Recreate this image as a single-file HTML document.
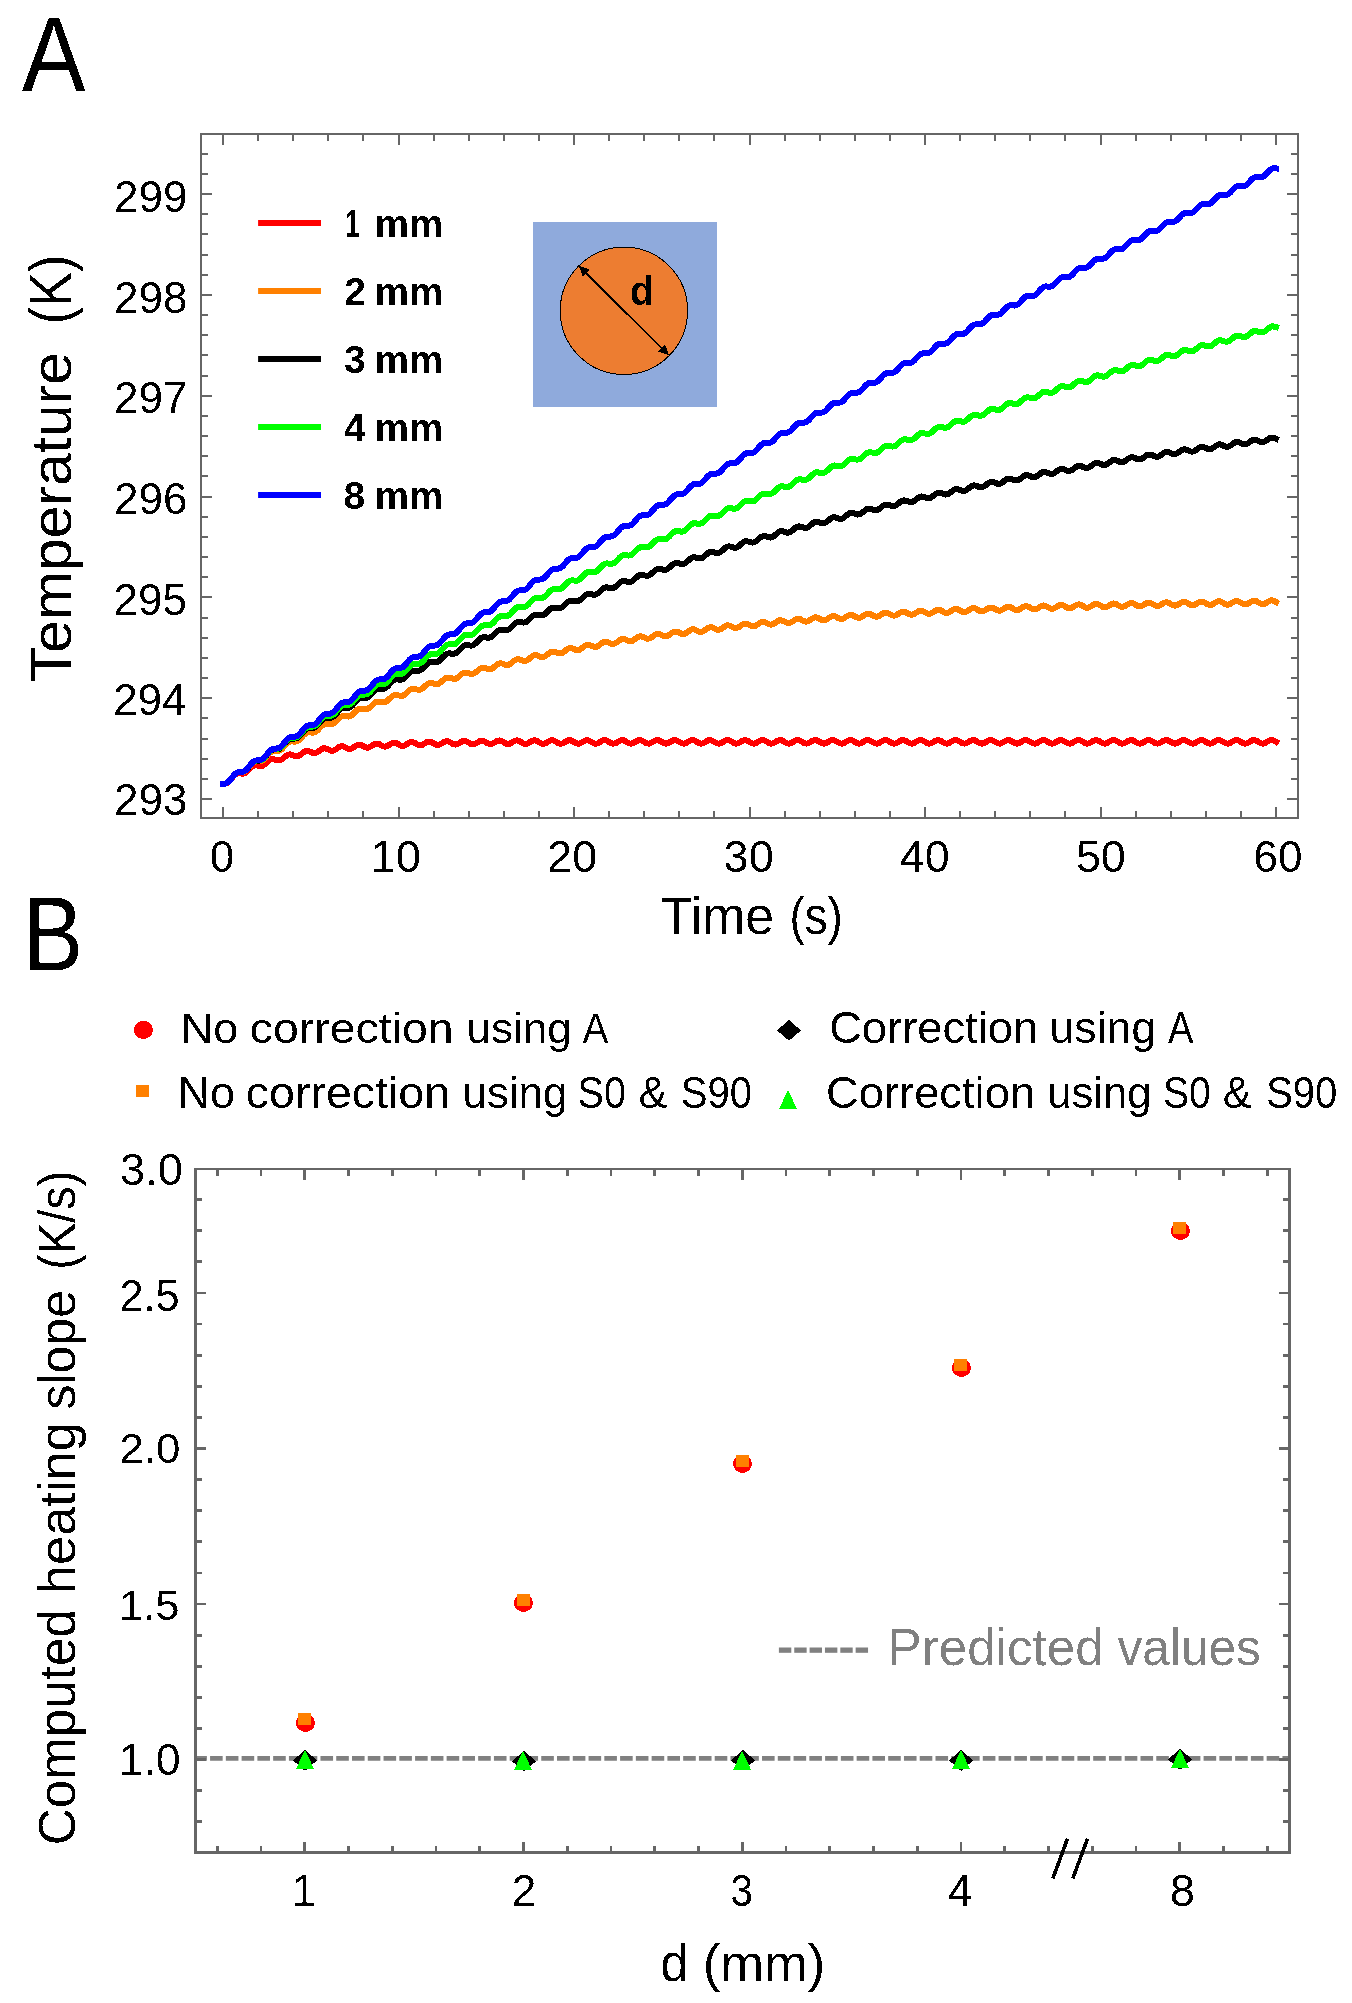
<!DOCTYPE html><html><head><meta charset="utf-8"><title>Figure</title>
<style>html,body{margin:0;padding:0;background:#fff;}svg{display:block;will-change:transform;}text{font-family:"Liberation Sans",sans-serif;font-size:100px;}</style></head><body>
<svg width="1352" height="2003" viewBox="0 0 1352 2003">
<rect width="1352" height="2003" fill="#fff"/>
<g shape-rendering="crispEdges">
<rect x="533.2" y="222" width="183.8" height="184.8" fill="#8FAADC"/>
<circle cx="623.9" cy="310.8" r="63.7" fill="#ED7D31" stroke="#000" stroke-width="1"/>
<path d="M582,268.8L665.7,352.1" stroke="#000" stroke-width="2"/>
<path d="M578.9,265.7L589.5,269.5L582.6,276.6Z" fill="#000"/>
<path d="M668.8,355.2L658.2,351.4L665.1,344.3Z" fill="#000"/>
</g>
<path d="M223.0,783.9 223.9,783.8 224.8,783.7 225.6,783.5 226.5,783.2 227.4,782.7 228.3,782.0 229.1,781.2 230.0,780.2 230.9,779.2 231.8,778.2 232.7,777.1 233.5,776.1 234.4,775.3 235.3,774.5 236.2,774.0 237.0,773.6 237.9,773.4 238.8,773.4 239.7,773.4 240.6,773.5 241.4,773.6 242.3,773.6 243.2,773.6 244.1,773.4 244.9,773.0 245.8,772.5 246.7,771.8 247.6,771.0 248.4,770.1 249.3,769.2 250.2,768.2 251.1,767.4 252.0,766.6 252.8,766.0 253.7,765.6 254.6,765.4 255.5,765.3 256.3,765.3 257.2,765.5 258.1,765.7 259.0,765.9 259.9,766.0 260.7,766.1 261.6,766.0 262.5,765.7 263.4,765.3 264.2,764.7 265.1,764.0 266.0,763.2 266.9,762.4 267.8,761.5 268.6,760.8 269.5,760.1 270.4,759.6 271.3,759.3 272.1,759.1 273.0,759.1 273.9,759.3 274.8,759.5 275.6,759.8 276.5,760.1 277.4,760.3 278.3,760.4 279.2,760.4 280.0,760.2 280.9,759.9 281.8,759.4 282.7,758.8 283.5,758.0 284.4,757.3 285.3,756.5 286.2,755.8 287.1,755.2 287.9,754.8 288.8,754.5 289.7,754.4 290.6,754.5 291.4,754.7 292.3,755.0 293.2,755.4 294.1,755.7 295.0,756.0 295.8,756.2 296.7,756.2 297.6,756.1 298.5,755.8 299.3,755.4 300.2,754.8 301.1,754.1 302.0,753.4 302.9,752.7 303.7,752.1 304.6,751.6 305.5,751.2 306.4,751.0 307.2,750.9 308.1,751.0 309.0,751.3 309.9,751.6 310.8,752.0 311.6,752.4 312.5,752.8 313.4,753.0 314.3,753.1 315.1,753.0 316.0,752.8 316.9,752.4 317.8,751.8 318.6,751.2 319.5,750.5 320.4,749.9 321.3,749.3 322.2,748.8 323.0,748.4 323.9,748.3 324.8,748.3 325.7,748.4 326.5,748.7 327.4,749.1 328.3,749.5 329.2,750.0 330.1,750.3 330.9,750.6 331.8,750.7 332.7,750.7 333.6,750.5 334.4,750.1 335.3,749.6 336.2,749.0 337.1,748.4 338.0,747.7 338.8,747.2 339.7,746.7 340.6,746.4 341.5,746.2 342.3,746.3 343.2,746.4 344.1,746.8 345.0,747.2 345.9,747.6 346.7,748.1 347.6,748.5 348.5,748.8 349.4,748.9 350.2,748.9 351.1,748.7 352.0,748.4 352.9,747.9 353.7,747.3 354.6,746.7 355.5,746.1 356.4,745.6 357.3,745.1 358.1,744.8 359.0,744.7 359.9,744.8 360.8,745.0 361.6,745.3 362.5,745.7 363.4,746.2 364.3,746.7 365.2,747.1 366.0,747.4 366.9,747.6 367.8,747.6 368.7,747.4 369.5,747.1 370.4,746.6 371.3,746.1 372.2,745.5 373.1,744.9 373.9,744.4 374.8,744.0 375.7,743.7 376.6,743.6 377.4,743.6 378.3,743.8 379.2,744.2 380.1,744.7 381.0,745.2 381.8,745.6 382.7,746.1 383.6,746.4 384.5,746.6 385.3,746.6 386.2,746.4 387.1,746.1 388.0,745.7 388.8,745.1 389.7,744.6 390.6,744.0 391.5,743.5 392.4,743.1 393.2,742.8 394.1,742.7 395.0,742.8 395.9,743.0 396.7,743.4 397.6,743.8 398.5,744.3 399.4,744.8 400.3,745.3 401.1,745.6 402.0,745.8 402.9,745.8 403.8,745.7 404.6,745.4 405.5,745.0 406.4,744.4 407.3,743.9 408.2,743.3 409.0,742.8 409.9,742.4 410.8,742.1 411.7,742.1 412.5,742.1 413.4,742.4 414.3,742.8 415.2,743.2 416.1,743.7 416.9,744.3 417.8,744.7 418.7,745.0 419.6,745.2 420.4,745.3 421.3,745.1 422.2,744.9 423.1,744.4 423.9,743.9 424.8,743.3 425.7,742.8 426.6,742.3 427.5,741.9 428.3,741.6 429.2,741.6 430.1,741.7 431.0,741.9 431.8,742.3 432.7,742.8 433.6,743.3 434.5,743.8 435.4,744.3 436.2,744.6 437.1,744.8 438.0,744.9 438.9,744.7 439.7,744.4 440.6,744.0 441.5,743.5 442.4,742.9 443.3,742.4 444.1,741.9 445.0,741.5 445.9,741.3 446.8,741.2 447.6,741.3 448.5,741.5 449.4,741.9 450.3,742.4 451.1,742.9 452.0,743.5 452.9,743.9 453.8,744.3 454.7,744.5 455.5,744.5 456.4,744.4 457.3,744.1 458.2,743.7 459.0,743.2 459.9,742.6 460.8,742.1 461.7,741.6 462.6,741.2 463.4,741.0 464.3,740.9 465.2,741.0 466.1,741.3 466.9,741.7 467.8,742.2 468.7,742.7 469.6,743.2 470.5,743.7 471.3,744.0 472.2,744.2 473.1,744.3 474.0,744.2 474.8,743.9 475.7,743.5 476.6,743.0 477.5,742.4 478.4,741.9 479.2,741.4 480.1,741.0 481.0,740.8 481.9,740.7 482.7,740.8 483.6,741.1 484.5,741.5 485.4,742.0 486.2,742.5 487.1,743.0 488.0,743.5 488.9,743.8 489.8,744.1 490.6,744.1 491.5,744.0 492.4,743.7 493.3,743.3 494.1,742.8 495.0,742.3 495.9,741.7 496.8,741.2 497.7,740.9 498.5,740.6 499.4,740.5 500.3,740.7 501.2,740.9 502.0,741.3 502.9,741.8 503.8,742.3 504.7,742.9 505.6,743.3 506.4,743.7 507.3,743.9 508.2,744.0 509.1,743.9 509.9,743.6 510.8,743.2 511.7,742.7 512.6,742.1 513.5,741.6 514.3,741.1 515.2,740.7 516.1,740.5 517.0,740.4 517.8,740.5 518.7,740.8 519.6,741.2 520.5,741.7 521.4,742.2 522.2,742.8 523.1,743.2 524.0,743.6 524.9,743.8 525.7,743.9 526.6,743.8 527.5,743.5 528.4,743.1 529.2,742.6 530.1,742.0 531.0,741.5 531.9,741.0 532.8,740.6 533.6,740.4 534.5,740.3 535.4,740.4 536.3,740.7 537.1,741.1 538.0,741.6 538.9,742.1 539.8,742.7 540.7,743.2 541.5,743.5 542.4,743.7 543.3,743.8 544.2,743.7 545.0,743.4 545.9,743.0 546.8,742.5 547.7,742.0 548.6,741.4 549.4,740.9 550.3,740.6 551.2,740.3 552.1,740.3 552.9,740.4 553.8,740.6 554.7,741.1 555.6,741.5 556.5,742.1 557.3,742.6 558.2,743.1 559.1,743.5 560.0,743.7 560.8,743.7 561.7,743.6 562.6,743.4 563.5,742.9 564.3,742.4 565.2,741.9 566.1,741.4 567.0,740.9 567.9,740.5 568.7,740.3 569.6,740.2 570.5,740.3 571.4,740.6 572.2,741.0 573.1,741.5 574.0,742.0 574.9,742.6 575.8,743.0 576.6,743.4 577.5,743.6 578.4,743.7 579.3,743.6 580.1,743.3 581.0,742.9 581.9,742.4 582.8,741.9 583.7,741.3 584.5,740.8 585.4,740.5 586.3,740.2 587.2,740.2 588.0,740.3 588.9,740.6 589.8,741.0 590.7,741.5 591.5,742.0 592.4,742.5 593.3,743.0 594.2,743.4 595.1,743.6 595.9,743.7 596.8,743.6 597.7,743.3 598.6,742.9 599.4,742.4 600.3,741.8 601.2,741.3 602.1,740.8 603.0,740.4 603.8,740.2 604.7,740.2 605.6,740.3 606.5,740.5 607.3,740.9 608.2,741.4 609.1,742.0 610.0,742.5 610.9,743.0 611.7,743.4 612.6,743.6 613.5,743.6 614.4,743.5 615.2,743.3 616.1,742.9 617.0,742.4 617.9,741.8 618.8,741.3 619.6,740.8 620.5,740.4 621.4,740.2 622.3,740.1 623.1,740.2 624.0,740.5 624.9,740.9 625.8,741.4 626.7,742.0 627.5,742.5 628.4,743.0 629.3,743.3 630.2,743.6 631.0,743.6 631.9,743.5 632.8,743.2 633.7,742.8 634.5,742.3 635.4,741.8 636.3,741.3 637.2,740.8 638.1,740.4 638.9,740.2 639.8,740.1 640.7,740.2 641.6,740.5 642.4,740.9 643.3,741.4 644.2,741.9 645.1,742.5 646.0,743.0 646.8,743.3 647.7,743.5 648.6,743.6 649.5,743.5 650.3,743.2 651.2,742.8 652.1,742.3 653.0,741.8 653.9,741.2 654.7,740.8 655.6,740.4 656.5,740.2 657.4,740.1 658.2,740.2 659.1,740.5 660.0,740.9 660.9,741.4 661.8,741.9 662.6,742.5 663.5,742.9 664.4,743.3 665.3,743.5 666.1,743.6 667.0,743.5 667.9,743.2 668.8,742.8 669.6,742.3 670.5,741.8 671.4,741.2 672.3,740.8 673.2,740.4 674.0,740.2 674.9,740.1 675.8,740.2 676.7,740.5 677.5,740.9 678.4,741.4 679.3,741.9 680.2,742.5 681.1,742.9 681.9,743.3 682.8,743.5 683.7,743.6 684.6,743.5 685.4,743.2 686.3,742.8 687.2,742.3 688.1,741.8 689.0,741.2 689.8,740.7 690.7,740.4 691.6,740.2 692.5,740.1 693.3,740.2 694.2,740.5 695.1,740.9 696.0,741.4 696.9,741.9 697.7,742.5 698.6,742.9 699.5,743.3 700.4,743.5 701.2,743.6 702.1,743.5 703.0,743.2 703.9,742.8 704.7,742.3 705.6,741.8 706.5,741.2 707.4,740.7 708.3,740.4 709.1,740.1 710.0,740.1 710.9,740.2 711.8,740.5 712.6,740.9 713.5,741.4 714.4,741.9 715.3,742.4 716.2,742.9 717.0,743.3 717.9,743.5 718.8,743.6 719.7,743.5 720.5,743.2 721.4,742.8 722.3,742.3 723.2,741.8 724.1,741.2 724.9,740.7 725.8,740.4 726.7,740.1 727.6,740.1 728.4,740.2 729.3,740.5 730.2,740.9 731.1,741.4 732.0,741.9 732.8,742.4 733.7,742.9 734.6,743.3 735.5,743.5 736.3,743.6 737.2,743.5 738.1,743.2 739.0,742.8 739.8,742.3 740.7,741.7 741.6,741.2 742.5,740.7 743.4,740.4 744.2,740.1 745.1,740.1 746.0,740.2 746.9,740.5 747.7,740.9 748.6,741.4 749.5,741.9 750.4,742.4 751.3,742.9 752.1,743.3 753.0,743.5 753.9,743.6 754.8,743.5 755.6,743.2 756.5,742.8 757.4,742.3 758.3,741.7 759.2,741.2 760.0,740.7 760.9,740.4 761.8,740.1 762.7,740.1 763.5,740.2 764.4,740.5 765.3,740.9 766.2,741.4 767.1,741.9 767.9,742.4 768.8,742.9 769.7,743.3 770.6,743.5 771.4,743.6 772.3,743.5 773.2,743.2 774.1,742.8 774.9,742.3 775.8,741.7 776.7,741.2 777.6,740.7 778.5,740.4 779.3,740.1 780.2,740.1 781.1,740.2 782.0,740.5 782.8,740.9 783.7,741.4 784.6,741.9 785.5,742.4 786.4,742.9 787.2,743.3 788.1,743.5 789.0,743.6 789.9,743.5 790.7,743.2 791.6,742.8 792.5,742.3 793.4,741.7 794.3,741.2 795.1,740.7 796.0,740.4 796.9,740.1 797.8,740.1 798.6,740.2 799.5,740.5 800.4,740.9 801.3,741.4 802.1,741.9 803.0,742.4 803.9,742.9 804.8,743.3 805.7,743.5 806.5,743.6 807.4,743.5 808.3,743.2 809.2,742.8 810.0,742.3 810.9,741.7 811.8,741.2 812.7,740.7 813.6,740.4 814.4,740.1 815.3,740.1 816.2,740.2 817.1,740.5 817.9,740.9 818.8,741.4 819.7,741.9 820.6,742.4 821.5,742.9 822.3,743.3 823.2,743.5 824.1,743.6 825.0,743.5 825.8,743.2 826.7,742.8 827.6,742.3 828.5,741.7 829.4,741.2 830.2,740.7 831.1,740.4 832.0,740.1 832.9,740.1 833.7,740.2 834.6,740.5 835.5,740.9 836.4,741.4 837.2,741.9 838.1,742.4 839.0,742.9 839.9,743.3 840.8,743.5 841.6,743.6 842.5,743.5 843.4,743.2 844.3,742.8 845.1,742.3 846.0,741.7 846.9,741.2 847.8,740.7 848.7,740.4 849.5,740.1 850.4,740.1 851.3,740.2 852.2,740.5 853.0,740.9 853.9,741.4 854.8,741.9 855.7,742.4 856.6,742.9 857.4,743.3 858.3,743.5 859.2,743.6 860.1,743.5 860.9,743.2 861.8,742.8 862.7,742.3 863.6,741.7 864.5,741.2 865.3,740.7 866.2,740.4 867.1,740.1 868.0,740.1 868.8,740.2 869.7,740.5 870.6,740.9 871.5,741.4 872.4,741.9 873.2,742.4 874.1,742.9 875.0,743.3 875.9,743.5 876.7,743.6 877.6,743.5 878.5,743.2 879.4,742.8 880.2,742.3 881.1,741.7 882.0,741.2 882.9,740.7 883.8,740.4 884.6,740.1 885.5,740.1 886.4,740.2 887.3,740.5 888.1,740.9 889.0,741.4 889.9,741.9 890.8,742.4 891.7,742.9 892.5,743.3 893.4,743.5 894.3,743.6 895.2,743.5 896.0,743.2 896.9,742.8 897.8,742.3 898.7,741.7 899.6,741.2 900.4,740.7 901.3,740.4 902.2,740.1 903.1,740.1 903.9,740.2 904.8,740.5 905.7,740.9 906.6,741.4 907.5,741.9 908.3,742.4 909.2,742.9 910.1,743.3 911.0,743.5 911.8,743.6 912.7,743.5 913.6,743.2 914.5,742.8 915.3,742.3 916.2,741.7 917.1,741.2 918.0,740.7 918.9,740.4 919.7,740.1 920.6,740.1 921.5,740.2 922.4,740.5 923.2,740.9 924.1,741.4 925.0,741.9 925.9,742.4 926.8,742.9 927.6,743.3 928.5,743.5 929.4,743.6 930.3,743.5 931.1,743.2 932.0,742.8 932.9,742.3 933.8,741.7 934.7,741.2 935.5,740.7 936.4,740.4 937.3,740.1 938.2,740.1 939.0,740.2 939.9,740.5 940.8,740.9 941.7,741.4 942.6,741.9 943.4,742.4 944.3,742.9 945.2,743.3 946.1,743.5 946.9,743.6 947.8,743.5 948.7,743.2 949.6,742.8 950.4,742.3 951.3,741.7 952.2,741.2 953.1,740.7 954.0,740.4 954.8,740.1 955.7,740.1 956.6,740.2 957.5,740.5 958.3,740.9 959.2,741.4 960.1,741.9 961.0,742.4 961.9,742.9 962.7,743.3 963.6,743.5 964.5,743.6 965.4,743.5 966.2,743.2 967.1,742.8 968.0,742.3 968.9,741.7 969.8,741.2 970.6,740.7 971.5,740.4 972.4,740.1 973.3,740.1 974.1,740.2 975.0,740.5 975.9,740.9 976.8,741.4 977.6,741.9 978.5,742.4 979.4,742.9 980.3,743.3 981.2,743.5 982.0,743.6 982.9,743.5 983.8,743.2 984.7,742.8 985.5,742.3 986.4,741.7 987.3,741.2 988.2,740.7 989.1,740.4 989.9,740.1 990.8,740.1 991.7,740.2 992.6,740.5 993.4,740.9 994.3,741.4 995.2,741.9 996.1,742.4 997.0,742.9 997.8,743.3 998.7,743.5 999.6,743.6 1000.5,743.5 1001.3,743.2 1002.2,742.8 1003.1,742.3 1004.0,741.7 1004.9,741.2 1005.7,740.7 1006.6,740.4 1007.5,740.1 1008.4,740.1 1009.2,740.2 1010.1,740.5 1011.0,740.9 1011.9,741.4 1012.8,741.9 1013.6,742.4 1014.5,742.9 1015.4,743.3 1016.3,743.5 1017.1,743.6 1018.0,743.5 1018.9,743.2 1019.8,742.8 1020.6,742.3 1021.5,741.7 1022.4,741.2 1023.3,740.7 1024.2,740.4 1025.0,740.1 1025.9,740.1 1026.8,740.2 1027.7,740.5 1028.5,740.9 1029.4,741.4 1030.3,741.9 1031.2,742.4 1032.1,742.9 1032.9,743.3 1033.8,743.5 1034.7,743.6 1035.6,743.5 1036.4,743.2 1037.3,742.8 1038.2,742.3 1039.1,741.7 1040.0,741.2 1040.8,740.7 1041.7,740.4 1042.6,740.1 1043.5,740.1 1044.3,740.2 1045.2,740.5 1046.1,740.9 1047.0,741.4 1047.8,741.9 1048.7,742.4 1049.6,742.9 1050.5,743.3 1051.4,743.5 1052.2,743.6 1053.1,743.5 1054.0,743.2 1054.9,742.8 1055.7,742.3 1056.6,741.7 1057.5,741.2 1058.4,740.7 1059.3,740.4 1060.1,740.1 1061.0,740.1 1061.9,740.2 1062.8,740.5 1063.6,740.9 1064.5,741.4 1065.4,741.9 1066.3,742.4 1067.2,742.9 1068.0,743.3 1068.9,743.5 1069.8,743.6 1070.7,743.5 1071.5,743.2 1072.4,742.8 1073.3,742.3 1074.2,741.7 1075.1,741.2 1075.9,740.7 1076.8,740.4 1077.7,740.1 1078.6,740.1 1079.4,740.2 1080.3,740.5 1081.2,740.9 1082.1,741.4 1083.0,741.9 1083.8,742.4 1084.7,742.9 1085.6,743.3 1086.5,743.5 1087.3,743.6 1088.2,743.5 1089.1,743.2 1090.0,742.8 1090.8,742.3 1091.7,741.7 1092.6,741.2 1093.5,740.7 1094.4,740.4 1095.2,740.1 1096.1,740.1 1097.0,740.2 1097.9,740.5 1098.7,740.9 1099.6,741.4 1100.5,741.9 1101.4,742.4 1102.3,742.9 1103.1,743.3 1104.0,743.5 1104.9,743.6 1105.8,743.5 1106.6,743.2 1107.5,742.8 1108.4,742.3 1109.3,741.7 1110.2,741.2 1111.0,740.7 1111.9,740.4 1112.8,740.1 1113.7,740.1 1114.5,740.2 1115.4,740.5 1116.3,740.9 1117.2,741.4 1118.1,741.9 1118.9,742.4 1119.8,742.9 1120.7,743.3 1121.6,743.5 1122.4,743.6 1123.3,743.5 1124.2,743.2 1125.1,742.8 1125.9,742.3 1126.8,741.7 1127.7,741.2 1128.6,740.7 1129.5,740.4 1130.3,740.1 1131.2,740.1 1132.1,740.2 1133.0,740.5 1133.8,740.9 1134.7,741.4 1135.6,741.9 1136.5,742.4 1137.4,742.9 1138.2,743.3 1139.1,743.5 1140.0,743.6 1140.9,743.5 1141.7,743.2 1142.6,742.8 1143.5,742.3 1144.4,741.7 1145.3,741.2 1146.1,740.7 1147.0,740.4 1147.9,740.1 1148.8,740.1 1149.6,740.2 1150.5,740.5 1151.4,740.9 1152.3,741.4 1153.2,741.9 1154.0,742.4 1154.9,742.9 1155.8,743.3 1156.7,743.5 1157.5,743.6 1158.4,743.5 1159.3,743.2 1160.2,742.8 1161.0,742.3 1161.9,741.7 1162.8,741.2 1163.7,740.7 1164.6,740.4 1165.4,740.1 1166.3,740.1 1167.2,740.2 1168.1,740.5 1168.9,740.9 1169.8,741.4 1170.7,741.9 1171.6,742.4 1172.5,742.9 1173.3,743.3 1174.2,743.5 1175.1,743.6 1176.0,743.5 1176.8,743.2 1177.7,742.8 1178.6,742.3 1179.5,741.7 1180.4,741.2 1181.2,740.7 1182.1,740.4 1183.0,740.1 1183.9,740.1 1184.7,740.2 1185.6,740.5 1186.5,740.9 1187.4,741.4 1188.2,741.9 1189.1,742.4 1190.0,742.9 1190.9,743.3 1191.8,743.5 1192.6,743.6 1193.5,743.5 1194.4,743.2 1195.3,742.8 1196.1,742.3 1197.0,741.7 1197.9,741.2 1198.8,740.7 1199.7,740.4 1200.5,740.1 1201.4,740.1 1202.3,740.2 1203.2,740.5 1204.0,740.9 1204.9,741.4 1205.8,741.9 1206.7,742.4 1207.6,742.9 1208.4,743.3 1209.3,743.5 1210.2,743.6 1211.1,743.5 1211.9,743.2 1212.8,742.8 1213.7,742.3 1214.6,741.7 1215.5,741.2 1216.3,740.7 1217.2,740.4 1218.1,740.1 1219.0,740.1 1219.8,740.2 1220.7,740.5 1221.6,740.9 1222.5,741.4 1223.3,741.9 1224.2,742.4 1225.1,742.9 1226.0,743.3 1226.9,743.5 1227.7,743.6 1228.6,743.5 1229.5,743.2 1230.4,742.8 1231.2,742.3 1232.1,741.7 1233.0,741.2 1233.9,740.7 1234.8,740.4 1235.6,740.1 1236.5,740.1 1237.4,740.2 1238.3,740.5 1239.1,740.9 1240.0,741.4 1240.9,741.9 1241.8,742.4 1242.7,742.9 1243.5,743.3 1244.4,743.5 1245.3,743.6 1246.2,743.5 1247.0,743.2 1247.9,742.8 1248.8,742.3 1249.7,741.7 1250.6,741.2 1251.4,740.7 1252.3,740.4 1253.2,740.1 1254.1,740.1 1254.9,740.2 1255.8,740.5 1256.7,740.9 1257.6,741.4 1258.5,741.9 1259.3,742.4 1260.2,742.9 1261.1,743.3 1262.0,743.5 1262.8,743.6 1263.7,743.5 1264.6,743.2 1265.5,742.8 1266.3,742.3 1267.2,741.7 1268.1,741.2 1269.0,740.7 1269.9,740.4 1270.7,740.1 1271.6,740.1 1272.5,740.2 1273.4,740.5 1274.2,740.9 1275.1,741.4 1276.0,741.9" fill="none" stroke="#ff0000" stroke-width="4.4" stroke-linejoin="round"/>
<path d="M223.0,783.9 223.9,783.8 224.8,783.7 225.6,783.5 226.5,783.2 227.4,782.7 228.3,782.0 229.1,781.2 230.0,780.2 230.9,779.2 231.8,778.2 232.7,777.1 233.5,776.1 234.4,775.3 235.3,774.5 236.2,774.0 237.0,773.6 237.9,773.4 238.8,773.4 239.7,773.4 240.6,773.5 241.4,773.6 242.3,773.6 243.2,773.6 244.1,773.4 244.9,773.0 245.8,772.5 246.7,771.8 247.6,771.0 248.4,770.1 249.3,769.2 250.2,768.2 251.1,767.4 252.0,766.6 252.8,766.0 253.7,765.6 254.6,765.4 255.5,765.3 256.3,765.3 257.2,765.5 258.1,765.7 259.0,765.9 259.9,766.0 260.7,766.1 261.6,766.0 262.5,765.7 263.4,765.3 264.2,764.7 265.1,764.0 266.0,763.2 266.9,762.4 267.8,761.5 268.6,760.8 269.5,760.1 270.4,759.6 271.3,759.3 272.1,759.1 273.0,759.1 273.9,759.3 274.8,759.5 275.6,759.8 276.5,760.1 277.4,760.3 278.3,760.4 279.2,760.4 280.0,760.2 280.9,759.9 281.8,759.4 282.7,758.8 283.5,758.0 284.4,757.3 285.3,756.5 286.2,755.8 287.1,755.2 287.9,754.8 288.8,754.5 289.7,754.4 290.6,754.5 291.4,754.7 292.3,755.0 293.2,755.4 294.1,755.7 295.0,756.0 295.8,756.2 296.7,756.2 297.6,756.1 298.5,755.8 299.3,755.4 300.2,754.8 301.1,754.1 302.0,753.4 302.9,752.7 303.7,752.1 304.6,751.6 305.5,751.2 306.4,751.0 307.2,750.9 308.1,751.0 309.0,751.3 309.9,751.6 310.8,752.0 311.6,752.4 312.5,752.8 313.4,753.0 314.3,753.1 315.1,753.0 316.0,752.8 316.9,752.4 317.8,751.8 318.6,751.2 319.5,750.5 320.4,749.9 321.3,749.3 322.2,748.8 323.0,748.4 323.9,748.3 324.8,748.3 325.7,748.4 326.5,748.7 327.4,749.1 328.3,749.5 329.2,750.0 330.1,750.3 330.9,750.6 331.8,750.7 332.7,750.7 333.6,750.5 334.4,750.1 335.3,749.6 336.2,749.0 337.1,748.4 338.0,747.7 338.8,747.2 339.7,746.7 340.6,746.4 341.5,746.2 342.3,746.3 343.2,746.4 344.1,746.8 345.0,747.2 345.9,747.6 346.7,748.1 347.6,748.5 348.5,748.8 349.4,748.9 350.2,748.9 351.1,748.7 352.0,748.4 352.9,747.9 353.7,747.3 354.6,746.7 355.5,746.1 356.4,745.6 357.3,745.1 358.1,744.8 359.0,744.7 359.9,744.8 360.8,745.0 361.6,745.3 362.5,745.7 363.4,746.2 364.3,746.7 365.2,747.1 366.0,747.4 366.9,747.6 367.8,747.6 368.7,747.4 369.5,747.1 370.4,746.6 371.3,746.1 372.2,745.5 373.1,744.9 373.9,744.4 374.8,744.0 375.7,743.7 376.6,743.6 377.4,743.6 378.3,743.8 379.2,744.2 380.1,744.7 381.0,745.2 381.8,745.6 382.7,746.1 383.6,746.4 384.5,746.6 385.3,746.6 386.2,746.4 387.1,746.1 388.0,745.7 388.8,745.1 389.7,744.6 390.6,744.0 391.5,743.5 392.4,743.1 393.2,742.8 394.1,742.7 395.0,742.8 395.9,743.0 396.7,743.4 397.6,743.8 398.5,744.3 399.4,744.8 400.3,745.3 401.1,745.6 402.0,745.8 402.9,745.8 403.8,745.7 404.6,745.4 405.5,745.0 406.4,744.4 407.3,743.9 408.2,743.3 409.0,742.8 409.9,742.4 410.8,742.1 411.7,742.1 412.5,742.1 413.4,742.4 414.3,742.8 415.2,743.2 416.1,743.7 416.9,744.3 417.8,744.7 418.7,745.0 419.6,745.2 420.4,745.3 421.3,745.1 422.2,744.9 423.1,744.4 423.9,743.9 424.8,743.3 425.7,742.8 426.6,742.3 427.5,741.9 428.3,741.6 429.2,741.6 430.1,741.7 431.0,741.9 431.8,742.3 432.7,742.8 433.6,743.3 434.5,743.8 435.4,744.3 436.2,744.6 437.1,744.8 438.0,744.9 438.9,744.7 439.7,744.4 440.6,744.0 441.5,743.5 442.4,742.9 443.3,742.4 444.1,741.9 445.0,741.5 445.9,741.3 446.8,741.2 447.6,741.3 448.5,741.5 449.4,741.9 450.3,742.4 451.1,742.9 452.0,743.5 452.9,743.9 453.8,744.3 454.7,744.5 455.5,744.5 456.4,744.4 457.3,744.1 458.2,743.7 459.0,743.2 459.9,742.6 460.8,742.1 461.7,741.6 462.6,741.2 463.4,741.0 464.3,740.9 465.2,741.0 466.1,741.3 466.9,741.7 467.8,742.2 468.7,742.7 469.6,743.2 470.5,743.7 471.3,744.0 472.2,744.2 473.1,744.3 474.0,744.2 474.8,743.9 475.7,743.5 476.6,743.0 477.5,742.4 478.4,741.9 479.2,741.4 480.1,741.0 481.0,740.8 481.9,740.7 482.7,740.8 483.6,741.1 484.5,741.5 485.4,742.0 486.2,742.5 487.1,743.0 488.0,743.5 488.9,743.8 489.8,744.1 490.6,744.1 491.5,744.0 492.4,743.7 493.3,743.3 494.1,742.8 495.0,742.3 495.9,741.7 496.8,741.2 497.7,740.9 498.5,740.6 499.4,740.5 500.3,740.7 501.2,740.9 502.0,741.3 502.9,741.8 503.8,742.3 504.7,742.9 505.6,743.3 506.4,743.7 507.3,743.9 508.2,744.0 509.1,743.9 509.9,743.6 510.8,743.2 511.7,742.7 512.6,742.1 513.5,741.6 514.3,741.1 515.2,740.7 516.1,740.5 517.0,740.4 517.8,740.5 518.7,740.8 519.6,741.2 520.5,741.7 521.4,742.2 522.2,742.8 523.1,743.2 524.0,743.6 524.9,743.8 525.7,743.9 526.6,743.8 527.5,743.5 528.4,743.1 529.2,742.6 530.1,742.0 531.0,741.5 531.9,741.0 532.8,740.6 533.6,740.4 534.5,740.3 535.4,740.4 536.3,740.7 537.1,741.1 538.0,741.6 538.9,742.1 539.8,742.7 540.7,743.2 541.5,743.5 542.4,743.7 543.3,743.8 544.2,743.7 545.0,743.4 545.9,743.0 546.8,742.5 547.7,742.0 548.6,741.4 549.4,740.9 550.3,740.6 551.2,740.3 552.1,740.3 552.9,740.4 553.8,740.6 554.7,741.1 555.6,741.5 556.5,742.1 557.3,742.6 558.2,743.1 559.1,743.5 560.0,743.7 560.8,743.7 561.7,743.6 562.6,743.4 563.5,742.9 564.3,742.4 565.2,741.9 566.1,741.4 567.0,740.9 567.9,740.5 568.7,740.3 569.6,740.2 570.5,740.3 571.4,740.6 572.2,741.0 573.1,741.5 574.0,742.0 574.9,742.6 575.8,743.0 576.6,743.4 577.5,743.6 578.4,743.7 579.3,743.6 580.1,743.3 581.0,742.9 581.9,742.4 582.8,741.9 583.7,741.3 584.5,740.8 585.4,740.5 586.3,740.2 587.2,740.2 588.0,740.3 588.9,740.6 589.8,741.0 590.7,741.5 591.5,742.0 592.4,742.5 593.3,743.0 594.2,743.4 595.1,743.6 595.9,743.7 596.8,743.6 597.7,743.3 598.6,742.9 599.4,742.4 600.3,741.8 601.2,741.3 602.1,740.8 603.0,740.4 603.8,740.2 604.7,740.2 605.6,740.3 606.5,740.5 607.3,740.9 608.2,741.4 609.1,742.0 610.0,742.5 610.9,743.0 611.7,743.4 612.6,743.6 613.5,743.6 614.4,743.5 615.2,743.3 616.1,742.9 617.0,742.4 617.9,741.8 618.8,741.3 619.6,740.8 620.5,740.4 621.4,740.2 622.3,740.1 623.1,740.2 624.0,740.5 624.9,740.9 625.8,741.4 626.7,742.0 627.5,742.5 628.4,743.0 629.3,743.3 630.2,743.6 631.0,743.6 631.9,743.5 632.8,743.2 633.7,742.8 634.5,742.3 635.4,741.8 636.3,741.3 637.2,740.8 638.1,740.4 638.9,740.2 639.8,740.1 640.7,740.2 641.6,740.5 642.4,740.9 643.3,741.4 644.2,741.9 645.1,742.5 646.0,743.0 646.8,743.3 647.7,743.5 648.6,743.6 649.5,743.5 650.3,743.2 651.2,742.8 652.1,742.3 653.0,741.8 653.9,741.2 654.7,740.8 655.6,740.4 656.5,740.2 657.4,740.1 658.2,740.2 659.1,740.5 660.0,740.9 660.9,741.4 661.8,741.9 662.6,742.5 663.5,742.9 664.4,743.3 665.3,743.5 666.1,743.6 667.0,743.5 667.9,743.2 668.8,742.8 669.6,742.3 670.5,741.8 671.4,741.2 672.3,740.8 673.2,740.4 674.0,740.2 674.9,740.1 675.8,740.2 676.7,740.5 677.5,740.9 678.4,741.4 679.3,741.9 680.2,742.5 681.1,742.9 681.9,743.3 682.8,743.5 683.7,743.6 684.6,743.5 685.4,743.2 686.3,742.8 687.2,742.3 688.1,741.8 689.0,741.2 689.8,740.7 690.7,740.4 691.6,740.2 692.5,740.1 693.3,740.2 694.2,740.5 695.1,740.9 696.0,741.4 696.9,741.9 697.7,742.5 698.6,742.9 699.5,743.3 700.4,743.5 701.2,743.6 702.1,743.5 703.0,743.2 703.9,742.8 704.7,742.3 705.6,741.8 706.5,741.2 707.4,740.7 708.3,740.4 709.1,740.1 710.0,740.1 710.9,740.2 711.8,740.5 712.6,740.9 713.5,741.4 714.4,741.9 715.3,742.4 716.2,742.9 717.0,743.3 717.9,743.5 718.8,743.6 719.7,743.5 720.5,743.2 721.4,742.8 722.3,742.3 723.2,741.8 724.1,741.2 724.9,740.7 725.8,740.4 726.7,740.1 727.6,740.1 728.4,740.2 729.3,740.5 730.2,740.9 731.1,741.4 732.0,741.9 732.8,742.4 733.7,742.9 734.6,743.3 735.5,743.5 736.3,743.6 737.2,743.5 738.1,743.2 739.0,742.8 739.8,742.3 740.7,741.7 741.6,741.2 742.5,740.7 743.4,740.4 744.2,740.1 745.1,740.1 746.0,740.2 746.9,740.5 747.7,740.9 748.6,741.4 749.5,741.9 750.4,742.4 751.3,742.9 752.1,743.3 753.0,743.5 753.9,743.6 754.8,743.5 755.6,743.2 756.5,742.8 757.4,742.3 758.3,741.7 759.2,741.2 760.0,740.7 760.9,740.4 761.8,740.1 762.7,740.1 763.5,740.2 764.4,740.5 765.3,740.9 766.2,741.4 767.1,741.9 767.9,742.4 768.8,742.9 769.7,743.3 770.6,743.5 771.4,743.6 772.3,743.5 773.2,743.2 774.1,742.8 774.9,742.3 775.8,741.7 776.7,741.2 777.6,740.7 778.5,740.4 779.3,740.1 780.2,740.1 781.1,740.2 782.0,740.5 782.8,740.9 783.7,741.4 784.6,741.9 785.5,742.4 786.4,742.9 787.2,743.3 788.1,743.5 789.0,743.6 789.9,743.5 790.7,743.2 791.6,742.8 792.5,742.3 793.4,741.7 794.3,741.2 795.1,740.7 796.0,740.4 796.9,740.1 797.8,740.1 798.6,740.2 799.5,740.5 800.4,740.9 801.3,741.4 802.1,741.9 803.0,742.4 803.9,742.9 804.8,743.3 805.7,743.5 806.5,743.6 807.4,743.5 808.3,743.2 809.2,742.8 810.0,742.3 810.9,741.7 811.8,741.2 812.7,740.7 813.6,740.4 814.4,740.1 815.3,740.1 816.2,740.2 817.1,740.5 817.9,740.9 818.8,741.4 819.7,741.9 820.6,742.4 821.5,742.9 822.3,743.3 823.2,743.5 824.1,743.6 825.0,743.5 825.8,743.2 826.7,742.8 827.6,742.3 828.5,741.7 829.4,741.2 830.2,740.7 831.1,740.4 832.0,740.1 832.9,740.1 833.7,740.2 834.6,740.5 835.5,740.9 836.4,741.4 837.2,741.9 838.1,742.4 839.0,742.9 839.9,743.3 840.8,743.5 841.6,743.6 842.5,743.5 843.4,743.2 844.3,742.8 845.1,742.3 846.0,741.7 846.9,741.2 847.8,740.7 848.7,740.4 849.5,740.1 850.4,740.1 851.3,740.2 852.2,740.5 853.0,740.9 853.9,741.4 854.8,741.9 855.7,742.4 856.6,742.9 857.4,743.3 858.3,743.5 859.2,743.6 860.1,743.5 860.9,743.2 861.8,742.8 862.7,742.3 863.6,741.7 864.5,741.2 865.3,740.7 866.2,740.4 867.1,740.1 868.0,740.1 868.8,740.2 869.7,740.5 870.6,740.9 871.5,741.4 872.4,741.9 873.2,742.4 874.1,742.9 875.0,743.3 875.9,743.5 876.7,743.6 877.6,743.5 878.5,743.2 879.4,742.8 880.2,742.3 881.1,741.7 882.0,741.2 882.9,740.7 883.8,740.4 884.6,740.1 885.5,740.1 886.4,740.2 887.3,740.5 888.1,740.9 889.0,741.4 889.9,741.9 890.8,742.4 891.7,742.9 892.5,743.3 893.4,743.5 894.3,743.6 895.2,743.5 896.0,743.2 896.9,742.8 897.8,742.3 898.7,741.7 899.6,741.2 900.4,740.7 901.3,740.4 902.2,740.1 903.1,740.1 903.9,740.2 904.8,740.5 905.7,740.9 906.6,741.4 907.5,741.9 908.3,742.4 909.2,742.9 910.1,743.3 911.0,743.5 911.8,743.6 912.7,743.5 913.6,743.2 914.5,742.8 915.3,742.3 916.2,741.7 917.1,741.2 918.0,740.7 918.9,740.4 919.7,740.1 920.6,740.1 921.5,740.2 922.4,740.5 923.2,740.9 924.1,741.4 925.0,741.9 925.9,742.4 926.8,742.9 927.6,743.3 928.5,743.5 929.4,743.6 930.3,743.5 931.1,743.2 932.0,742.8 932.9,742.3 933.8,741.7 934.7,741.2 935.5,740.7 936.4,740.4 937.3,740.1 938.2,740.1 939.0,740.2 939.9,740.5 940.8,740.9 941.7,741.4 942.6,741.9 943.4,742.4 944.3,742.9 945.2,743.3 946.1,743.5 946.9,743.6 947.8,743.5 948.7,743.2 949.6,742.8 950.4,742.3 951.3,741.7 952.2,741.2 953.1,740.7 954.0,740.4 954.8,740.1 955.7,740.1 956.6,740.2 957.5,740.5 958.3,740.9 959.2,741.4 960.1,741.9 961.0,742.4 961.9,742.9 962.7,743.3 963.6,743.5 964.5,743.6 965.4,743.5 966.2,743.2 967.1,742.8 968.0,742.3 968.9,741.7 969.8,741.2 970.6,740.7 971.5,740.4 972.4,740.1 973.3,740.1 974.1,740.2 975.0,740.5 975.9,740.9 976.8,741.4 977.6,741.9 978.5,742.4 979.4,742.9 980.3,743.3 981.2,743.5 982.0,743.6 982.9,743.5 983.8,743.2 984.7,742.8 985.5,742.3 986.4,741.7 987.3,741.2 988.2,740.7 989.1,740.4 989.9,740.1 990.8,740.1 991.7,740.2 992.6,740.5 993.4,740.9 994.3,741.4 995.2,741.9 996.1,742.4 997.0,742.9 997.8,743.3 998.7,743.5 999.6,743.6 1000.5,743.5 1001.3,743.2 1002.2,742.8 1003.1,742.3 1004.0,741.7 1004.9,741.2 1005.7,740.7 1006.6,740.4 1007.5,740.1 1008.4,740.1 1009.2,740.2 1010.1,740.5 1011.0,740.9 1011.9,741.4 1012.8,741.9 1013.6,742.4 1014.5,742.9 1015.4,743.3 1016.3,743.5 1017.1,743.6 1018.0,743.5 1018.9,743.2 1019.8,742.8 1020.6,742.3 1021.5,741.7 1022.4,741.2 1023.3,740.7 1024.2,740.4 1025.0,740.1 1025.9,740.1 1026.8,740.2 1027.7,740.5 1028.5,740.9 1029.4,741.4 1030.3,741.9 1031.2,742.4 1032.1,742.9 1032.9,743.3 1033.8,743.5 1034.7,743.6 1035.6,743.5 1036.4,743.2 1037.3,742.8 1038.2,742.3 1039.1,741.7 1040.0,741.2 1040.8,740.7 1041.7,740.4 1042.6,740.1 1043.5,740.1 1044.3,740.2 1045.2,740.5 1046.1,740.9 1047.0,741.4 1047.8,741.9 1048.7,742.4 1049.6,742.9 1050.5,743.3 1051.4,743.5 1052.2,743.6 1053.1,743.5 1054.0,743.2 1054.9,742.8 1055.7,742.3 1056.6,741.7 1057.5,741.2 1058.4,740.7 1059.3,740.4 1060.1,740.1 1061.0,740.1 1061.9,740.2 1062.8,740.5 1063.6,740.9 1064.5,741.4 1065.4,741.9 1066.3,742.4 1067.2,742.9 1068.0,743.3 1068.9,743.5 1069.8,743.6 1070.7,743.5 1071.5,743.2 1072.4,742.8 1073.3,742.3 1074.2,741.7 1075.1,741.2 1075.9,740.7 1076.8,740.4 1077.7,740.1 1078.6,740.1 1079.4,740.2 1080.3,740.5 1081.2,740.9 1082.1,741.4 1083.0,741.9 1083.8,742.4 1084.7,742.9 1085.6,743.3 1086.5,743.5 1087.3,743.6 1088.2,743.5 1089.1,743.2 1090.0,742.8 1090.8,742.3 1091.7,741.7 1092.6,741.2 1093.5,740.7 1094.4,740.4 1095.2,740.1 1096.1,740.1 1097.0,740.2 1097.9,740.5 1098.7,740.9 1099.6,741.4 1100.5,741.9 1101.4,742.4 1102.3,742.9 1103.1,743.3 1104.0,743.5 1104.9,743.6 1105.8,743.5 1106.6,743.2 1107.5,742.8 1108.4,742.3 1109.3,741.7 1110.2,741.2 1111.0,740.7 1111.9,740.4 1112.8,740.1 1113.7,740.1 1114.5,740.2 1115.4,740.5 1116.3,740.9 1117.2,741.4 1118.1,741.9 1118.9,742.4 1119.8,742.9 1120.7,743.3 1121.6,743.5 1122.4,743.6 1123.3,743.5 1124.2,743.2 1125.1,742.8 1125.9,742.3 1126.8,741.7 1127.7,741.2 1128.6,740.7 1129.5,740.4 1130.3,740.1 1131.2,740.1 1132.1,740.2 1133.0,740.5 1133.8,740.9 1134.7,741.4 1135.6,741.9 1136.5,742.4 1137.4,742.9 1138.2,743.3 1139.1,743.5 1140.0,743.6 1140.9,743.5 1141.7,743.2 1142.6,742.8 1143.5,742.3 1144.4,741.7 1145.3,741.2 1146.1,740.7 1147.0,740.4 1147.9,740.1 1148.8,740.1 1149.6,740.2 1150.5,740.5 1151.4,740.9 1152.3,741.4 1153.2,741.9 1154.0,742.4 1154.9,742.9 1155.8,743.3 1156.7,743.5 1157.5,743.6 1158.4,743.5 1159.3,743.2 1160.2,742.8 1161.0,742.3 1161.9,741.7 1162.8,741.2 1163.7,740.7 1164.6,740.4 1165.4,740.1 1166.3,740.1 1167.2,740.2 1168.1,740.5 1168.9,740.9 1169.8,741.4 1170.7,741.9 1171.6,742.4 1172.5,742.9 1173.3,743.3 1174.2,743.5 1175.1,743.6 1176.0,743.5 1176.8,743.2 1177.7,742.8 1178.6,742.3 1179.5,741.7 1180.4,741.2 1181.2,740.7 1182.1,740.4 1183.0,740.1 1183.9,740.1 1184.7,740.2 1185.6,740.5 1186.5,740.9 1187.4,741.4 1188.2,741.9 1189.1,742.4 1190.0,742.9 1190.9,743.3 1191.8,743.5 1192.6,743.6 1193.5,743.5 1194.4,743.2 1195.3,742.8 1196.1,742.3 1197.0,741.7 1197.9,741.2 1198.8,740.7 1199.7,740.4 1200.5,740.1 1201.4,740.1 1202.3,740.2 1203.2,740.5 1204.0,740.9 1204.9,741.4 1205.8,741.9 1206.7,742.4 1207.6,742.9 1208.4,743.3 1209.3,743.5 1210.2,743.6 1211.1,743.5 1211.9,743.2 1212.8,742.8 1213.7,742.3 1214.6,741.7 1215.5,741.2 1216.3,740.7 1217.2,740.4 1218.1,740.1 1219.0,740.1 1219.8,740.2 1220.7,740.5 1221.6,740.9 1222.5,741.4 1223.3,741.9 1224.2,742.4 1225.1,742.9 1226.0,743.3 1226.9,743.5 1227.7,743.6 1228.6,743.5 1229.5,743.2 1230.4,742.8 1231.2,742.3 1232.1,741.7 1233.0,741.2 1233.9,740.7 1234.8,740.4 1235.6,740.1 1236.5,740.1 1237.4,740.2 1238.3,740.5 1239.1,740.9 1240.0,741.4 1240.9,741.9 1241.8,742.4 1242.7,742.9 1243.5,743.3 1244.4,743.5 1245.3,743.6 1246.2,743.5 1247.0,743.2 1247.9,742.8 1248.8,742.3 1249.7,741.7 1250.6,741.2 1251.4,740.7 1252.3,740.4 1253.2,740.1 1254.1,740.1 1254.9,740.2 1255.8,740.5 1256.7,740.9 1257.6,741.4 1258.5,741.9 1259.3,742.4 1260.2,742.9 1261.1,743.3 1262.0,743.5 1262.8,743.6 1263.7,743.5 1264.6,743.2 1265.5,742.8 1266.3,742.3 1267.2,741.7 1268.1,741.2 1269.0,740.7 1269.9,740.4 1270.7,740.1 1271.6,740.1 1272.5,740.2 1273.4,740.5 1274.2,740.9 1275.1,741.4 1276.0,741.9" fill="none" stroke="#ff0000" stroke-width="6" stroke-linejoin="round" stroke-linecap="square" shape-rendering="crispEdges"/>
<path d="M223.0,783.9 223.9,783.8 224.8,783.7 225.6,783.5 226.5,783.1 227.4,782.6 228.3,782.0 229.1,781.1 230.0,780.1 230.9,779.1 231.8,777.9 232.7,776.8 233.5,775.7 234.4,774.8 235.3,773.9 236.2,773.3 237.0,772.8 237.9,772.5 238.8,772.3 239.7,772.3 240.6,772.2 241.4,772.2 242.3,772.1 243.2,772.0 244.1,771.7 244.9,771.2 245.8,770.5 246.7,769.7 247.6,768.8 248.4,767.7 249.3,766.7 250.2,765.6 251.1,764.5 252.0,763.6 252.8,762.8 253.7,762.2 254.6,761.8 255.5,761.5 256.3,761.3 257.2,761.3 258.1,761.3 259.0,761.3 259.9,761.3 260.7,761.2 261.6,760.9 262.5,760.4 263.4,759.8 264.2,759.1 265.1,758.2 266.0,757.1 266.9,756.1 267.8,755.0 268.6,754.0 269.5,753.1 270.4,752.4 271.3,751.8 272.1,751.4 273.0,751.2 273.9,751.0 274.8,751.0 275.6,751.1 276.5,751.1 277.4,751.1 278.3,751.0 279.2,750.8 280.0,750.4 280.9,749.8 281.8,749.1 282.7,748.2 283.5,747.2 284.4,746.2 285.3,745.2 286.2,744.2 287.1,743.3 287.9,742.6 288.8,742.1 289.7,741.7 290.6,741.5 291.4,741.4 292.3,741.4 293.2,741.5 294.1,741.6 295.0,741.6 295.8,741.5 296.7,741.3 297.6,741.0 298.5,740.4 299.3,739.7 300.2,738.8 301.1,737.9 302.0,736.9 302.9,735.9 303.7,735.0 304.6,734.2 305.5,733.5 306.4,732.9 307.2,732.6 308.1,732.4 309.0,732.4 309.9,732.4 310.8,732.5 311.6,732.6 312.5,732.7 313.4,732.6 314.3,732.5 315.1,732.1 316.0,731.6 316.9,730.9 317.8,730.1 318.6,729.2 319.5,728.2 320.4,727.2 321.3,726.3 322.2,725.5 323.0,724.9 323.9,724.4 324.8,724.1 325.7,723.9 326.5,723.9 327.4,724.0 328.3,724.1 329.2,724.2 330.1,724.3 330.9,724.3 331.8,724.1 332.7,723.8 333.6,723.3 334.4,722.7 335.3,721.9 336.2,721.0 337.1,720.1 338.0,719.1 338.8,718.2 339.7,717.5 340.6,716.8 341.5,716.4 342.3,716.1 343.2,715.9 344.1,715.9 345.0,716.1 345.9,716.2 346.7,716.4 347.6,716.5 348.5,716.5 349.4,716.4 350.2,716.1 351.1,715.6 352.0,715.0 352.9,714.2 353.7,713.3 354.6,712.4 355.5,711.5 356.4,710.7 357.3,709.9 358.1,709.3 359.0,708.8 359.9,708.6 360.8,708.5 361.6,708.5 362.5,708.6 363.4,708.8 364.3,709.0 365.2,709.1 366.0,709.2 366.9,709.1 367.8,708.8 368.7,708.3 369.5,707.7 370.4,707.0 371.3,706.2 372.2,705.3 373.1,704.4 373.9,703.5 374.8,702.8 375.7,702.2 376.6,701.8 377.4,701.5 378.3,701.5 379.2,701.5 380.1,701.7 381.0,701.9 381.8,702.1 382.7,702.2 383.6,702.3 384.5,702.2 385.3,702.0 386.2,701.5 387.1,701.0 388.0,700.2 388.8,699.4 389.7,698.5 390.6,697.7 391.5,696.9 392.4,696.2 393.2,695.6 394.1,695.2 395.0,695.0 395.9,694.9 396.7,695.0 397.6,695.2 398.5,695.4 399.4,695.6 400.3,695.8 401.1,695.9 402.0,695.8 402.9,695.6 403.8,695.2 404.6,694.6 405.5,693.9 406.4,693.1 407.3,692.3 408.2,691.4 409.0,690.6 409.9,689.9 410.8,689.4 411.7,689.0 412.5,688.8 413.4,688.8 414.3,688.9 415.2,689.0 416.1,689.3 416.9,689.5 417.8,689.7 418.7,689.8 419.6,689.8 420.4,689.6 421.3,689.2 422.2,688.7 423.1,688.0 423.9,687.2 424.8,686.4 425.7,685.5 426.6,684.8 427.5,684.1 428.3,683.6 429.2,683.2 430.1,683.0 431.0,683.0 431.8,683.1 432.7,683.3 433.6,683.6 434.5,683.9 435.4,684.1 436.2,684.2 437.1,684.2 438.0,684.0 438.9,683.6 439.7,683.1 440.6,682.4 441.5,681.6 442.4,680.8 443.3,680.0 444.1,679.3 445.0,678.6 445.9,678.1 446.8,677.8 447.6,677.6 448.5,677.6 449.4,677.7 450.3,678.0 451.1,678.2 452.0,678.5 452.9,678.8 453.8,678.9 454.7,678.9 455.5,678.7 456.4,678.4 457.3,677.8 458.2,677.2 459.0,676.5 459.9,675.7 460.8,674.9 461.7,674.1 462.6,673.5 463.4,673.0 464.3,672.7 465.2,672.5 466.1,672.5 466.9,672.7 467.8,672.9 468.7,673.2 469.6,673.5 470.5,673.8 471.3,673.9 472.2,673.9 473.1,673.8 474.0,673.4 474.8,672.9 475.7,672.3 476.6,671.6 477.5,670.8 478.4,670.0 479.2,669.3 480.1,668.7 481.0,668.2 481.9,667.9 482.7,667.8 483.6,667.8 484.5,667.9 485.4,668.2 486.2,668.5 487.1,668.8 488.0,669.1 488.9,669.3 489.8,669.3 490.6,669.1 491.5,668.8 492.4,668.4 493.3,667.7 494.1,667.0 495.0,666.3 495.9,665.5 496.8,664.8 497.7,664.2 498.5,663.7 499.4,663.4 500.3,663.3 501.2,663.3 502.0,663.5 502.9,663.8 503.8,664.1 504.7,664.5 505.6,664.7 506.4,664.9 507.3,664.9 508.2,664.8 509.1,664.5 509.9,664.0 510.8,663.4 511.7,662.7 512.6,662.0 513.5,661.2 514.3,660.5 515.2,660.0 516.1,659.5 517.0,659.2 517.8,659.1 518.7,659.2 519.6,659.4 520.5,659.7 521.4,660.0 522.2,660.3 523.1,660.6 524.0,660.8 524.9,660.9 525.7,660.7 526.6,660.5 527.5,660.0 528.4,659.4 529.2,658.7 530.1,658.0 531.0,657.3 531.9,656.6 532.8,656.0 533.6,655.6 534.5,655.3 535.4,655.2 536.3,655.3 537.1,655.5 538.0,655.8 538.9,656.1 539.8,656.5 540.7,656.8 541.5,657.0 542.4,657.0 543.3,656.9 544.2,656.7 545.0,656.2 545.9,655.7 546.8,655.0 547.7,654.2 548.6,653.5 549.4,652.9 550.3,652.3 551.2,651.9 552.1,651.6 552.9,651.5 553.8,651.6 554.7,651.8 555.6,652.1 556.5,652.5 557.3,652.9 558.2,653.2 559.1,653.4 560.0,653.5 560.8,653.4 561.7,653.1 562.6,652.7 563.5,652.1 564.3,651.5 565.2,650.7 566.1,650.0 567.0,649.4 567.9,648.8 568.7,648.4 569.6,648.2 570.5,648.1 571.4,648.2 572.2,648.4 573.1,648.7 574.0,649.1 574.9,649.5 575.8,649.8 576.6,650.0 577.5,650.1 578.4,650.0 579.3,649.8 580.1,649.4 581.0,648.8 581.9,648.2 582.8,647.4 583.7,646.7 584.5,646.1 585.4,645.6 586.3,645.2 587.2,644.9 588.0,644.9 588.9,645.0 589.8,645.2 590.7,645.5 591.5,645.9 592.4,646.3 593.3,646.6 594.2,646.9 595.1,647.0 595.9,646.9 596.8,646.7 597.7,646.2 598.6,645.7 599.4,645.1 600.3,644.4 601.2,643.7 602.1,643.0 603.0,642.5 603.8,642.1 604.7,641.9 605.6,641.8 606.5,641.9 607.3,642.2 608.2,642.5 609.1,642.9 610.0,643.3 610.9,643.7 611.7,643.9 612.6,644.0 613.5,644.0 614.4,643.7 615.2,643.3 616.1,642.8 617.0,642.2 617.9,641.5 618.8,640.8 619.6,640.2 620.5,639.6 621.4,639.3 622.3,639.0 623.1,639.0 624.0,639.1 624.9,639.4 625.8,639.7 626.7,640.1 627.5,640.5 628.4,640.9 629.3,641.1 630.2,641.3 631.0,641.2 631.9,641.0 632.8,640.6 633.7,640.1 634.5,639.4 635.4,638.8 636.3,638.1 637.2,637.5 638.1,637.0 638.9,636.6 639.8,636.4 640.7,636.3 641.6,636.5 642.4,636.7 643.3,637.1 644.2,637.5 645.1,637.9 646.0,638.3 646.8,638.6 647.7,638.7 648.6,638.6 649.5,638.4 650.3,638.0 651.2,637.5 652.1,636.9 653.0,636.2 653.9,635.6 654.7,635.0 655.6,634.4 656.5,634.1 657.4,633.9 658.2,633.8 659.1,634.0 660.0,634.3 660.9,634.6 661.8,635.1 662.6,635.5 663.5,635.8 664.4,636.1 665.3,636.2 666.1,636.2 667.0,636.0 667.9,635.6 668.8,635.1 669.6,634.5 670.5,633.8 671.4,633.2 672.3,632.6 673.2,632.1 674.0,631.7 674.9,631.5 675.8,631.5 676.7,631.7 677.5,631.9 678.4,632.3 679.3,632.8 680.2,633.2 681.1,633.6 681.9,633.8 682.8,634.0 683.7,633.9 684.6,633.7 685.4,633.4 686.3,632.9 687.2,632.3 688.1,631.6 689.0,631.0 689.8,630.4 690.7,629.9 691.6,629.5 692.5,629.3 693.3,629.3 694.2,629.5 695.1,629.8 696.0,630.2 696.9,630.6 697.7,631.0 698.6,631.4 699.5,631.7 700.4,631.8 701.2,631.8 702.1,631.6 703.0,631.3 703.9,630.8 704.7,630.2 705.6,629.5 706.5,628.9 707.4,628.3 708.3,627.8 709.1,627.5 710.0,627.3 710.9,627.3 711.8,627.4 712.6,627.7 713.5,628.1 714.4,628.6 715.3,629.0 716.2,629.4 717.0,629.7 717.9,629.8 718.8,629.8 719.7,629.6 720.5,629.3 721.4,628.8 722.3,628.2 723.2,627.6 724.1,626.9 724.9,626.3 725.8,625.9 726.7,625.5 727.6,625.4 728.4,625.4 729.3,625.5 730.2,625.8 731.1,626.2 732.0,626.7 732.8,627.1 733.7,627.5 734.6,627.8 735.5,628.0 736.3,628.0 737.2,627.8 738.1,627.4 739.0,627.0 739.8,626.4 740.7,625.7 741.6,625.1 742.5,624.5 743.4,624.1 744.2,623.7 745.1,623.6 746.0,623.6 746.9,623.7 747.7,624.0 748.6,624.4 749.5,624.9 750.4,625.4 751.3,625.8 752.1,626.1 753.0,626.2 753.9,626.2 754.8,626.0 755.6,625.7 756.5,625.2 757.4,624.6 758.3,624.0 759.2,623.4 760.0,622.8 760.9,622.3 761.8,622.0 762.7,621.9 763.5,621.9 764.4,622.0 765.3,622.4 766.2,622.8 767.1,623.2 767.9,623.7 768.8,624.1 769.7,624.4 770.6,624.6 771.4,624.6 772.3,624.4 773.2,624.1 774.1,623.6 774.9,623.0 775.8,622.4 776.7,621.8 777.6,621.2 778.5,620.8 779.3,620.4 780.2,620.3 781.1,620.3 782.0,620.5 782.8,620.8 783.7,621.2 784.6,621.7 785.5,622.1 786.4,622.5 787.2,622.9 788.1,623.0 789.0,623.0 789.9,622.9 790.7,622.5 791.6,622.1 792.5,621.5 793.4,620.9 794.3,620.3 795.1,619.7 796.0,619.3 796.9,618.9 797.8,618.8 798.6,618.8 799.5,619.0 800.4,619.3 801.3,619.7 802.1,620.2 803.0,620.7 803.9,621.1 804.8,621.4 805.7,621.6 806.5,621.6 807.4,621.4 808.3,621.1 809.2,620.6 810.0,620.1 810.9,619.5 811.8,618.9 812.7,618.3 813.6,617.9 814.4,617.5 815.3,617.4 816.2,617.4 817.1,617.6 817.9,617.9 818.8,618.4 819.7,618.8 820.6,619.3 821.5,619.7 822.3,620.1 823.2,620.2 824.1,620.2 825.0,620.1 825.8,619.8 826.7,619.3 827.6,618.8 828.5,618.1 829.4,617.5 830.2,617.0 831.1,616.5 832.0,616.2 832.9,616.1 833.7,616.1 834.6,616.3 835.5,616.6 836.4,617.1 837.2,617.5 838.1,618.0 839.0,618.5 839.9,618.8 840.8,619.0 841.6,619.0 842.5,618.8 843.4,618.5 844.3,618.1 845.1,617.5 846.0,616.9 846.9,616.3 847.8,615.7 848.7,615.3 849.5,615.0 850.4,614.9 851.3,614.9 852.2,615.1 853.0,615.4 853.9,615.9 854.8,616.3 855.7,616.8 856.6,617.3 857.4,617.6 858.3,617.8 859.2,617.8 860.1,617.6 860.9,617.3 861.8,616.9 862.7,616.3 863.6,615.7 864.5,615.1 865.3,614.6 866.2,614.1 867.1,613.8 868.0,613.7 868.8,613.7 869.7,613.9 870.6,614.3 871.5,614.7 872.4,615.2 873.2,615.7 874.1,616.1 875.0,616.5 875.9,616.7 876.7,616.7 877.6,616.5 878.5,616.2 879.4,615.8 880.2,615.2 881.1,614.6 882.0,614.0 882.9,613.5 883.8,613.1 884.6,612.8 885.5,612.6 886.4,612.7 887.3,612.9 888.1,613.2 889.0,613.7 889.9,614.2 890.8,614.6 891.7,615.1 892.5,615.4 893.4,615.6 894.3,615.6 895.2,615.5 896.0,615.2 896.9,614.8 897.8,614.2 898.7,613.6 899.6,613.0 900.4,612.5 901.3,612.1 902.2,611.8 903.1,611.6 903.9,611.7 904.8,611.9 905.7,612.2 906.6,612.7 907.5,613.2 908.3,613.7 909.2,614.1 910.1,614.4 911.0,614.6 911.8,614.7 912.7,614.5 913.6,614.2 914.5,613.8 915.3,613.2 916.2,612.7 917.1,612.1 918.0,611.5 918.9,611.1 919.7,610.8 920.6,610.7 921.5,610.7 922.4,610.9 923.2,611.3 924.1,611.7 925.0,612.2 925.9,612.7 926.8,613.2 927.6,613.5 928.5,613.7 929.4,613.8 930.3,613.6 931.1,613.3 932.0,612.9 932.9,612.3 933.8,611.8 934.7,611.2 935.5,610.6 936.4,610.2 937.3,609.9 938.2,609.8 939.0,609.8 939.9,610.1 940.8,610.4 941.7,610.9 942.6,611.4 943.4,611.9 944.3,612.3 945.2,612.7 946.1,612.9 946.9,612.9 947.8,612.8 948.7,612.5 949.6,612.0 950.4,611.5 951.3,610.9 952.2,610.3 953.1,609.8 954.0,609.4 954.8,609.1 955.7,609.0 956.6,609.0 957.5,609.2 958.3,609.6 959.2,610.0 960.1,610.5 961.0,611.0 961.9,611.5 962.7,611.8 963.6,612.1 964.5,612.1 965.4,612.0 966.2,611.7 967.1,611.2 968.0,610.7 968.9,610.1 969.8,609.5 970.6,609.0 971.5,608.6 972.4,608.3 973.3,608.2 974.1,608.2 975.0,608.5 975.9,608.8 976.8,609.3 977.6,609.8 978.5,610.3 979.4,610.7 980.3,611.1 981.2,611.3 982.0,611.3 982.9,611.2 983.8,610.9 984.7,610.5 985.5,610.0 986.4,609.4 987.3,608.8 988.2,608.3 989.1,607.9 989.9,607.6 990.8,607.5 991.7,607.5 992.6,607.7 993.4,608.1 994.3,608.6 995.2,609.1 996.1,609.6 997.0,610.0 997.8,610.4 998.7,610.6 999.6,610.6 1000.5,610.5 1001.3,610.2 1002.2,609.8 1003.1,609.3 1004.0,608.7 1004.9,608.1 1005.7,607.6 1006.6,607.2 1007.5,606.9 1008.4,606.8 1009.2,606.8 1010.1,607.1 1011.0,607.4 1011.9,607.9 1012.8,608.4 1013.6,608.9 1014.5,609.4 1015.4,609.7 1016.3,609.9 1017.1,610.0 1018.0,609.8 1018.9,609.6 1019.8,609.1 1020.6,608.6 1021.5,608.0 1022.4,607.5 1023.3,606.9 1024.2,606.5 1025.0,606.2 1025.9,606.1 1026.8,606.2 1027.7,606.4 1028.5,606.8 1029.4,607.2 1030.3,607.8 1031.2,608.3 1032.1,608.7 1032.9,609.1 1033.8,609.3 1034.7,609.4 1035.6,609.2 1036.4,608.9 1037.3,608.5 1038.2,608.0 1039.1,607.4 1040.0,606.9 1040.8,606.3 1041.7,605.9 1042.6,605.6 1043.5,605.5 1044.3,605.6 1045.2,605.8 1046.1,606.2 1047.0,606.7 1047.8,607.2 1048.7,607.7 1049.6,608.1 1050.5,608.5 1051.4,608.7 1052.2,608.8 1053.1,608.7 1054.0,608.4 1054.9,607.9 1055.7,607.4 1056.6,606.9 1057.5,606.3 1058.4,605.8 1059.3,605.4 1060.1,605.1 1061.0,605.0 1061.9,605.0 1062.8,605.3 1063.6,605.6 1064.5,606.1 1065.4,606.6 1066.3,607.1 1067.2,607.6 1068.0,608.0 1068.9,608.2 1069.8,608.2 1070.7,608.1 1071.5,607.8 1072.4,607.4 1073.3,606.9 1074.2,606.3 1075.1,605.7 1075.9,605.2 1076.8,604.8 1077.7,604.6 1078.6,604.4 1079.4,604.5 1080.3,604.7 1081.2,605.1 1082.1,605.6 1083.0,606.1 1083.8,606.6 1084.7,607.1 1085.6,607.4 1086.5,607.7 1087.3,607.7 1088.2,607.6 1089.1,607.3 1090.0,606.9 1090.8,606.4 1091.7,605.8 1092.6,605.2 1093.5,604.7 1094.4,604.3 1095.2,604.1 1096.1,604.0 1097.0,604.0 1097.9,604.3 1098.7,604.6 1099.6,605.1 1100.5,605.6 1101.4,606.1 1102.3,606.6 1103.1,607.0 1104.0,607.2 1104.9,607.2 1105.8,607.1 1106.6,606.8 1107.5,606.4 1108.4,605.9 1109.3,605.3 1110.2,604.8 1111.0,604.3 1111.9,603.9 1112.8,603.6 1113.7,603.5 1114.5,603.6 1115.4,603.8 1116.3,604.2 1117.2,604.6 1118.1,605.2 1118.9,605.7 1119.8,606.1 1120.7,606.5 1121.6,606.7 1122.4,606.8 1123.3,606.7 1124.2,606.4 1125.1,606.0 1125.9,605.5 1126.8,604.9 1127.7,604.3 1128.6,603.8 1129.5,603.4 1130.3,603.2 1131.2,603.1 1132.1,603.1 1133.0,603.4 1133.8,603.7 1134.7,604.2 1135.6,604.7 1136.5,605.3 1137.4,605.7 1138.2,606.1 1139.1,606.3 1140.0,606.4 1140.9,606.3 1141.7,606.0 1142.6,605.6 1143.5,605.1 1144.4,604.5 1145.3,603.9 1146.1,603.4 1147.0,603.0 1147.9,602.7 1148.8,602.6 1149.6,602.7 1150.5,603.0 1151.4,603.3 1152.3,603.8 1153.2,604.3 1154.0,604.9 1154.9,605.3 1155.8,605.7 1156.7,605.9 1157.5,606.0 1158.4,605.9 1159.3,605.6 1160.2,605.2 1161.0,604.7 1161.9,604.1 1162.8,603.5 1163.7,603.0 1164.6,602.6 1165.4,602.4 1166.3,602.3 1167.2,602.3 1168.1,602.6 1168.9,603.0 1169.8,603.4 1170.7,604.0 1171.6,604.5 1172.5,604.9 1173.3,605.3 1174.2,605.5 1175.1,605.6 1176.0,605.5 1176.8,605.2 1177.7,604.8 1178.6,604.3 1179.5,603.7 1180.4,603.2 1181.2,602.7 1182.1,602.3 1183.0,602.0 1183.9,601.9 1184.7,602.0 1185.6,602.2 1186.5,602.6 1187.4,603.1 1188.2,603.6 1189.1,604.1 1190.0,604.6 1190.9,605.0 1191.8,605.2 1192.6,605.3 1193.5,605.2 1194.4,604.9 1195.3,604.5 1196.1,604.0 1197.0,603.4 1197.9,602.8 1198.8,602.3 1199.7,601.9 1200.5,601.7 1201.4,601.6 1202.3,601.6 1203.2,601.9 1204.0,602.3 1204.9,602.7 1205.8,603.3 1206.7,603.8 1207.6,604.3 1208.4,604.6 1209.3,604.9 1210.2,604.9 1211.1,604.8 1211.9,604.6 1212.8,604.1 1213.7,603.6 1214.6,603.1 1215.5,602.5 1216.3,602.0 1217.2,601.6 1218.1,601.4 1219.0,601.3 1219.8,601.3 1220.7,601.6 1221.6,602.0 1222.5,602.4 1223.3,603.0 1224.2,603.5 1225.1,604.0 1226.0,604.3 1226.9,604.6 1227.7,604.6 1228.6,604.5 1229.5,604.3 1230.4,603.8 1231.2,603.3 1232.1,602.8 1233.0,602.2 1233.9,601.7 1234.8,601.3 1235.6,601.1 1236.5,601.0 1237.4,601.0 1238.3,601.3 1239.1,601.7 1240.0,602.1 1240.9,602.7 1241.8,603.2 1242.7,603.7 1243.5,604.0 1244.4,604.3 1245.3,604.3 1246.2,604.2 1247.0,604.0 1247.9,603.6 1248.8,603.1 1249.7,602.5 1250.6,601.9 1251.4,601.4 1252.3,601.0 1253.2,600.8 1254.1,600.7 1254.9,600.8 1255.8,601.0 1256.7,601.4 1257.6,601.9 1258.5,602.4 1259.3,602.9 1260.2,603.4 1261.1,603.8 1262.0,604.0 1262.8,604.1 1263.7,604.0 1264.6,603.7 1265.5,603.3 1266.3,602.8 1267.2,602.2 1268.1,601.7 1269.0,601.2 1269.9,600.8 1270.7,600.5 1271.6,600.4 1272.5,600.5 1273.4,600.8 1274.2,601.1 1275.1,601.6 1276.0,602.1" fill="none" stroke="#ff8000" stroke-width="4.4" stroke-linejoin="round"/>
<path d="M223.0,783.9 223.9,783.8 224.8,783.7 225.6,783.5 226.5,783.1 227.4,782.6 228.3,782.0 229.1,781.1 230.0,780.1 230.9,779.1 231.8,777.9 232.7,776.8 233.5,775.7 234.4,774.8 235.3,773.9 236.2,773.3 237.0,772.8 237.9,772.5 238.8,772.3 239.7,772.3 240.6,772.2 241.4,772.2 242.3,772.1 243.2,772.0 244.1,771.7 244.9,771.2 245.8,770.5 246.7,769.7 247.6,768.8 248.4,767.7 249.3,766.7 250.2,765.6 251.1,764.5 252.0,763.6 252.8,762.8 253.7,762.2 254.6,761.8 255.5,761.5 256.3,761.3 257.2,761.3 258.1,761.3 259.0,761.3 259.9,761.3 260.7,761.2 261.6,760.9 262.5,760.4 263.4,759.8 264.2,759.1 265.1,758.2 266.0,757.1 266.9,756.1 267.8,755.0 268.6,754.0 269.5,753.1 270.4,752.4 271.3,751.8 272.1,751.4 273.0,751.2 273.9,751.0 274.8,751.0 275.6,751.1 276.5,751.1 277.4,751.1 278.3,751.0 279.2,750.8 280.0,750.4 280.9,749.8 281.8,749.1 282.7,748.2 283.5,747.2 284.4,746.2 285.3,745.2 286.2,744.2 287.1,743.3 287.9,742.6 288.8,742.1 289.7,741.7 290.6,741.5 291.4,741.4 292.3,741.4 293.2,741.5 294.1,741.6 295.0,741.6 295.8,741.5 296.7,741.3 297.6,741.0 298.5,740.4 299.3,739.7 300.2,738.8 301.1,737.9 302.0,736.9 302.9,735.9 303.7,735.0 304.6,734.2 305.5,733.5 306.4,732.9 307.2,732.6 308.1,732.4 309.0,732.4 309.9,732.4 310.8,732.5 311.6,732.6 312.5,732.7 313.4,732.6 314.3,732.5 315.1,732.1 316.0,731.6 316.9,730.9 317.8,730.1 318.6,729.2 319.5,728.2 320.4,727.2 321.3,726.3 322.2,725.5 323.0,724.9 323.9,724.4 324.8,724.1 325.7,723.9 326.5,723.9 327.4,724.0 328.3,724.1 329.2,724.2 330.1,724.3 330.9,724.3 331.8,724.1 332.7,723.8 333.6,723.3 334.4,722.7 335.3,721.9 336.2,721.0 337.1,720.1 338.0,719.1 338.8,718.2 339.7,717.5 340.6,716.8 341.5,716.4 342.3,716.1 343.2,715.9 344.1,715.9 345.0,716.1 345.9,716.2 346.7,716.4 347.6,716.5 348.5,716.5 349.4,716.4 350.2,716.1 351.1,715.6 352.0,715.0 352.9,714.2 353.7,713.3 354.6,712.4 355.5,711.5 356.4,710.7 357.3,709.9 358.1,709.3 359.0,708.8 359.9,708.6 360.8,708.5 361.6,708.5 362.5,708.6 363.4,708.8 364.3,709.0 365.2,709.1 366.0,709.2 366.9,709.1 367.8,708.8 368.7,708.3 369.5,707.7 370.4,707.0 371.3,706.2 372.2,705.3 373.1,704.4 373.9,703.5 374.8,702.8 375.7,702.2 376.6,701.8 377.4,701.5 378.3,701.5 379.2,701.5 380.1,701.7 381.0,701.9 381.8,702.1 382.7,702.2 383.6,702.3 384.5,702.2 385.3,702.0 386.2,701.5 387.1,701.0 388.0,700.2 388.8,699.4 389.7,698.5 390.6,697.7 391.5,696.9 392.4,696.2 393.2,695.6 394.1,695.2 395.0,695.0 395.9,694.9 396.7,695.0 397.6,695.2 398.5,695.4 399.4,695.6 400.3,695.8 401.1,695.9 402.0,695.8 402.9,695.6 403.8,695.2 404.6,694.6 405.5,693.9 406.4,693.1 407.3,692.3 408.2,691.4 409.0,690.6 409.9,689.9 410.8,689.4 411.7,689.0 412.5,688.8 413.4,688.8 414.3,688.9 415.2,689.0 416.1,689.3 416.9,689.5 417.8,689.7 418.7,689.8 419.6,689.8 420.4,689.6 421.3,689.2 422.2,688.7 423.1,688.0 423.9,687.2 424.8,686.4 425.7,685.5 426.6,684.8 427.5,684.1 428.3,683.6 429.2,683.2 430.1,683.0 431.0,683.0 431.8,683.1 432.7,683.3 433.6,683.6 434.5,683.9 435.4,684.1 436.2,684.2 437.1,684.2 438.0,684.0 438.9,683.6 439.7,683.1 440.6,682.4 441.5,681.6 442.4,680.8 443.3,680.0 444.1,679.3 445.0,678.6 445.9,678.1 446.8,677.8 447.6,677.6 448.5,677.6 449.4,677.7 450.3,678.0 451.1,678.2 452.0,678.5 452.9,678.8 453.8,678.9 454.7,678.9 455.5,678.7 456.4,678.4 457.3,677.8 458.2,677.2 459.0,676.5 459.9,675.7 460.8,674.9 461.7,674.1 462.6,673.5 463.4,673.0 464.3,672.7 465.2,672.5 466.1,672.5 466.9,672.7 467.8,672.9 468.7,673.2 469.6,673.5 470.5,673.8 471.3,673.9 472.2,673.9 473.1,673.8 474.0,673.4 474.8,672.9 475.7,672.3 476.6,671.6 477.5,670.8 478.4,670.0 479.2,669.3 480.1,668.7 481.0,668.2 481.9,667.9 482.7,667.8 483.6,667.8 484.5,667.9 485.4,668.2 486.2,668.5 487.1,668.8 488.0,669.1 488.9,669.3 489.8,669.3 490.6,669.1 491.5,668.8 492.4,668.4 493.3,667.7 494.1,667.0 495.0,666.3 495.9,665.5 496.8,664.8 497.7,664.2 498.5,663.7 499.4,663.4 500.3,663.3 501.2,663.3 502.0,663.5 502.9,663.8 503.8,664.1 504.7,664.5 505.6,664.7 506.4,664.9 507.3,664.9 508.2,664.8 509.1,664.5 509.9,664.0 510.8,663.4 511.7,662.7 512.6,662.0 513.5,661.2 514.3,660.5 515.2,660.0 516.1,659.5 517.0,659.2 517.8,659.1 518.7,659.2 519.6,659.4 520.5,659.7 521.4,660.0 522.2,660.3 523.1,660.6 524.0,660.8 524.9,660.9 525.7,660.7 526.6,660.5 527.5,660.0 528.4,659.4 529.2,658.7 530.1,658.0 531.0,657.3 531.9,656.6 532.8,656.0 533.6,655.6 534.5,655.3 535.4,655.2 536.3,655.3 537.1,655.5 538.0,655.8 538.9,656.1 539.8,656.5 540.7,656.8 541.5,657.0 542.4,657.0 543.3,656.9 544.2,656.7 545.0,656.2 545.9,655.7 546.8,655.0 547.7,654.2 548.6,653.5 549.4,652.9 550.3,652.3 551.2,651.9 552.1,651.6 552.9,651.5 553.8,651.6 554.7,651.8 555.6,652.1 556.5,652.5 557.3,652.9 558.2,653.2 559.1,653.4 560.0,653.5 560.8,653.4 561.7,653.1 562.6,652.7 563.5,652.1 564.3,651.5 565.2,650.7 566.1,650.0 567.0,649.4 567.9,648.8 568.7,648.4 569.6,648.2 570.5,648.1 571.4,648.2 572.2,648.4 573.1,648.7 574.0,649.1 574.9,649.5 575.8,649.8 576.6,650.0 577.5,650.1 578.4,650.0 579.3,649.8 580.1,649.4 581.0,648.8 581.9,648.2 582.8,647.4 583.7,646.7 584.5,646.1 585.4,645.6 586.3,645.2 587.2,644.9 588.0,644.9 588.9,645.0 589.8,645.2 590.7,645.5 591.5,645.9 592.4,646.3 593.3,646.6 594.2,646.9 595.1,647.0 595.9,646.9 596.8,646.7 597.7,646.2 598.6,645.7 599.4,645.1 600.3,644.4 601.2,643.7 602.1,643.0 603.0,642.5 603.8,642.1 604.7,641.9 605.6,641.8 606.5,641.9 607.3,642.2 608.2,642.5 609.1,642.9 610.0,643.3 610.9,643.7 611.7,643.9 612.6,644.0 613.5,644.0 614.4,643.7 615.2,643.3 616.1,642.8 617.0,642.2 617.9,641.5 618.8,640.8 619.6,640.2 620.5,639.6 621.4,639.3 622.3,639.0 623.1,639.0 624.0,639.1 624.9,639.4 625.8,639.7 626.7,640.1 627.5,640.5 628.4,640.9 629.3,641.1 630.2,641.3 631.0,641.2 631.9,641.0 632.8,640.6 633.7,640.1 634.5,639.4 635.4,638.8 636.3,638.1 637.2,637.5 638.1,637.0 638.9,636.6 639.8,636.4 640.7,636.3 641.6,636.5 642.4,636.7 643.3,637.1 644.2,637.5 645.1,637.9 646.0,638.3 646.8,638.6 647.7,638.7 648.6,638.6 649.5,638.4 650.3,638.0 651.2,637.5 652.1,636.9 653.0,636.2 653.9,635.6 654.7,635.0 655.6,634.4 656.5,634.1 657.4,633.9 658.2,633.8 659.1,634.0 660.0,634.3 660.9,634.6 661.8,635.1 662.6,635.5 663.5,635.8 664.4,636.1 665.3,636.2 666.1,636.2 667.0,636.0 667.9,635.6 668.8,635.1 669.6,634.5 670.5,633.8 671.4,633.2 672.3,632.6 673.2,632.1 674.0,631.7 674.9,631.5 675.8,631.5 676.7,631.7 677.5,631.9 678.4,632.3 679.3,632.8 680.2,633.2 681.1,633.6 681.9,633.8 682.8,634.0 683.7,633.9 684.6,633.7 685.4,633.4 686.3,632.9 687.2,632.3 688.1,631.6 689.0,631.0 689.8,630.4 690.7,629.9 691.6,629.5 692.5,629.3 693.3,629.3 694.2,629.5 695.1,629.8 696.0,630.2 696.9,630.6 697.7,631.0 698.6,631.4 699.5,631.7 700.4,631.8 701.2,631.8 702.1,631.6 703.0,631.3 703.9,630.8 704.7,630.2 705.6,629.5 706.5,628.9 707.4,628.3 708.3,627.8 709.1,627.5 710.0,627.3 710.9,627.3 711.8,627.4 712.6,627.7 713.5,628.1 714.4,628.6 715.3,629.0 716.2,629.4 717.0,629.7 717.9,629.8 718.8,629.8 719.7,629.6 720.5,629.3 721.4,628.8 722.3,628.2 723.2,627.6 724.1,626.9 724.9,626.3 725.8,625.9 726.7,625.5 727.6,625.4 728.4,625.4 729.3,625.5 730.2,625.8 731.1,626.2 732.0,626.7 732.8,627.1 733.7,627.5 734.6,627.8 735.5,628.0 736.3,628.0 737.2,627.8 738.1,627.4 739.0,627.0 739.8,626.4 740.7,625.7 741.6,625.1 742.5,624.5 743.4,624.1 744.2,623.7 745.1,623.6 746.0,623.6 746.9,623.7 747.7,624.0 748.6,624.4 749.5,624.9 750.4,625.4 751.3,625.8 752.1,626.1 753.0,626.2 753.9,626.2 754.8,626.0 755.6,625.7 756.5,625.2 757.4,624.6 758.3,624.0 759.2,623.4 760.0,622.8 760.9,622.3 761.8,622.0 762.7,621.9 763.5,621.9 764.4,622.0 765.3,622.4 766.2,622.8 767.1,623.2 767.9,623.7 768.8,624.1 769.7,624.4 770.6,624.6 771.4,624.6 772.3,624.4 773.2,624.1 774.1,623.6 774.9,623.0 775.8,622.4 776.7,621.8 777.6,621.2 778.5,620.8 779.3,620.4 780.2,620.3 781.1,620.3 782.0,620.5 782.8,620.8 783.7,621.2 784.6,621.7 785.5,622.1 786.4,622.5 787.2,622.9 788.1,623.0 789.0,623.0 789.9,622.9 790.7,622.5 791.6,622.1 792.5,621.5 793.4,620.9 794.3,620.3 795.1,619.7 796.0,619.3 796.9,618.9 797.8,618.8 798.6,618.8 799.5,619.0 800.4,619.3 801.3,619.7 802.1,620.2 803.0,620.7 803.9,621.1 804.8,621.4 805.7,621.6 806.5,621.6 807.4,621.4 808.3,621.1 809.2,620.6 810.0,620.1 810.9,619.5 811.8,618.9 812.7,618.3 813.6,617.9 814.4,617.5 815.3,617.4 816.2,617.4 817.1,617.6 817.9,617.9 818.8,618.4 819.7,618.8 820.6,619.3 821.5,619.7 822.3,620.1 823.2,620.2 824.1,620.2 825.0,620.1 825.8,619.8 826.7,619.3 827.6,618.8 828.5,618.1 829.4,617.5 830.2,617.0 831.1,616.5 832.0,616.2 832.9,616.1 833.7,616.1 834.6,616.3 835.5,616.6 836.4,617.1 837.2,617.5 838.1,618.0 839.0,618.5 839.9,618.8 840.8,619.0 841.6,619.0 842.5,618.8 843.4,618.5 844.3,618.1 845.1,617.5 846.0,616.9 846.9,616.3 847.8,615.7 848.7,615.3 849.5,615.0 850.4,614.9 851.3,614.9 852.2,615.1 853.0,615.4 853.9,615.9 854.8,616.3 855.7,616.8 856.6,617.3 857.4,617.6 858.3,617.8 859.2,617.8 860.1,617.6 860.9,617.3 861.8,616.9 862.7,616.3 863.6,615.7 864.5,615.1 865.3,614.6 866.2,614.1 867.1,613.8 868.0,613.7 868.8,613.7 869.7,613.9 870.6,614.3 871.5,614.7 872.4,615.2 873.2,615.7 874.1,616.1 875.0,616.5 875.9,616.7 876.7,616.7 877.6,616.5 878.5,616.2 879.4,615.8 880.2,615.2 881.1,614.6 882.0,614.0 882.9,613.5 883.8,613.1 884.6,612.8 885.5,612.6 886.4,612.7 887.3,612.9 888.1,613.2 889.0,613.7 889.9,614.2 890.8,614.6 891.7,615.1 892.5,615.4 893.4,615.6 894.3,615.6 895.2,615.5 896.0,615.2 896.9,614.8 897.8,614.2 898.7,613.6 899.6,613.0 900.4,612.5 901.3,612.1 902.2,611.8 903.1,611.6 903.9,611.7 904.8,611.9 905.7,612.2 906.6,612.7 907.5,613.2 908.3,613.7 909.2,614.1 910.1,614.4 911.0,614.6 911.8,614.7 912.7,614.5 913.6,614.2 914.5,613.8 915.3,613.2 916.2,612.7 917.1,612.1 918.0,611.5 918.9,611.1 919.7,610.8 920.6,610.7 921.5,610.7 922.4,610.9 923.2,611.3 924.1,611.7 925.0,612.2 925.9,612.7 926.8,613.2 927.6,613.5 928.5,613.7 929.4,613.8 930.3,613.6 931.1,613.3 932.0,612.9 932.9,612.3 933.8,611.8 934.7,611.2 935.5,610.6 936.4,610.2 937.3,609.9 938.2,609.8 939.0,609.8 939.9,610.1 940.8,610.4 941.7,610.9 942.6,611.4 943.4,611.9 944.3,612.3 945.2,612.7 946.1,612.9 946.9,612.9 947.8,612.8 948.7,612.5 949.6,612.0 950.4,611.5 951.3,610.9 952.2,610.3 953.1,609.8 954.0,609.4 954.8,609.1 955.7,609.0 956.6,609.0 957.5,609.2 958.3,609.6 959.2,610.0 960.1,610.5 961.0,611.0 961.9,611.5 962.7,611.8 963.6,612.1 964.5,612.1 965.4,612.0 966.2,611.7 967.1,611.2 968.0,610.7 968.9,610.1 969.8,609.5 970.6,609.0 971.5,608.6 972.4,608.3 973.3,608.2 974.1,608.2 975.0,608.5 975.9,608.8 976.8,609.3 977.6,609.8 978.5,610.3 979.4,610.7 980.3,611.1 981.2,611.3 982.0,611.3 982.9,611.2 983.8,610.9 984.7,610.5 985.5,610.0 986.4,609.4 987.3,608.8 988.2,608.3 989.1,607.9 989.9,607.6 990.8,607.5 991.7,607.5 992.6,607.7 993.4,608.1 994.3,608.6 995.2,609.1 996.1,609.6 997.0,610.0 997.8,610.4 998.7,610.6 999.6,610.6 1000.5,610.5 1001.3,610.2 1002.2,609.8 1003.1,609.3 1004.0,608.7 1004.9,608.1 1005.7,607.6 1006.6,607.2 1007.5,606.9 1008.4,606.8 1009.2,606.8 1010.1,607.1 1011.0,607.4 1011.9,607.9 1012.8,608.4 1013.6,608.9 1014.5,609.4 1015.4,609.7 1016.3,609.9 1017.1,610.0 1018.0,609.8 1018.9,609.6 1019.8,609.1 1020.6,608.6 1021.5,608.0 1022.4,607.5 1023.3,606.9 1024.2,606.5 1025.0,606.2 1025.9,606.1 1026.8,606.2 1027.7,606.4 1028.5,606.8 1029.4,607.2 1030.3,607.8 1031.2,608.3 1032.1,608.7 1032.9,609.1 1033.8,609.3 1034.7,609.4 1035.6,609.2 1036.4,608.9 1037.3,608.5 1038.2,608.0 1039.1,607.4 1040.0,606.9 1040.8,606.3 1041.7,605.9 1042.6,605.6 1043.5,605.5 1044.3,605.6 1045.2,605.8 1046.1,606.2 1047.0,606.7 1047.8,607.2 1048.7,607.7 1049.6,608.1 1050.5,608.5 1051.4,608.7 1052.2,608.8 1053.1,608.7 1054.0,608.4 1054.9,607.9 1055.7,607.4 1056.6,606.9 1057.5,606.3 1058.4,605.8 1059.3,605.4 1060.1,605.1 1061.0,605.0 1061.9,605.0 1062.8,605.3 1063.6,605.6 1064.5,606.1 1065.4,606.6 1066.3,607.1 1067.2,607.6 1068.0,608.0 1068.9,608.2 1069.8,608.2 1070.7,608.1 1071.5,607.8 1072.4,607.4 1073.3,606.9 1074.2,606.3 1075.1,605.7 1075.9,605.2 1076.8,604.8 1077.7,604.6 1078.6,604.4 1079.4,604.5 1080.3,604.7 1081.2,605.1 1082.1,605.6 1083.0,606.1 1083.8,606.6 1084.7,607.1 1085.6,607.4 1086.5,607.7 1087.3,607.7 1088.2,607.6 1089.1,607.3 1090.0,606.9 1090.8,606.4 1091.7,605.8 1092.6,605.2 1093.5,604.7 1094.4,604.3 1095.2,604.1 1096.1,604.0 1097.0,604.0 1097.9,604.3 1098.7,604.6 1099.6,605.1 1100.5,605.6 1101.4,606.1 1102.3,606.6 1103.1,607.0 1104.0,607.2 1104.9,607.2 1105.8,607.1 1106.6,606.8 1107.5,606.4 1108.4,605.9 1109.3,605.3 1110.2,604.8 1111.0,604.3 1111.9,603.9 1112.8,603.6 1113.7,603.5 1114.5,603.6 1115.4,603.8 1116.3,604.2 1117.2,604.6 1118.1,605.2 1118.9,605.7 1119.8,606.1 1120.7,606.5 1121.6,606.7 1122.4,606.8 1123.3,606.7 1124.2,606.4 1125.1,606.0 1125.9,605.5 1126.8,604.9 1127.7,604.3 1128.6,603.8 1129.5,603.4 1130.3,603.2 1131.2,603.1 1132.1,603.1 1133.0,603.4 1133.8,603.7 1134.7,604.2 1135.6,604.7 1136.5,605.3 1137.4,605.7 1138.2,606.1 1139.1,606.3 1140.0,606.4 1140.9,606.3 1141.7,606.0 1142.6,605.6 1143.5,605.1 1144.4,604.5 1145.3,603.9 1146.1,603.4 1147.0,603.0 1147.9,602.7 1148.8,602.6 1149.6,602.7 1150.5,603.0 1151.4,603.3 1152.3,603.8 1153.2,604.3 1154.0,604.9 1154.9,605.3 1155.8,605.7 1156.7,605.9 1157.5,606.0 1158.4,605.9 1159.3,605.6 1160.2,605.2 1161.0,604.7 1161.9,604.1 1162.8,603.5 1163.7,603.0 1164.6,602.6 1165.4,602.4 1166.3,602.3 1167.2,602.3 1168.1,602.6 1168.9,603.0 1169.8,603.4 1170.7,604.0 1171.6,604.5 1172.5,604.9 1173.3,605.3 1174.2,605.5 1175.1,605.6 1176.0,605.5 1176.8,605.2 1177.7,604.8 1178.6,604.3 1179.5,603.7 1180.4,603.2 1181.2,602.7 1182.1,602.3 1183.0,602.0 1183.9,601.9 1184.7,602.0 1185.6,602.2 1186.5,602.6 1187.4,603.1 1188.2,603.6 1189.1,604.1 1190.0,604.6 1190.9,605.0 1191.8,605.2 1192.6,605.3 1193.5,605.2 1194.4,604.9 1195.3,604.5 1196.1,604.0 1197.0,603.4 1197.9,602.8 1198.8,602.3 1199.7,601.9 1200.5,601.7 1201.4,601.6 1202.3,601.6 1203.2,601.9 1204.0,602.3 1204.9,602.7 1205.8,603.3 1206.7,603.8 1207.6,604.3 1208.4,604.6 1209.3,604.9 1210.2,604.9 1211.1,604.8 1211.9,604.6 1212.8,604.1 1213.7,603.6 1214.6,603.1 1215.5,602.5 1216.3,602.0 1217.2,601.6 1218.1,601.4 1219.0,601.3 1219.8,601.3 1220.7,601.6 1221.6,602.0 1222.5,602.4 1223.3,603.0 1224.2,603.5 1225.1,604.0 1226.0,604.3 1226.9,604.6 1227.7,604.6 1228.6,604.5 1229.5,604.3 1230.4,603.8 1231.2,603.3 1232.1,602.8 1233.0,602.2 1233.9,601.7 1234.8,601.3 1235.6,601.1 1236.5,601.0 1237.4,601.0 1238.3,601.3 1239.1,601.7 1240.0,602.1 1240.9,602.7 1241.8,603.2 1242.7,603.7 1243.5,604.0 1244.4,604.3 1245.3,604.3 1246.2,604.2 1247.0,604.0 1247.9,603.6 1248.8,603.1 1249.7,602.5 1250.6,601.9 1251.4,601.4 1252.3,601.0 1253.2,600.8 1254.1,600.7 1254.9,600.8 1255.8,601.0 1256.7,601.4 1257.6,601.9 1258.5,602.4 1259.3,602.9 1260.2,603.4 1261.1,603.8 1262.0,604.0 1262.8,604.1 1263.7,604.0 1264.6,603.7 1265.5,603.3 1266.3,602.8 1267.2,602.2 1268.1,601.7 1269.0,601.2 1269.9,600.8 1270.7,600.5 1271.6,600.4 1272.5,600.5 1273.4,600.8 1274.2,601.1 1275.1,601.6 1276.0,602.1" fill="none" stroke="#ff8000" stroke-width="6" stroke-linejoin="round" stroke-linecap="square" shape-rendering="crispEdges"/>
<path d="M223.0,783.9 223.9,783.8 224.8,783.7 225.6,783.5 226.5,783.1 227.4,782.6 228.3,782.0 229.1,781.1 230.0,780.1 230.9,779.0 231.8,777.9 232.7,776.8 233.5,775.7 234.4,774.7 235.3,773.9 236.2,773.2 237.0,772.7 237.9,772.4 238.8,772.2 239.7,772.1 240.6,772.1 241.4,772.0 242.3,771.9 243.2,771.7 244.1,771.4 244.9,770.9 245.8,770.2 246.7,769.4 247.6,768.4 248.4,767.4 249.3,766.3 250.2,765.1 251.1,764.1 252.0,763.1 252.8,762.3 253.7,761.6 254.6,761.2 255.5,760.8 256.3,760.7 257.2,760.6 258.1,760.6 259.0,760.5 259.9,760.5 260.7,760.3 261.6,760.0 262.5,759.5 263.4,758.8 264.2,758.0 265.1,757.1 266.0,756.0 266.9,754.9 267.8,753.8 268.6,752.8 269.5,751.8 270.4,751.0 271.3,750.4 272.1,749.9 273.0,749.6 273.9,749.5 274.8,749.4 275.6,749.4 276.5,749.4 277.4,749.3 278.3,749.2 279.2,748.9 280.0,748.4 280.9,747.8 281.8,747.0 282.7,746.0 283.5,745.0 284.4,743.9 285.3,742.8 286.2,741.8 287.1,740.9 287.9,740.1 288.8,739.5 289.7,739.0 290.6,738.7 291.4,738.6 292.3,738.5 293.2,738.5 294.1,738.5 295.0,738.5 295.8,738.4 296.7,738.1 297.6,737.6 298.5,737.0 299.3,736.2 300.2,735.3 301.1,734.3 302.0,733.2 302.9,732.1 303.7,731.1 304.6,730.2 305.5,729.4 306.4,728.8 307.2,728.4 308.1,728.1 309.0,728.0 309.9,728.0 310.8,728.0 311.6,728.0 312.5,728.0 313.4,727.8 314.3,727.6 315.1,727.1 316.0,726.5 316.9,725.8 317.8,724.9 318.6,723.9 319.5,722.8 320.4,721.8 321.3,720.8 322.2,719.9 323.0,719.1 323.9,718.5 324.8,718.1 325.7,717.8 326.5,717.7 327.4,717.7 328.3,717.7 329.2,717.8 330.1,717.8 330.9,717.6 331.8,717.4 332.7,717.0 333.6,716.4 334.4,715.6 335.3,714.7 336.2,713.7 337.1,712.7 338.0,711.7 338.8,710.7 339.7,709.8 340.6,709.0 341.5,708.5 342.3,708.1 343.2,707.8 344.1,707.7 345.0,707.7 345.9,707.8 346.7,707.8 347.6,707.8 348.5,707.7 349.4,707.5 350.2,707.1 351.1,706.5 352.0,705.8 352.9,704.9 353.7,703.9 354.6,702.9 355.5,701.8 356.4,700.9 357.3,700.0 358.1,699.3 359.0,698.7 359.9,698.3 360.8,698.1 361.6,698.0 362.5,698.0 363.4,698.1 364.3,698.1 365.2,698.2 366.0,698.1 366.9,697.8 367.8,697.4 368.7,696.9 369.5,696.2 370.4,695.3 371.3,694.3 372.2,693.3 373.1,692.3 373.9,691.4 374.8,690.5 375.7,689.8 376.6,689.2 377.4,688.8 378.3,688.6 379.2,688.6 380.1,688.6 381.0,688.7 381.8,688.7 382.7,688.8 383.6,688.7 384.5,688.5 385.3,688.1 386.2,687.5 387.1,686.8 388.0,686.0 388.8,685.0 389.7,684.0 390.6,683.0 391.5,682.1 392.4,681.3 393.2,680.5 394.1,680.0 395.0,679.6 395.9,679.4 396.7,679.4 397.6,679.4 398.5,679.5 399.4,679.6 400.3,679.6 401.1,679.6 402.0,679.4 402.9,679.0 403.8,678.5 404.6,677.8 405.5,676.9 406.4,676.0 407.3,675.0 408.2,674.0 409.0,673.1 409.9,672.3 410.8,671.6 411.7,671.1 412.5,670.7 413.4,670.5 414.3,670.5 415.2,670.5 416.1,670.6 416.9,670.7 417.8,670.8 418.7,670.7 419.6,670.5 420.4,670.2 421.3,669.7 422.2,669.0 423.1,668.1 423.9,667.2 424.8,666.2 425.7,665.3 426.6,664.4 427.5,663.5 428.3,662.9 429.2,662.3 430.1,662.0 431.0,661.8 431.8,661.8 432.7,661.9 433.6,662.0 434.5,662.1 435.4,662.1 436.2,662.1 437.1,661.9 438.0,661.6 438.9,661.1 439.7,660.4 440.6,659.6 441.5,658.7 442.4,657.7 443.3,656.8 444.1,655.9 445.0,655.0 445.9,654.4 446.8,653.9 447.6,653.6 448.5,653.4 449.4,653.4 450.3,653.4 451.1,653.6 452.0,653.7 452.9,653.8 453.8,653.7 454.7,653.6 455.5,653.2 456.4,652.7 457.3,652.1 458.2,651.3 459.0,650.4 459.9,649.4 460.8,648.5 461.7,647.6 462.6,646.8 463.4,646.1 464.3,645.7 465.2,645.3 466.1,645.2 466.9,645.2 467.8,645.3 468.7,645.4 469.6,645.5 470.5,645.6 471.3,645.6 472.2,645.5 473.1,645.1 474.0,644.6 474.8,644.0 475.7,643.2 476.6,642.3 477.5,641.4 478.4,640.4 479.2,639.6 480.1,638.8 481.0,638.1 481.9,637.7 482.7,637.3 483.6,637.2 484.5,637.2 485.4,637.3 486.2,637.5 487.1,637.6 488.0,637.7 488.9,637.7 489.8,637.6 490.6,637.3 491.5,636.8 492.4,636.1 493.3,635.4 494.1,634.5 495.0,633.6 495.9,632.6 496.8,631.8 497.7,631.0 498.5,630.4 499.4,629.9 500.3,629.6 501.2,629.5 502.0,629.5 502.9,629.6 503.8,629.7 504.7,629.9 505.6,630.0 506.4,630.0 507.3,629.9 508.2,629.6 509.1,629.1 509.9,628.5 510.8,627.7 511.7,626.9 512.6,625.9 513.5,625.0 514.3,624.2 515.2,623.4 516.1,622.8 517.0,622.3 517.8,622.0 518.7,621.9 519.6,621.9 520.5,622.1 521.4,622.2 522.2,622.4 523.1,622.5 524.0,622.5 524.9,622.4 525.7,622.1 526.6,621.7 527.5,621.1 528.4,620.3 529.2,619.5 530.1,618.6 531.0,617.6 531.9,616.8 532.8,616.0 533.6,615.4 534.5,615.0 535.4,614.7 536.3,614.6 537.1,614.6 538.0,614.8 538.9,614.9 539.8,615.1 540.7,615.3 541.5,615.3 542.4,615.2 543.3,614.9 544.2,614.5 545.0,613.9 545.9,613.1 546.8,612.3 547.7,611.4 548.6,610.5 549.4,609.6 550.3,608.9 551.2,608.3 552.1,607.9 552.9,607.6 553.8,607.5 554.7,607.5 555.6,607.7 556.5,607.9 557.3,608.1 558.2,608.2 559.1,608.2 560.0,608.1 560.8,607.9 561.7,607.4 562.6,606.8 563.5,606.1 564.3,605.3 565.2,604.4 566.1,603.5 567.0,602.7 567.9,601.9 568.7,601.3 569.6,600.9 570.5,600.7 571.4,600.6 572.2,600.6 573.1,600.8 574.0,601.0 574.9,601.2 575.8,601.3 576.6,601.4 577.5,601.3 578.4,601.0 579.3,600.6 580.1,600.0 581.0,599.3 581.9,598.5 582.8,597.6 583.7,596.7 584.5,595.9 585.4,595.2 586.3,594.6 587.2,594.2 588.0,593.9 588.9,593.8 589.8,593.9 590.7,594.1 591.5,594.3 592.4,594.5 593.3,594.7 594.2,594.7 595.1,594.6 595.9,594.4 596.8,594.0 597.7,593.4 598.6,592.7 599.4,591.9 600.3,591.0 601.2,590.1 602.1,589.3 603.0,588.6 603.8,588.0 604.7,587.6 605.6,587.4 606.5,587.3 607.3,587.4 608.2,587.6 609.1,587.8 610.0,588.0 610.9,588.2 611.7,588.2 612.6,588.2 613.5,587.9 614.4,587.5 615.2,586.9 616.1,586.2 617.0,585.4 617.9,584.6 618.8,583.7 619.6,582.9 620.5,582.2 621.4,581.6 622.3,581.2 623.1,581.0 624.0,581.0 624.9,581.0 625.8,581.2 626.7,581.4 627.5,581.7 628.4,581.9 629.3,581.9 630.2,581.9 631.0,581.6 631.9,581.2 632.8,580.7 633.7,580.0 634.5,579.2 635.4,578.3 636.3,577.5 637.2,576.7 638.1,576.0 638.9,575.4 639.8,575.1 640.7,574.8 641.6,574.8 642.4,574.9 643.3,575.1 644.2,575.3 645.1,575.5 646.0,575.7 646.8,575.8 647.7,575.8 648.6,575.5 649.5,575.2 650.3,574.6 651.2,573.9 652.1,573.1 653.0,572.3 653.9,571.4 654.7,570.6 655.6,570.0 656.5,569.4 657.4,569.0 658.2,568.8 659.1,568.8 660.0,568.9 660.9,569.1 661.8,569.3 662.6,569.6 663.5,569.8 664.4,569.9 665.3,569.8 666.1,569.6 667.0,569.2 667.9,568.7 668.8,568.0 669.6,567.2 670.5,566.4 671.4,565.6 672.3,564.8 673.2,564.1 674.0,563.6 674.9,563.2 675.8,563.0 676.7,563.0 677.5,563.1 678.4,563.3 679.3,563.5 680.2,563.8 681.1,564.0 681.9,564.1 682.8,564.0 683.7,563.8 684.6,563.5 685.4,562.9 686.3,562.3 687.2,561.5 688.1,560.7 689.0,559.8 689.8,559.1 690.7,558.4 691.6,557.9 692.5,557.5 693.3,557.3 694.2,557.3 695.1,557.4 696.0,557.6 696.9,557.9 697.7,558.1 698.6,558.3 699.5,558.5 700.4,558.4 701.2,558.2 702.1,557.9 703.0,557.3 703.9,556.7 704.7,555.9 705.6,555.1 706.5,554.3 707.4,553.5 708.3,552.9 709.1,552.3 710.0,552.0 710.9,551.8 711.8,551.8 712.6,551.9 713.5,552.1 714.4,552.4 715.3,552.7 716.2,552.9 717.0,553.0 717.9,553.0 718.8,552.8 719.7,552.4 720.5,551.9 721.4,551.3 722.3,550.5 723.2,549.7 724.1,548.9 724.9,548.1 725.8,547.5 726.7,547.0 727.6,546.6 728.4,546.4 729.3,546.4 730.2,546.5 731.1,546.8 732.0,547.1 732.8,547.3 733.7,547.6 734.6,547.7 735.5,547.7 736.3,547.5 737.2,547.1 738.1,546.6 739.0,546.0 739.8,545.2 740.7,544.4 741.6,543.6 742.5,542.9 743.4,542.2 744.2,541.7 745.1,541.4 746.0,541.2 746.9,541.2 747.7,541.4 748.6,541.6 749.5,541.9 750.4,542.2 751.3,542.4 752.1,542.5 753.0,542.5 753.9,542.3 754.8,542.0 755.6,541.5 756.5,540.9 757.4,540.1 758.3,539.3 759.2,538.5 760.0,537.8 760.9,537.1 761.8,536.7 762.7,536.3 763.5,536.2 764.4,536.2 765.3,536.3 766.2,536.5 767.1,536.8 767.9,537.1 768.8,537.4 769.7,537.5 770.6,537.5 771.4,537.3 772.3,537.0 773.2,536.5 774.1,535.9 774.9,535.1 775.8,534.4 776.7,533.6 777.6,532.8 778.5,532.2 779.3,531.7 780.2,531.4 781.1,531.2 782.0,531.2 782.8,531.4 783.7,531.6 784.6,531.9 785.5,532.2 786.4,532.5 787.2,532.6 788.1,532.6 789.0,532.5 789.9,532.2 790.7,531.7 791.6,531.0 792.5,530.3 793.4,529.5 794.3,528.7 795.1,528.0 796.0,527.4 796.9,526.9 797.8,526.6 798.6,526.4 799.5,526.5 800.4,526.6 801.3,526.9 802.1,527.2 803.0,527.5 803.9,527.7 804.8,527.9 805.7,527.9 806.5,527.8 807.4,527.4 808.3,527.0 809.2,526.3 810.0,525.6 810.9,524.8 811.8,524.1 812.7,523.3 813.6,522.7 814.4,522.2 815.3,521.9 816.2,521.8 817.1,521.8 817.9,522.0 818.8,522.2 819.7,522.6 820.6,522.9 821.5,523.1 822.3,523.3 823.2,523.3 824.1,523.2 825.0,522.9 825.8,522.4 826.7,521.8 827.6,521.0 828.5,520.3 829.4,519.5 830.2,518.8 831.1,518.2 832.0,517.7 832.9,517.4 833.7,517.3 834.6,517.3 835.5,517.5 836.4,517.7 837.2,518.1 838.1,518.4 839.0,518.6 839.9,518.8 840.8,518.8 841.6,518.7 842.5,518.4 843.4,517.9 844.3,517.3 845.1,516.6 846.0,515.8 846.9,515.1 847.8,514.4 848.7,513.8 849.5,513.3 850.4,513.0 851.3,512.9 852.2,512.9 853.0,513.1 853.9,513.4 854.8,513.7 855.7,514.0 856.6,514.3 857.4,514.5 858.3,514.5 859.2,514.4 860.1,514.1 860.9,513.6 861.8,513.0 862.7,512.3 863.6,511.5 864.5,510.8 865.3,510.1 866.2,509.5 867.1,509.0 868.0,508.7 868.8,508.6 869.7,508.6 870.6,508.8 871.5,509.1 872.4,509.4 873.2,509.8 874.1,510.1 875.0,510.2 875.9,510.3 876.7,510.1 877.6,509.8 878.5,509.4 879.4,508.8 880.2,508.1 881.1,507.3 882.0,506.6 882.9,505.9 883.8,505.3 884.6,504.9 885.5,504.6 886.4,504.5 887.3,504.5 888.1,504.7 889.0,505.0 889.9,505.3 890.8,505.7 891.7,505.9 892.5,506.1 893.4,506.2 894.3,506.0 895.2,505.8 896.0,505.3 896.9,504.7 897.8,504.0 898.7,503.3 899.6,502.5 900.4,501.8 901.3,501.3 902.2,500.8 903.1,500.5 903.9,500.4 904.8,500.5 905.7,500.7 906.6,501.0 907.5,501.3 908.3,501.6 909.2,501.9 910.1,502.1 911.0,502.2 911.8,502.1 912.7,501.8 913.6,501.3 914.5,500.7 915.3,500.1 916.2,499.3 917.1,498.6 918.0,497.9 918.9,497.3 919.7,496.9 920.6,496.6 921.5,496.5 922.4,496.6 923.2,496.8 924.1,497.0 925.0,497.4 925.9,497.7 926.8,498.0 927.6,498.2 928.5,498.3 929.4,498.2 930.3,497.9 931.1,497.5 932.0,496.9 932.9,496.2 933.8,495.5 934.7,494.7 935.5,494.1 936.4,493.5 937.3,493.1 938.2,492.8 939.0,492.7 939.9,492.7 940.8,492.9 941.7,493.3 942.6,493.6 943.4,494.0 944.3,494.3 945.2,494.5 946.1,494.5 946.9,494.4 947.8,494.2 948.7,493.7 949.6,493.1 950.4,492.5 951.3,491.7 952.2,491.0 953.1,490.3 954.0,489.8 954.8,489.3 955.7,489.1 956.6,489.0 957.5,489.0 958.3,489.3 959.2,489.6 960.1,489.9 961.0,490.3 961.9,490.6 962.7,490.8 963.6,490.9 964.5,490.8 965.4,490.5 966.2,490.1 967.1,489.5 968.0,488.8 968.9,488.1 969.8,487.4 970.6,486.7 971.5,486.2 972.4,485.7 973.3,485.5 974.1,485.4 975.0,485.5 975.9,485.7 976.8,486.0 977.6,486.3 978.5,486.7 979.4,487.0 980.3,487.2 981.2,487.3 982.0,487.2 982.9,486.9 983.8,486.5 984.7,486.0 985.5,485.3 986.4,484.6 987.3,483.9 988.2,483.2 989.1,482.6 989.9,482.2 990.8,482.0 991.7,481.9 992.6,482.0 993.4,482.2 994.3,482.5 995.2,482.9 996.1,483.2 997.0,483.5 997.8,483.8 998.7,483.8 999.6,483.8 1000.5,483.5 1001.3,483.1 1002.2,482.5 1003.1,481.9 1004.0,481.1 1004.9,480.4 1005.7,479.8 1006.6,479.2 1007.5,478.8 1008.4,478.6 1009.2,478.5 1010.1,478.6 1011.0,478.8 1011.9,479.1 1012.8,479.5 1013.6,479.9 1014.5,480.2 1015.4,480.4 1016.3,480.5 1017.1,480.4 1018.0,480.1 1018.9,479.7 1019.8,479.2 1020.6,478.5 1021.5,477.8 1022.4,477.1 1023.3,476.4 1024.2,475.9 1025.0,475.5 1025.9,475.2 1026.8,475.2 1027.7,475.3 1028.5,475.5 1029.4,475.8 1030.3,476.2 1031.2,476.6 1032.1,476.9 1032.9,477.1 1033.8,477.2 1034.7,477.1 1035.6,476.9 1036.4,476.5 1037.3,475.9 1038.2,475.3 1039.1,474.6 1040.0,473.9 1040.8,473.2 1041.7,472.7 1042.6,472.3 1043.5,472.0 1044.3,472.0 1045.2,472.0 1046.1,472.3 1047.0,472.6 1047.8,473.0 1048.7,473.4 1049.6,473.7 1050.5,473.9 1051.4,474.0 1052.2,474.0 1053.1,473.7 1054.0,473.3 1054.9,472.8 1055.7,472.1 1056.6,471.4 1057.5,470.7 1058.4,470.1 1059.3,469.5 1060.1,469.1 1061.0,468.9 1061.9,468.8 1062.8,468.9 1063.6,469.2 1064.5,469.5 1065.4,469.9 1066.3,470.3 1067.2,470.6 1068.0,470.8 1068.9,470.9 1069.8,470.9 1070.7,470.6 1071.5,470.2 1072.4,469.7 1073.3,469.0 1074.2,468.4 1075.1,467.7 1075.9,467.0 1076.8,466.5 1077.7,466.1 1078.6,465.9 1079.4,465.8 1080.3,465.9 1081.2,466.1 1082.1,466.5 1083.0,466.9 1083.8,467.3 1084.7,467.6 1085.6,467.8 1086.5,467.9 1087.3,467.9 1088.2,467.6 1089.1,467.2 1090.0,466.7 1090.8,466.1 1091.7,465.4 1092.6,464.7 1093.5,464.1 1094.4,463.5 1095.2,463.1 1096.1,462.9 1097.0,462.8 1097.9,462.9 1098.7,463.2 1099.6,463.5 1100.5,463.9 1101.4,464.3 1102.3,464.7 1103.1,464.9 1104.0,465.0 1104.9,465.0 1105.8,464.7 1106.6,464.3 1107.5,463.8 1108.4,463.2 1109.3,462.5 1110.2,461.8 1111.0,461.2 1111.9,460.6 1112.8,460.2 1113.7,460.0 1114.5,460.0 1115.4,460.1 1116.3,460.3 1117.2,460.7 1118.1,461.1 1118.9,461.5 1119.8,461.8 1120.7,462.1 1121.6,462.2 1122.4,462.1 1123.3,461.9 1124.2,461.5 1125.1,461.0 1125.9,460.3 1126.8,459.7 1127.7,459.0 1128.6,458.4 1129.5,457.8 1130.3,457.5 1131.2,457.2 1132.1,457.2 1133.0,457.3 1133.8,457.5 1134.7,457.9 1135.6,458.3 1136.5,458.7 1137.4,459.1 1138.2,459.3 1139.1,459.4 1140.0,459.4 1140.9,459.2 1141.7,458.8 1142.6,458.2 1143.5,457.6 1144.4,456.9 1145.3,456.3 1146.1,455.6 1147.0,455.1 1147.9,454.7 1148.8,454.5 1149.6,454.5 1150.5,454.6 1151.4,454.8 1152.3,455.2 1153.2,455.6 1154.0,456.0 1154.9,456.4 1155.8,456.6 1156.7,456.7 1157.5,456.7 1158.4,456.5 1159.3,456.1 1160.2,455.6 1161.0,455.0 1161.9,454.3 1162.8,453.6 1163.7,453.0 1164.6,452.5 1165.4,452.1 1166.3,451.9 1167.2,451.8 1168.1,452.0 1168.9,452.2 1169.8,452.6 1170.7,453.0 1171.6,453.4 1172.5,453.8 1173.3,454.0 1174.2,454.1 1175.1,454.1 1176.0,453.9 1176.8,453.5 1177.7,453.0 1178.6,452.4 1179.5,451.7 1180.4,451.0 1181.2,450.4 1182.1,449.9 1183.0,449.5 1183.9,449.3 1184.7,449.3 1185.6,449.4 1186.5,449.7 1187.4,450.0 1188.2,450.4 1189.1,450.9 1190.0,451.2 1190.9,451.5 1191.8,451.6 1192.6,451.6 1193.5,451.4 1194.4,451.0 1195.3,450.5 1196.1,449.9 1197.0,449.2 1197.9,448.5 1198.8,447.9 1199.7,447.4 1200.5,447.0 1201.4,446.8 1202.3,446.8 1203.2,446.9 1204.0,447.2 1204.9,447.6 1205.8,448.0 1206.7,448.4 1207.6,448.8 1208.4,449.0 1209.3,449.1 1210.2,449.1 1211.1,448.9 1211.9,448.5 1212.8,448.0 1213.7,447.4 1214.6,446.7 1215.5,446.1 1216.3,445.5 1217.2,445.0 1218.1,444.6 1219.0,444.4 1219.8,444.4 1220.7,444.5 1221.6,444.8 1222.5,445.1 1223.3,445.6 1224.2,446.0 1225.1,446.4 1226.0,446.6 1226.9,446.8 1227.7,446.7 1228.6,446.5 1229.5,446.1 1230.4,445.6 1231.2,445.0 1232.1,444.4 1233.0,443.7 1233.9,443.1 1234.8,442.6 1235.6,442.2 1236.5,442.0 1237.4,442.0 1238.3,442.2 1239.1,442.4 1240.0,442.8 1240.9,443.2 1241.8,443.7 1242.7,444.0 1243.5,444.3 1244.4,444.4 1245.3,444.4 1246.2,444.2 1247.0,443.8 1247.9,443.3 1248.8,442.7 1249.7,442.1 1250.6,441.4 1251.4,440.8 1252.3,440.3 1253.2,440.0 1254.1,439.8 1254.9,439.7 1255.8,439.9 1256.7,440.1 1257.6,440.5 1258.5,441.0 1259.3,441.4 1260.2,441.8 1261.1,442.0 1262.0,442.2 1262.8,442.1 1263.7,441.9 1264.6,441.6 1265.5,441.1 1266.3,440.5 1267.2,439.8 1268.1,439.2 1269.0,438.6 1269.9,438.1 1270.7,437.7 1271.6,437.5 1272.5,437.5 1273.4,437.7 1274.2,437.9 1275.1,438.3 1276.0,438.7" fill="none" stroke="#000000" stroke-width="4.4" stroke-linejoin="round"/>
<path d="M223.0,783.9 223.9,783.8 224.8,783.7 225.6,783.5 226.5,783.1 227.4,782.6 228.3,782.0 229.1,781.1 230.0,780.1 230.9,779.0 231.8,777.9 232.7,776.8 233.5,775.7 234.4,774.7 235.3,773.9 236.2,773.2 237.0,772.7 237.9,772.4 238.8,772.2 239.7,772.1 240.6,772.1 241.4,772.0 242.3,771.9 243.2,771.7 244.1,771.4 244.9,770.9 245.8,770.2 246.7,769.4 247.6,768.4 248.4,767.4 249.3,766.3 250.2,765.1 251.1,764.1 252.0,763.1 252.8,762.3 253.7,761.6 254.6,761.2 255.5,760.8 256.3,760.7 257.2,760.6 258.1,760.6 259.0,760.5 259.9,760.5 260.7,760.3 261.6,760.0 262.5,759.5 263.4,758.8 264.2,758.0 265.1,757.1 266.0,756.0 266.9,754.9 267.8,753.8 268.6,752.8 269.5,751.8 270.4,751.0 271.3,750.4 272.1,749.9 273.0,749.6 273.9,749.5 274.8,749.4 275.6,749.4 276.5,749.4 277.4,749.3 278.3,749.2 279.2,748.9 280.0,748.4 280.9,747.8 281.8,747.0 282.7,746.0 283.5,745.0 284.4,743.9 285.3,742.8 286.2,741.8 287.1,740.9 287.9,740.1 288.8,739.5 289.7,739.0 290.6,738.7 291.4,738.6 292.3,738.5 293.2,738.5 294.1,738.5 295.0,738.5 295.8,738.4 296.7,738.1 297.6,737.6 298.5,737.0 299.3,736.2 300.2,735.3 301.1,734.3 302.0,733.2 302.9,732.1 303.7,731.1 304.6,730.2 305.5,729.4 306.4,728.8 307.2,728.4 308.1,728.1 309.0,728.0 309.9,728.0 310.8,728.0 311.6,728.0 312.5,728.0 313.4,727.8 314.3,727.6 315.1,727.1 316.0,726.5 316.9,725.8 317.8,724.9 318.6,723.9 319.5,722.8 320.4,721.8 321.3,720.8 322.2,719.9 323.0,719.1 323.9,718.5 324.8,718.1 325.7,717.8 326.5,717.7 327.4,717.7 328.3,717.7 329.2,717.8 330.1,717.8 330.9,717.6 331.8,717.4 332.7,717.0 333.6,716.4 334.4,715.6 335.3,714.7 336.2,713.7 337.1,712.7 338.0,711.7 338.8,710.7 339.7,709.8 340.6,709.0 341.5,708.5 342.3,708.1 343.2,707.8 344.1,707.7 345.0,707.7 345.9,707.8 346.7,707.8 347.6,707.8 348.5,707.7 349.4,707.5 350.2,707.1 351.1,706.5 352.0,705.8 352.9,704.9 353.7,703.9 354.6,702.9 355.5,701.8 356.4,700.9 357.3,700.0 358.1,699.3 359.0,698.7 359.9,698.3 360.8,698.1 361.6,698.0 362.5,698.0 363.4,698.1 364.3,698.1 365.2,698.2 366.0,698.1 366.9,697.8 367.8,697.4 368.7,696.9 369.5,696.2 370.4,695.3 371.3,694.3 372.2,693.3 373.1,692.3 373.9,691.4 374.8,690.5 375.7,689.8 376.6,689.2 377.4,688.8 378.3,688.6 379.2,688.6 380.1,688.6 381.0,688.7 381.8,688.7 382.7,688.8 383.6,688.7 384.5,688.5 385.3,688.1 386.2,687.5 387.1,686.8 388.0,686.0 388.8,685.0 389.7,684.0 390.6,683.0 391.5,682.1 392.4,681.3 393.2,680.5 394.1,680.0 395.0,679.6 395.9,679.4 396.7,679.4 397.6,679.4 398.5,679.5 399.4,679.6 400.3,679.6 401.1,679.6 402.0,679.4 402.9,679.0 403.8,678.5 404.6,677.8 405.5,676.9 406.4,676.0 407.3,675.0 408.2,674.0 409.0,673.1 409.9,672.3 410.8,671.6 411.7,671.1 412.5,670.7 413.4,670.5 414.3,670.5 415.2,670.5 416.1,670.6 416.9,670.7 417.8,670.8 418.7,670.7 419.6,670.5 420.4,670.2 421.3,669.7 422.2,669.0 423.1,668.1 423.9,667.2 424.8,666.2 425.7,665.3 426.6,664.4 427.5,663.5 428.3,662.9 429.2,662.3 430.1,662.0 431.0,661.8 431.8,661.8 432.7,661.9 433.6,662.0 434.5,662.1 435.4,662.1 436.2,662.1 437.1,661.9 438.0,661.6 438.9,661.1 439.7,660.4 440.6,659.6 441.5,658.7 442.4,657.7 443.3,656.8 444.1,655.9 445.0,655.0 445.9,654.4 446.8,653.9 447.6,653.6 448.5,653.4 449.4,653.4 450.3,653.4 451.1,653.6 452.0,653.7 452.9,653.8 453.8,653.7 454.7,653.6 455.5,653.2 456.4,652.7 457.3,652.1 458.2,651.3 459.0,650.4 459.9,649.4 460.8,648.5 461.7,647.6 462.6,646.8 463.4,646.1 464.3,645.7 465.2,645.3 466.1,645.2 466.9,645.2 467.8,645.3 468.7,645.4 469.6,645.5 470.5,645.6 471.3,645.6 472.2,645.5 473.1,645.1 474.0,644.6 474.8,644.0 475.7,643.2 476.6,642.3 477.5,641.4 478.4,640.4 479.2,639.6 480.1,638.8 481.0,638.1 481.9,637.7 482.7,637.3 483.6,637.2 484.5,637.2 485.4,637.3 486.2,637.5 487.1,637.6 488.0,637.7 488.9,637.7 489.8,637.6 490.6,637.3 491.5,636.8 492.4,636.1 493.3,635.4 494.1,634.5 495.0,633.6 495.9,632.6 496.8,631.8 497.7,631.0 498.5,630.4 499.4,629.9 500.3,629.6 501.2,629.5 502.0,629.5 502.9,629.6 503.8,629.7 504.7,629.9 505.6,630.0 506.4,630.0 507.3,629.9 508.2,629.6 509.1,629.1 509.9,628.5 510.8,627.7 511.7,626.9 512.6,625.9 513.5,625.0 514.3,624.2 515.2,623.4 516.1,622.8 517.0,622.3 517.8,622.0 518.7,621.9 519.6,621.9 520.5,622.1 521.4,622.2 522.2,622.4 523.1,622.5 524.0,622.5 524.9,622.4 525.7,622.1 526.6,621.7 527.5,621.1 528.4,620.3 529.2,619.5 530.1,618.6 531.0,617.6 531.9,616.8 532.8,616.0 533.6,615.4 534.5,615.0 535.4,614.7 536.3,614.6 537.1,614.6 538.0,614.8 538.9,614.9 539.8,615.1 540.7,615.3 541.5,615.3 542.4,615.2 543.3,614.9 544.2,614.5 545.0,613.9 545.9,613.1 546.8,612.3 547.7,611.4 548.6,610.5 549.4,609.6 550.3,608.9 551.2,608.3 552.1,607.9 552.9,607.6 553.8,607.5 554.7,607.5 555.6,607.7 556.5,607.9 557.3,608.1 558.2,608.2 559.1,608.2 560.0,608.1 560.8,607.9 561.7,607.4 562.6,606.8 563.5,606.1 564.3,605.3 565.2,604.4 566.1,603.5 567.0,602.7 567.9,601.9 568.7,601.3 569.6,600.9 570.5,600.7 571.4,600.6 572.2,600.6 573.1,600.8 574.0,601.0 574.9,601.2 575.8,601.3 576.6,601.4 577.5,601.3 578.4,601.0 579.3,600.6 580.1,600.0 581.0,599.3 581.9,598.5 582.8,597.6 583.7,596.7 584.5,595.9 585.4,595.2 586.3,594.6 587.2,594.2 588.0,593.9 588.9,593.8 589.8,593.9 590.7,594.1 591.5,594.3 592.4,594.5 593.3,594.7 594.2,594.7 595.1,594.6 595.9,594.4 596.8,594.0 597.7,593.4 598.6,592.7 599.4,591.9 600.3,591.0 601.2,590.1 602.1,589.3 603.0,588.6 603.8,588.0 604.7,587.6 605.6,587.4 606.5,587.3 607.3,587.4 608.2,587.6 609.1,587.8 610.0,588.0 610.9,588.2 611.7,588.2 612.6,588.2 613.5,587.9 614.4,587.5 615.2,586.9 616.1,586.2 617.0,585.4 617.9,584.6 618.8,583.7 619.6,582.9 620.5,582.2 621.4,581.6 622.3,581.2 623.1,581.0 624.0,581.0 624.9,581.0 625.8,581.2 626.7,581.4 627.5,581.7 628.4,581.9 629.3,581.9 630.2,581.9 631.0,581.6 631.9,581.2 632.8,580.7 633.7,580.0 634.5,579.2 635.4,578.3 636.3,577.5 637.2,576.7 638.1,576.0 638.9,575.4 639.8,575.1 640.7,574.8 641.6,574.8 642.4,574.9 643.3,575.1 644.2,575.3 645.1,575.5 646.0,575.7 646.8,575.8 647.7,575.8 648.6,575.5 649.5,575.2 650.3,574.6 651.2,573.9 652.1,573.1 653.0,572.3 653.9,571.4 654.7,570.6 655.6,570.0 656.5,569.4 657.4,569.0 658.2,568.8 659.1,568.8 660.0,568.9 660.9,569.1 661.8,569.3 662.6,569.6 663.5,569.8 664.4,569.9 665.3,569.8 666.1,569.6 667.0,569.2 667.9,568.7 668.8,568.0 669.6,567.2 670.5,566.4 671.4,565.6 672.3,564.8 673.2,564.1 674.0,563.6 674.9,563.2 675.8,563.0 676.7,563.0 677.5,563.1 678.4,563.3 679.3,563.5 680.2,563.8 681.1,564.0 681.9,564.1 682.8,564.0 683.7,563.8 684.6,563.5 685.4,562.9 686.3,562.3 687.2,561.5 688.1,560.7 689.0,559.8 689.8,559.1 690.7,558.4 691.6,557.9 692.5,557.5 693.3,557.3 694.2,557.3 695.1,557.4 696.0,557.6 696.9,557.9 697.7,558.1 698.6,558.3 699.5,558.5 700.4,558.4 701.2,558.2 702.1,557.9 703.0,557.3 703.9,556.7 704.7,555.9 705.6,555.1 706.5,554.3 707.4,553.5 708.3,552.9 709.1,552.3 710.0,552.0 710.9,551.8 711.8,551.8 712.6,551.9 713.5,552.1 714.4,552.4 715.3,552.7 716.2,552.9 717.0,553.0 717.9,553.0 718.8,552.8 719.7,552.4 720.5,551.9 721.4,551.3 722.3,550.5 723.2,549.7 724.1,548.9 724.9,548.1 725.8,547.5 726.7,547.0 727.6,546.6 728.4,546.4 729.3,546.4 730.2,546.5 731.1,546.8 732.0,547.1 732.8,547.3 733.7,547.6 734.6,547.7 735.5,547.7 736.3,547.5 737.2,547.1 738.1,546.6 739.0,546.0 739.8,545.2 740.7,544.4 741.6,543.6 742.5,542.9 743.4,542.2 744.2,541.7 745.1,541.4 746.0,541.2 746.9,541.2 747.7,541.4 748.6,541.6 749.5,541.9 750.4,542.2 751.3,542.4 752.1,542.5 753.0,542.5 753.9,542.3 754.8,542.0 755.6,541.5 756.5,540.9 757.4,540.1 758.3,539.3 759.2,538.5 760.0,537.8 760.9,537.1 761.8,536.7 762.7,536.3 763.5,536.2 764.4,536.2 765.3,536.3 766.2,536.5 767.1,536.8 767.9,537.1 768.8,537.4 769.7,537.5 770.6,537.5 771.4,537.3 772.3,537.0 773.2,536.5 774.1,535.9 774.9,535.1 775.8,534.4 776.7,533.6 777.6,532.8 778.5,532.2 779.3,531.7 780.2,531.4 781.1,531.2 782.0,531.2 782.8,531.4 783.7,531.6 784.6,531.9 785.5,532.2 786.4,532.5 787.2,532.6 788.1,532.6 789.0,532.5 789.9,532.2 790.7,531.7 791.6,531.0 792.5,530.3 793.4,529.5 794.3,528.7 795.1,528.0 796.0,527.4 796.9,526.9 797.8,526.6 798.6,526.4 799.5,526.5 800.4,526.6 801.3,526.9 802.1,527.2 803.0,527.5 803.9,527.7 804.8,527.9 805.7,527.9 806.5,527.8 807.4,527.4 808.3,527.0 809.2,526.3 810.0,525.6 810.9,524.8 811.8,524.1 812.7,523.3 813.6,522.7 814.4,522.2 815.3,521.9 816.2,521.8 817.1,521.8 817.9,522.0 818.8,522.2 819.7,522.6 820.6,522.9 821.5,523.1 822.3,523.3 823.2,523.3 824.1,523.2 825.0,522.9 825.8,522.4 826.7,521.8 827.6,521.0 828.5,520.3 829.4,519.5 830.2,518.8 831.1,518.2 832.0,517.7 832.9,517.4 833.7,517.3 834.6,517.3 835.5,517.5 836.4,517.7 837.2,518.1 838.1,518.4 839.0,518.6 839.9,518.8 840.8,518.8 841.6,518.7 842.5,518.4 843.4,517.9 844.3,517.3 845.1,516.6 846.0,515.8 846.9,515.1 847.8,514.4 848.7,513.8 849.5,513.3 850.4,513.0 851.3,512.9 852.2,512.9 853.0,513.1 853.9,513.4 854.8,513.7 855.7,514.0 856.6,514.3 857.4,514.5 858.3,514.5 859.2,514.4 860.1,514.1 860.9,513.6 861.8,513.0 862.7,512.3 863.6,511.5 864.5,510.8 865.3,510.1 866.2,509.5 867.1,509.0 868.0,508.7 868.8,508.6 869.7,508.6 870.6,508.8 871.5,509.1 872.4,509.4 873.2,509.8 874.1,510.1 875.0,510.2 875.9,510.3 876.7,510.1 877.6,509.8 878.5,509.4 879.4,508.8 880.2,508.1 881.1,507.3 882.0,506.6 882.9,505.9 883.8,505.3 884.6,504.9 885.5,504.6 886.4,504.5 887.3,504.5 888.1,504.7 889.0,505.0 889.9,505.3 890.8,505.7 891.7,505.9 892.5,506.1 893.4,506.2 894.3,506.0 895.2,505.8 896.0,505.3 896.9,504.7 897.8,504.0 898.7,503.3 899.6,502.5 900.4,501.8 901.3,501.3 902.2,500.8 903.1,500.5 903.9,500.4 904.8,500.5 905.7,500.7 906.6,501.0 907.5,501.3 908.3,501.6 909.2,501.9 910.1,502.1 911.0,502.2 911.8,502.1 912.7,501.8 913.6,501.3 914.5,500.7 915.3,500.1 916.2,499.3 917.1,498.6 918.0,497.9 918.9,497.3 919.7,496.9 920.6,496.6 921.5,496.5 922.4,496.6 923.2,496.8 924.1,497.0 925.0,497.4 925.9,497.7 926.8,498.0 927.6,498.2 928.5,498.3 929.4,498.2 930.3,497.9 931.1,497.5 932.0,496.9 932.9,496.2 933.8,495.5 934.7,494.7 935.5,494.1 936.4,493.5 937.3,493.1 938.2,492.8 939.0,492.7 939.9,492.7 940.8,492.9 941.7,493.3 942.6,493.6 943.4,494.0 944.3,494.3 945.2,494.5 946.1,494.5 946.9,494.4 947.8,494.2 948.7,493.7 949.6,493.1 950.4,492.5 951.3,491.7 952.2,491.0 953.1,490.3 954.0,489.8 954.8,489.3 955.7,489.1 956.6,489.0 957.5,489.0 958.3,489.3 959.2,489.6 960.1,489.9 961.0,490.3 961.9,490.6 962.7,490.8 963.6,490.9 964.5,490.8 965.4,490.5 966.2,490.1 967.1,489.5 968.0,488.8 968.9,488.1 969.8,487.4 970.6,486.7 971.5,486.2 972.4,485.7 973.3,485.5 974.1,485.4 975.0,485.5 975.9,485.7 976.8,486.0 977.6,486.3 978.5,486.7 979.4,487.0 980.3,487.2 981.2,487.3 982.0,487.2 982.9,486.9 983.8,486.5 984.7,486.0 985.5,485.3 986.4,484.6 987.3,483.9 988.2,483.2 989.1,482.6 989.9,482.2 990.8,482.0 991.7,481.9 992.6,482.0 993.4,482.2 994.3,482.5 995.2,482.9 996.1,483.2 997.0,483.5 997.8,483.8 998.7,483.8 999.6,483.8 1000.5,483.5 1001.3,483.1 1002.2,482.5 1003.1,481.9 1004.0,481.1 1004.9,480.4 1005.7,479.8 1006.6,479.2 1007.5,478.8 1008.4,478.6 1009.2,478.5 1010.1,478.6 1011.0,478.8 1011.9,479.1 1012.8,479.5 1013.6,479.9 1014.5,480.2 1015.4,480.4 1016.3,480.5 1017.1,480.4 1018.0,480.1 1018.9,479.7 1019.8,479.2 1020.6,478.5 1021.5,477.8 1022.4,477.1 1023.3,476.4 1024.2,475.9 1025.0,475.5 1025.9,475.2 1026.8,475.2 1027.7,475.3 1028.5,475.5 1029.4,475.8 1030.3,476.2 1031.2,476.6 1032.1,476.9 1032.9,477.1 1033.8,477.2 1034.7,477.1 1035.6,476.9 1036.4,476.5 1037.3,475.9 1038.2,475.3 1039.1,474.6 1040.0,473.9 1040.8,473.2 1041.7,472.7 1042.6,472.3 1043.5,472.0 1044.3,472.0 1045.2,472.0 1046.1,472.3 1047.0,472.6 1047.8,473.0 1048.7,473.4 1049.6,473.7 1050.5,473.9 1051.4,474.0 1052.2,474.0 1053.1,473.7 1054.0,473.3 1054.9,472.8 1055.7,472.1 1056.6,471.4 1057.5,470.7 1058.4,470.1 1059.3,469.5 1060.1,469.1 1061.0,468.9 1061.9,468.8 1062.8,468.9 1063.6,469.2 1064.5,469.5 1065.4,469.9 1066.3,470.3 1067.2,470.6 1068.0,470.8 1068.9,470.9 1069.8,470.9 1070.7,470.6 1071.5,470.2 1072.4,469.7 1073.3,469.0 1074.2,468.4 1075.1,467.7 1075.9,467.0 1076.8,466.5 1077.7,466.1 1078.6,465.9 1079.4,465.8 1080.3,465.9 1081.2,466.1 1082.1,466.5 1083.0,466.9 1083.8,467.3 1084.7,467.6 1085.6,467.8 1086.5,467.9 1087.3,467.9 1088.2,467.6 1089.1,467.2 1090.0,466.7 1090.8,466.1 1091.7,465.4 1092.6,464.7 1093.5,464.1 1094.4,463.5 1095.2,463.1 1096.1,462.9 1097.0,462.8 1097.9,462.9 1098.7,463.2 1099.6,463.5 1100.5,463.9 1101.4,464.3 1102.3,464.7 1103.1,464.9 1104.0,465.0 1104.9,465.0 1105.8,464.7 1106.6,464.3 1107.5,463.8 1108.4,463.2 1109.3,462.5 1110.2,461.8 1111.0,461.2 1111.9,460.6 1112.8,460.2 1113.7,460.0 1114.5,460.0 1115.4,460.1 1116.3,460.3 1117.2,460.7 1118.1,461.1 1118.9,461.5 1119.8,461.8 1120.7,462.1 1121.6,462.2 1122.4,462.1 1123.3,461.9 1124.2,461.5 1125.1,461.0 1125.9,460.3 1126.8,459.7 1127.7,459.0 1128.6,458.4 1129.5,457.8 1130.3,457.5 1131.2,457.2 1132.1,457.2 1133.0,457.3 1133.8,457.5 1134.7,457.9 1135.6,458.3 1136.5,458.7 1137.4,459.1 1138.2,459.3 1139.1,459.4 1140.0,459.4 1140.9,459.2 1141.7,458.8 1142.6,458.2 1143.5,457.6 1144.4,456.9 1145.3,456.3 1146.1,455.6 1147.0,455.1 1147.9,454.7 1148.8,454.5 1149.6,454.5 1150.5,454.6 1151.4,454.8 1152.3,455.2 1153.2,455.6 1154.0,456.0 1154.9,456.4 1155.8,456.6 1156.7,456.7 1157.5,456.7 1158.4,456.5 1159.3,456.1 1160.2,455.6 1161.0,455.0 1161.9,454.3 1162.8,453.6 1163.7,453.0 1164.6,452.5 1165.4,452.1 1166.3,451.9 1167.2,451.8 1168.1,452.0 1168.9,452.2 1169.8,452.6 1170.7,453.0 1171.6,453.4 1172.5,453.8 1173.3,454.0 1174.2,454.1 1175.1,454.1 1176.0,453.9 1176.8,453.5 1177.7,453.0 1178.6,452.4 1179.5,451.7 1180.4,451.0 1181.2,450.4 1182.1,449.9 1183.0,449.5 1183.9,449.3 1184.7,449.3 1185.6,449.4 1186.5,449.7 1187.4,450.0 1188.2,450.4 1189.1,450.9 1190.0,451.2 1190.9,451.5 1191.8,451.6 1192.6,451.6 1193.5,451.4 1194.4,451.0 1195.3,450.5 1196.1,449.9 1197.0,449.2 1197.9,448.5 1198.8,447.9 1199.7,447.4 1200.5,447.0 1201.4,446.8 1202.3,446.8 1203.2,446.9 1204.0,447.2 1204.9,447.6 1205.8,448.0 1206.7,448.4 1207.6,448.8 1208.4,449.0 1209.3,449.1 1210.2,449.1 1211.1,448.9 1211.9,448.5 1212.8,448.0 1213.7,447.4 1214.6,446.7 1215.5,446.1 1216.3,445.5 1217.2,445.0 1218.1,444.6 1219.0,444.4 1219.8,444.4 1220.7,444.5 1221.6,444.8 1222.5,445.1 1223.3,445.6 1224.2,446.0 1225.1,446.4 1226.0,446.6 1226.9,446.8 1227.7,446.7 1228.6,446.5 1229.5,446.1 1230.4,445.6 1231.2,445.0 1232.1,444.4 1233.0,443.7 1233.9,443.1 1234.8,442.6 1235.6,442.2 1236.5,442.0 1237.4,442.0 1238.3,442.2 1239.1,442.4 1240.0,442.8 1240.9,443.2 1241.8,443.7 1242.7,444.0 1243.5,444.3 1244.4,444.4 1245.3,444.4 1246.2,444.2 1247.0,443.8 1247.9,443.3 1248.8,442.7 1249.7,442.1 1250.6,441.4 1251.4,440.8 1252.3,440.3 1253.2,440.0 1254.1,439.8 1254.9,439.7 1255.8,439.9 1256.7,440.1 1257.6,440.5 1258.5,441.0 1259.3,441.4 1260.2,441.8 1261.1,442.0 1262.0,442.2 1262.8,442.1 1263.7,441.9 1264.6,441.6 1265.5,441.1 1266.3,440.5 1267.2,439.8 1268.1,439.2 1269.0,438.6 1269.9,438.1 1270.7,437.7 1271.6,437.5 1272.5,437.5 1273.4,437.7 1274.2,437.9 1275.1,438.3 1276.0,438.7" fill="none" stroke="#000000" stroke-width="6" stroke-linejoin="round" stroke-linecap="square" shape-rendering="crispEdges"/>
<path d="M223.0,783.9 223.9,783.8 224.8,783.7 225.6,783.5 226.5,783.2 227.4,782.6 228.3,782.0 229.1,781.1 230.0,780.1 230.9,779.1 231.8,777.9 232.7,776.8 233.5,775.7 234.4,774.8 235.3,773.9 236.2,773.3 237.0,772.8 237.9,772.4 238.8,772.2 239.7,772.1 240.6,772.1 241.4,772.0 242.3,771.9 243.2,771.7 244.1,771.4 244.9,770.9 245.8,770.2 246.7,769.4 247.6,768.4 248.4,767.3 249.3,766.2 250.2,765.1 251.1,764.0 252.0,763.1 252.8,762.3 253.7,761.6 254.6,761.1 255.5,760.8 256.3,760.6 257.2,760.5 258.1,760.4 259.0,760.4 259.9,760.3 260.7,760.1 261.6,759.8 262.5,759.3 263.4,758.7 264.2,757.8 265.1,756.9 266.0,755.8 266.9,754.7 267.8,753.6 268.6,752.5 269.5,751.6 270.4,750.8 271.3,750.1 272.1,749.6 273.0,749.3 273.9,749.1 274.8,749.0 275.6,749.0 276.5,749.0 277.4,748.9 278.3,748.7 279.2,748.4 280.0,747.9 280.9,747.3 281.8,746.5 282.7,745.5 283.5,744.5 284.4,743.4 285.3,742.3 286.2,741.2 287.1,740.3 287.9,739.5 288.8,738.8 289.7,738.3 290.6,738.0 291.4,737.9 292.3,737.8 293.2,737.8 294.1,737.8 295.0,737.7 295.8,737.5 296.7,737.2 297.6,736.7 298.5,736.1 299.3,735.3 300.2,734.3 301.1,733.3 302.0,732.2 302.9,731.1 303.7,730.1 304.6,729.1 305.5,728.3 306.4,727.7 307.2,727.2 308.1,726.9 309.0,726.8 309.9,726.7 310.8,726.7 311.6,726.7 312.5,726.6 313.4,726.5 314.3,726.2 315.1,725.7 316.0,725.1 316.9,724.3 317.8,723.3 318.6,722.3 319.5,721.2 320.4,720.1 321.3,719.1 322.2,718.2 323.0,717.4 323.9,716.8 324.8,716.3 325.7,716.0 326.5,715.9 327.4,715.8 328.3,715.8 329.2,715.8 330.1,715.8 330.9,715.6 331.8,715.3 332.7,714.9 333.6,714.2 334.4,713.4 335.3,712.5 336.2,711.5 337.1,710.4 338.0,709.4 338.8,708.3 339.7,707.4 340.6,706.6 341.5,706.0 342.3,705.6 343.2,705.3 344.1,705.1 345.0,705.1 345.9,705.1 346.7,705.1 347.6,705.1 348.5,704.9 349.4,704.6 350.2,704.2 351.1,703.6 352.0,702.8 352.9,701.9 353.7,700.9 354.6,699.8 355.5,698.7 356.4,697.7 357.3,696.8 358.1,696.0 359.0,695.4 359.9,695.0 360.8,694.7 361.6,694.6 362.5,694.5 363.4,694.6 364.3,694.6 365.2,694.5 366.0,694.4 366.9,694.1 367.8,693.7 368.7,693.1 369.5,692.3 370.4,691.4 371.3,690.4 372.2,689.3 373.1,688.3 373.9,687.3 374.8,686.4 375.7,685.6 376.6,685.0 377.4,684.6 378.3,684.3 379.2,684.2 380.1,684.2 381.0,684.2 381.8,684.2 382.7,684.2 383.6,684.1 384.5,683.8 385.3,683.4 386.2,682.8 387.1,682.0 388.0,681.1 388.8,680.1 389.7,679.1 390.6,678.0 391.5,677.0 392.4,676.1 393.2,675.4 394.1,674.8 395.0,674.3 395.9,674.1 396.7,674.0 397.6,673.9 398.5,674.0 399.4,674.0 400.3,674.0 401.1,673.9 402.0,673.6 402.9,673.2 403.8,672.6 404.6,671.9 405.5,671.0 406.4,670.0 407.3,668.9 408.2,667.9 409.0,666.9 409.9,666.0 410.8,665.3 411.7,664.7 412.5,664.3 413.4,664.0 414.3,663.9 415.2,663.9 416.1,663.9 416.9,664.0 417.8,664.0 418.7,663.9 419.6,663.6 420.4,663.2 421.3,662.6 422.2,661.9 423.1,661.0 423.9,660.0 424.8,659.0 425.7,657.9 426.6,657.0 427.5,656.1 428.3,655.3 429.2,654.8 430.1,654.4 431.0,654.1 431.8,654.0 432.7,654.0 433.6,654.1 434.5,654.1 435.4,654.1 436.2,654.0 437.1,653.8 438.0,653.4 438.9,652.8 439.7,652.0 440.6,651.2 441.5,650.2 442.4,649.2 443.3,648.1 444.1,647.2 445.0,646.3 445.9,645.6 446.8,645.0 447.6,644.6 448.5,644.4 449.4,644.3 450.3,644.3 451.1,644.3 452.0,644.4 452.9,644.4 453.8,644.3 454.7,644.1 455.5,643.7 456.4,643.1 457.3,642.4 458.2,641.5 459.0,640.5 459.9,639.5 460.8,638.5 461.7,637.6 462.6,636.7 463.4,636.0 464.3,635.4 465.2,635.0 466.1,634.8 466.9,634.7 467.8,634.7 468.7,634.8 469.6,634.8 470.5,634.9 471.3,634.8 472.2,634.5 473.1,634.1 474.0,633.6 474.8,632.9 475.7,632.0 476.6,631.1 477.5,630.0 478.4,629.0 479.2,628.1 480.1,627.2 481.0,626.5 481.9,626.0 482.7,625.6 483.6,625.4 484.5,625.3 485.4,625.3 486.2,625.4 487.1,625.4 488.0,625.5 488.9,625.4 489.8,625.2 490.6,624.8 491.5,624.2 492.4,623.5 493.3,622.7 494.1,621.7 495.0,620.7 495.9,619.7 496.8,618.8 497.7,617.9 498.5,617.2 499.4,616.7 500.3,616.3 501.2,616.1 502.0,616.0 502.9,616.0 503.8,616.1 504.7,616.2 505.6,616.2 506.4,616.1 507.3,615.9 508.2,615.6 509.1,615.0 509.9,614.3 510.8,613.5 511.7,612.5 512.6,611.5 513.5,610.5 514.3,609.6 515.2,608.7 516.1,608.0 517.0,607.5 517.8,607.1 518.7,606.9 519.6,606.9 520.5,606.9 521.4,607.0 522.2,607.1 523.1,607.1 524.0,607.0 524.9,606.8 525.7,606.5 526.6,605.9 527.5,605.2 528.4,604.4 529.2,603.5 530.1,602.5 531.0,601.5 531.9,600.6 532.8,599.7 533.6,599.0 534.5,598.5 535.4,598.2 536.3,598.0 537.1,597.9 538.0,597.9 538.9,598.0 539.8,598.1 540.7,598.2 541.5,598.1 542.4,597.9 543.3,597.5 544.2,597.0 545.0,596.3 545.9,595.5 546.8,594.6 547.7,593.6 548.6,592.6 549.4,591.7 550.3,590.9 551.2,590.2 552.1,589.7 552.9,589.3 553.8,589.1 554.7,589.1 555.6,589.1 556.5,589.2 557.3,589.3 558.2,589.4 559.1,589.3 560.0,589.1 560.8,588.8 561.7,588.2 562.6,587.6 563.5,586.7 564.3,585.8 565.2,584.8 566.1,583.9 567.0,583.0 567.9,582.1 568.7,581.5 569.6,580.9 570.5,580.6 571.4,580.4 572.2,580.4 573.1,580.4 574.0,580.5 574.9,580.6 575.8,580.7 576.6,580.7 577.5,580.5 578.4,580.1 579.3,579.6 580.1,578.9 581.0,578.1 581.9,577.2 582.8,576.2 583.7,575.3 584.5,574.4 585.4,573.5 586.3,572.9 587.2,572.4 588.0,572.0 588.9,571.9 589.8,571.8 590.7,571.9 591.5,572.0 592.4,572.1 593.3,572.2 594.2,572.1 595.1,572.0 595.9,571.6 596.8,571.1 597.7,570.4 598.6,569.6 599.4,568.7 600.3,567.8 601.2,566.8 602.1,565.9 603.0,565.1 603.8,564.4 604.7,563.9 605.6,563.6 606.5,563.4 607.3,563.4 608.2,563.5 609.1,563.6 610.0,563.7 610.9,563.8 611.7,563.8 612.6,563.6 613.5,563.3 614.4,562.7 615.2,562.1 616.1,561.3 617.0,560.4 617.9,559.4 618.8,558.5 619.6,557.6 620.5,556.8 621.4,556.1 622.3,555.6 623.1,555.3 624.0,555.1 624.9,555.1 625.8,555.2 626.7,555.3 627.5,555.5 628.4,555.5 629.3,555.5 630.2,555.3 631.0,555.0 631.9,554.5 632.8,553.9 633.7,553.1 634.5,552.2 635.4,551.2 636.3,550.3 637.2,549.4 638.1,548.6 638.9,548.0 639.8,547.5 640.7,547.1 641.6,547.0 642.4,547.0 643.3,547.1 644.2,547.2 645.1,547.3 646.0,547.4 646.8,547.4 647.7,547.2 648.6,546.9 649.5,546.4 650.3,545.8 651.2,545.0 652.1,544.1 653.0,543.2 653.9,542.2 654.7,541.3 655.6,540.6 656.5,539.9 657.4,539.4 658.2,539.1 659.1,539.0 660.0,539.0 660.9,539.0 661.8,539.2 662.6,539.3 663.5,539.4 664.4,539.4 665.3,539.3 666.1,538.9 667.0,538.5 667.9,537.8 668.8,537.0 669.6,536.2 670.5,535.2 671.4,534.3 672.3,533.4 673.2,532.6 674.0,532.0 674.9,531.5 675.8,531.2 676.7,531.1 677.5,531.1 678.4,531.2 679.3,531.3 680.2,531.5 681.1,531.6 681.9,531.6 682.8,531.4 683.7,531.1 684.6,530.6 685.4,530.0 686.3,529.2 687.2,528.3 688.1,527.4 689.0,526.5 689.8,525.6 690.7,524.8 691.6,524.2 692.5,523.7 693.3,523.4 694.2,523.3 695.1,523.3 696.0,523.4 696.9,523.6 697.7,523.7 698.6,523.8 699.5,523.8 700.4,523.7 701.2,523.4 702.1,522.9 703.0,522.3 703.9,521.5 704.7,520.7 705.6,519.7 706.5,518.8 707.4,517.9 708.3,517.2 709.1,516.6 710.0,516.1 710.9,515.8 711.8,515.7 712.6,515.7 713.5,515.8 714.4,515.9 715.3,516.1 716.2,516.2 717.0,516.2 717.9,516.1 718.8,515.8 719.7,515.3 720.5,514.7 721.4,513.9 722.3,513.1 723.2,512.2 724.1,511.3 724.9,510.4 725.8,509.6 726.7,509.0 727.6,508.6 728.4,508.3 729.3,508.1 730.2,508.2 731.1,508.3 732.0,508.4 732.8,508.6 733.7,508.7 734.6,508.7 735.5,508.6 736.3,508.3 737.2,507.9 738.1,507.2 739.0,506.5 739.8,505.6 740.7,504.7 741.6,503.8 742.5,503.0 743.4,502.2 744.2,501.6 745.1,501.1 746.0,500.9 746.9,500.8 747.7,500.8 748.6,500.9 749.5,501.1 750.4,501.2 751.3,501.4 752.1,501.4 753.0,501.3 753.9,501.0 754.8,500.5 755.6,499.9 756.5,499.2 757.4,498.3 758.3,497.4 759.2,496.5 760.0,495.7 760.9,494.9 761.8,494.3 762.7,493.9 763.5,493.6 764.4,493.5 765.3,493.5 766.2,493.6 767.1,493.8 767.9,494.0 768.8,494.1 769.7,494.1 770.6,494.0 771.4,493.7 772.3,493.3 773.2,492.7 774.1,491.9 774.9,491.1 775.8,490.2 776.7,489.3 777.6,488.5 778.5,487.7 779.3,487.1 780.2,486.7 781.1,486.4 782.0,486.3 782.8,486.3 783.7,486.5 784.6,486.7 785.5,486.8 786.4,487.0 787.2,487.0 788.1,486.9 789.0,486.6 789.9,486.2 790.7,485.6 791.6,484.8 792.5,484.0 793.4,483.1 794.3,482.2 795.1,481.4 796.0,480.7 796.9,480.1 797.8,479.6 798.6,479.4 799.5,479.3 800.4,479.3 801.3,479.4 802.1,479.6 803.0,479.8 803.9,480.0 804.8,480.0 805.7,479.9 806.5,479.6 807.4,479.2 808.3,478.6 809.2,477.9 810.0,477.0 810.9,476.1 811.8,475.3 812.7,474.4 813.6,473.7 814.4,473.1 815.3,472.7 816.2,472.4 817.1,472.3 817.9,472.4 818.8,472.5 819.7,472.7 820.6,472.9 821.5,473.0 822.3,473.1 823.2,473.0 824.1,472.7 825.0,472.3 825.8,471.7 826.7,471.0 827.6,470.2 828.5,469.3 829.4,468.4 830.2,467.6 831.1,466.9 832.0,466.3 832.9,465.8 833.7,465.6 834.6,465.5 835.5,465.6 836.4,465.7 837.2,465.9 838.1,466.1 839.0,466.3 839.9,466.3 840.8,466.2 841.6,466.0 842.5,465.5 843.4,465.0 844.3,464.2 845.1,463.4 846.0,462.5 846.9,461.7 847.8,460.8 848.7,460.1 849.5,459.5 850.4,459.1 851.3,458.9 852.2,458.8 853.0,458.8 853.9,459.0 854.8,459.2 855.7,459.4 856.6,459.6 857.4,459.6 858.3,459.5 859.2,459.3 860.1,458.9 860.9,458.3 861.8,457.6 862.7,456.8 863.6,455.9 864.5,455.0 865.3,454.2 866.2,453.5 867.1,452.9 868.0,452.5 868.8,452.3 869.7,452.2 870.6,452.2 871.5,452.4 872.4,452.6 873.2,452.8 874.1,453.0 875.0,453.1 875.9,453.0 876.7,452.7 877.6,452.3 878.5,451.7 879.4,451.0 880.2,450.2 881.1,449.4 882.0,448.5 882.9,447.7 883.8,447.0 884.6,446.4 885.5,446.0 886.4,445.8 887.3,445.7 888.1,445.8 889.0,445.9 889.9,446.1 890.8,446.4 891.7,446.5 892.5,446.6 893.4,446.5 894.3,446.3 895.2,445.9 896.0,445.3 896.9,444.6 897.8,443.8 898.7,442.9 899.6,442.1 900.4,441.3 901.3,440.6 902.2,440.0 903.1,439.6 903.9,439.4 904.8,439.3 905.7,439.4 906.6,439.5 907.5,439.8 908.3,440.0 909.2,440.2 910.1,440.2 911.0,440.2 911.8,439.9 912.7,439.5 913.6,439.0 914.5,438.3 915.3,437.5 916.2,436.6 917.1,435.7 918.0,435.0 918.9,434.3 919.7,433.7 920.6,433.3 921.5,433.1 922.4,433.0 923.2,433.1 924.1,433.3 925.0,433.5 925.9,433.7 926.8,433.9 927.6,434.0 928.5,433.9 929.4,433.7 930.3,433.3 931.1,432.7 932.0,432.0 932.9,431.2 933.8,430.4 934.7,429.5 935.5,428.7 936.4,428.0 937.3,427.5 938.2,427.1 939.0,426.9 939.9,426.8 940.8,426.9 941.7,427.1 942.6,427.3 943.4,427.5 944.3,427.7 945.2,427.8 946.1,427.7 946.9,427.5 947.8,427.1 948.7,426.6 949.6,425.9 950.4,425.1 951.3,424.3 952.2,423.4 953.1,422.6 954.0,421.9 954.8,421.4 955.7,421.0 956.6,420.8 957.5,420.7 958.3,420.8 959.2,421.0 960.1,421.2 961.0,421.5 961.9,421.7 962.7,421.7 963.6,421.7 964.5,421.5 965.4,421.1 966.2,420.5 967.1,419.8 968.0,419.1 968.9,418.2 969.8,417.4 970.6,416.6 971.5,415.9 972.4,415.4 973.3,415.0 974.1,414.8 975.0,414.7 975.9,414.8 976.8,415.0 977.6,415.3 978.5,415.5 979.4,415.7 980.3,415.8 981.2,415.7 982.0,415.5 982.9,415.1 983.8,414.6 984.7,413.9 985.5,413.1 986.4,412.3 987.3,411.5 988.2,410.7 989.1,410.0 989.9,409.5 990.8,409.1 991.7,408.9 992.6,408.8 993.4,408.9 994.3,409.1 995.2,409.4 996.1,409.6 997.0,409.8 997.8,409.9 998.7,409.9 999.6,409.7 1000.5,409.3 1001.3,408.7 1002.2,408.1 1003.1,407.3 1004.0,406.5 1004.9,405.6 1005.7,404.9 1006.6,404.2 1007.5,403.7 1008.4,403.3 1009.2,403.1 1010.1,403.0 1011.0,403.1 1011.9,403.3 1012.8,403.6 1013.6,403.8 1014.5,404.0 1015.4,404.1 1016.3,404.1 1017.1,403.9 1018.0,403.5 1018.9,403.0 1019.8,402.3 1020.6,401.5 1021.5,400.7 1022.4,399.9 1023.3,399.1 1024.2,398.5 1025.0,397.9 1025.9,397.6 1026.8,397.4 1027.7,397.3 1028.5,397.4 1029.4,397.6 1030.3,397.9 1031.2,398.1 1032.1,398.4 1032.9,398.5 1033.8,398.4 1034.7,398.2 1035.6,397.9 1036.4,397.3 1037.3,396.7 1038.2,395.9 1039.1,395.1 1040.0,394.3 1040.8,393.5 1041.7,392.8 1042.6,392.3 1043.5,391.9 1044.3,391.7 1045.2,391.7 1046.1,391.8 1047.0,392.0 1047.8,392.3 1048.7,392.6 1049.6,392.8 1050.5,392.9 1051.4,392.8 1052.2,392.6 1053.1,392.3 1054.0,391.8 1054.9,391.1 1055.7,390.3 1056.6,389.5 1057.5,388.7 1058.4,387.9 1059.3,387.3 1060.1,386.8 1061.0,386.4 1061.9,386.2 1062.8,386.2 1063.6,386.3 1064.5,386.5 1065.4,386.8 1066.3,387.0 1067.2,387.3 1068.0,387.4 1068.9,387.3 1069.8,387.2 1070.7,386.8 1071.5,386.3 1072.4,385.6 1073.3,384.9 1074.2,384.0 1075.1,383.2 1075.9,382.5 1076.8,381.8 1077.7,381.3 1078.6,381.0 1079.4,380.8 1080.3,380.8 1081.2,380.9 1082.1,381.1 1083.0,381.4 1083.8,381.6 1084.7,381.8 1085.6,382.0 1086.5,381.9 1087.3,381.8 1088.2,381.4 1089.1,380.9 1090.0,380.2 1090.8,379.5 1091.7,378.7 1092.6,377.9 1093.5,377.1 1094.4,376.5 1095.2,375.9 1096.1,375.6 1097.0,375.4 1097.9,375.4 1098.7,375.5 1099.6,375.7 1100.5,376.0 1101.4,376.3 1102.3,376.5 1103.1,376.6 1104.0,376.6 1104.9,376.4 1105.8,376.1 1106.6,375.6 1107.5,374.9 1108.4,374.2 1109.3,373.4 1110.2,372.6 1111.0,371.8 1111.9,371.2 1112.8,370.7 1113.7,370.3 1114.5,370.1 1115.4,370.1 1116.3,370.3 1117.2,370.5 1118.1,370.8 1118.9,371.0 1119.8,371.3 1120.7,371.4 1121.6,371.4 1122.4,371.2 1123.3,370.9 1124.2,370.4 1125.1,369.7 1125.9,369.0 1126.8,368.2 1127.7,367.4 1128.6,366.6 1129.5,366.0 1130.3,365.5 1131.2,365.1 1132.1,365.0 1133.0,365.0 1133.8,365.1 1134.7,365.3 1135.6,365.6 1136.5,365.9 1137.4,366.1 1138.2,366.2 1139.1,366.2 1140.0,366.1 1140.9,365.7 1141.7,365.2 1142.6,364.6 1143.5,363.8 1144.4,363.0 1145.3,362.2 1146.1,361.5 1147.0,360.9 1147.9,360.4 1148.8,360.0 1149.6,359.9 1150.5,359.9 1151.4,360.0 1152.3,360.2 1153.2,360.5 1154.0,360.8 1154.9,361.0 1155.8,361.2 1156.7,361.2 1157.5,361.0 1158.4,360.7 1159.3,360.2 1160.2,359.5 1161.0,358.8 1161.9,358.0 1162.8,357.2 1163.7,356.5 1164.6,355.8 1165.4,355.3 1166.3,355.0 1167.2,354.8 1168.1,354.8 1168.9,355.0 1169.8,355.2 1170.7,355.5 1171.6,355.8 1172.5,356.0 1173.3,356.2 1174.2,356.2 1175.1,356.0 1176.0,355.7 1176.8,355.2 1177.7,354.6 1178.6,353.8 1179.5,353.0 1180.4,352.3 1181.2,351.5 1182.1,350.9 1183.0,350.4 1183.9,350.1 1184.7,349.9 1185.6,349.9 1186.5,350.1 1187.4,350.3 1188.2,350.6 1189.1,350.9 1190.0,351.1 1190.9,351.3 1191.8,351.3 1192.6,351.1 1193.5,350.8 1194.4,350.3 1195.3,349.7 1196.1,348.9 1197.0,348.2 1197.9,347.4 1198.8,346.6 1199.7,346.0 1200.5,345.5 1201.4,345.2 1202.3,345.1 1203.2,345.1 1204.0,345.2 1204.9,345.5 1205.8,345.8 1206.7,346.1 1207.6,346.3 1208.4,346.4 1209.3,346.4 1210.2,346.3 1211.1,346.0 1211.9,345.5 1212.8,344.9 1213.7,344.1 1214.6,343.4 1215.5,342.6 1216.3,341.9 1217.2,341.2 1218.1,340.7 1219.0,340.4 1219.8,340.3 1220.7,340.3 1221.6,340.4 1222.5,340.7 1223.3,341.0 1224.2,341.3 1225.1,341.5 1226.0,341.7 1226.9,341.7 1227.7,341.5 1228.6,341.2 1229.5,340.7 1230.4,340.1 1231.2,339.4 1232.1,338.6 1233.0,337.9 1233.9,337.1 1234.8,336.5 1235.6,336.0 1236.5,335.7 1237.4,335.6 1238.3,335.6 1239.1,335.7 1240.0,336.0 1240.9,336.3 1241.8,336.6 1242.7,336.9 1243.5,337.0 1244.4,337.0 1245.3,336.9 1246.2,336.6 1247.0,336.1 1247.9,335.5 1248.8,334.7 1249.7,334.0 1250.6,333.2 1251.4,332.5 1252.3,331.9 1253.2,331.4 1254.1,331.1 1254.9,330.9 1255.8,331.0 1256.7,331.1 1257.6,331.4 1258.5,331.7 1259.3,332.0 1260.2,332.3 1261.1,332.4 1262.0,332.4 1262.8,332.3 1263.7,332.0 1264.6,331.5 1265.5,330.9 1266.3,330.2 1267.2,329.4 1268.1,328.6 1269.0,327.9 1269.9,327.3 1270.7,326.8 1271.6,326.5 1272.5,326.4 1273.4,326.4 1274.2,326.6 1275.1,326.8 1276.0,327.1" fill="none" stroke="#00ff00" stroke-width="4.4" stroke-linejoin="round"/>
<path d="M223.0,783.9 223.9,783.8 224.8,783.7 225.6,783.5 226.5,783.2 227.4,782.6 228.3,782.0 229.1,781.1 230.0,780.1 230.9,779.1 231.8,777.9 232.7,776.8 233.5,775.7 234.4,774.8 235.3,773.9 236.2,773.3 237.0,772.8 237.9,772.4 238.8,772.2 239.7,772.1 240.6,772.1 241.4,772.0 242.3,771.9 243.2,771.7 244.1,771.4 244.9,770.9 245.8,770.2 246.7,769.4 247.6,768.4 248.4,767.3 249.3,766.2 250.2,765.1 251.1,764.0 252.0,763.1 252.8,762.3 253.7,761.6 254.6,761.1 255.5,760.8 256.3,760.6 257.2,760.5 258.1,760.4 259.0,760.4 259.9,760.3 260.7,760.1 261.6,759.8 262.5,759.3 263.4,758.7 264.2,757.8 265.1,756.9 266.0,755.8 266.9,754.7 267.8,753.6 268.6,752.5 269.5,751.6 270.4,750.8 271.3,750.1 272.1,749.6 273.0,749.3 273.9,749.1 274.8,749.0 275.6,749.0 276.5,749.0 277.4,748.9 278.3,748.7 279.2,748.4 280.0,747.9 280.9,747.3 281.8,746.5 282.7,745.5 283.5,744.5 284.4,743.4 285.3,742.3 286.2,741.2 287.1,740.3 287.9,739.5 288.8,738.8 289.7,738.3 290.6,738.0 291.4,737.9 292.3,737.8 293.2,737.8 294.1,737.8 295.0,737.7 295.8,737.5 296.7,737.2 297.6,736.7 298.5,736.1 299.3,735.3 300.2,734.3 301.1,733.3 302.0,732.2 302.9,731.1 303.7,730.1 304.6,729.1 305.5,728.3 306.4,727.7 307.2,727.2 308.1,726.9 309.0,726.8 309.9,726.7 310.8,726.7 311.6,726.7 312.5,726.6 313.4,726.5 314.3,726.2 315.1,725.7 316.0,725.1 316.9,724.3 317.8,723.3 318.6,722.3 319.5,721.2 320.4,720.1 321.3,719.1 322.2,718.2 323.0,717.4 323.9,716.8 324.8,716.3 325.7,716.0 326.5,715.9 327.4,715.8 328.3,715.8 329.2,715.8 330.1,715.8 330.9,715.6 331.8,715.3 332.7,714.9 333.6,714.2 334.4,713.4 335.3,712.5 336.2,711.5 337.1,710.4 338.0,709.4 338.8,708.3 339.7,707.4 340.6,706.6 341.5,706.0 342.3,705.6 343.2,705.3 344.1,705.1 345.0,705.1 345.9,705.1 346.7,705.1 347.6,705.1 348.5,704.9 349.4,704.6 350.2,704.2 351.1,703.6 352.0,702.8 352.9,701.9 353.7,700.9 354.6,699.8 355.5,698.7 356.4,697.7 357.3,696.8 358.1,696.0 359.0,695.4 359.9,695.0 360.8,694.7 361.6,694.6 362.5,694.5 363.4,694.6 364.3,694.6 365.2,694.5 366.0,694.4 366.9,694.1 367.8,693.7 368.7,693.1 369.5,692.3 370.4,691.4 371.3,690.4 372.2,689.3 373.1,688.3 373.9,687.3 374.8,686.4 375.7,685.6 376.6,685.0 377.4,684.6 378.3,684.3 379.2,684.2 380.1,684.2 381.0,684.2 381.8,684.2 382.7,684.2 383.6,684.1 384.5,683.8 385.3,683.4 386.2,682.8 387.1,682.0 388.0,681.1 388.8,680.1 389.7,679.1 390.6,678.0 391.5,677.0 392.4,676.1 393.2,675.4 394.1,674.8 395.0,674.3 395.9,674.1 396.7,674.0 397.6,673.9 398.5,674.0 399.4,674.0 400.3,674.0 401.1,673.9 402.0,673.6 402.9,673.2 403.8,672.6 404.6,671.9 405.5,671.0 406.4,670.0 407.3,668.9 408.2,667.9 409.0,666.9 409.9,666.0 410.8,665.3 411.7,664.7 412.5,664.3 413.4,664.0 414.3,663.9 415.2,663.9 416.1,663.9 416.9,664.0 417.8,664.0 418.7,663.9 419.6,663.6 420.4,663.2 421.3,662.6 422.2,661.9 423.1,661.0 423.9,660.0 424.8,659.0 425.7,657.9 426.6,657.0 427.5,656.1 428.3,655.3 429.2,654.8 430.1,654.4 431.0,654.1 431.8,654.0 432.7,654.0 433.6,654.1 434.5,654.1 435.4,654.1 436.2,654.0 437.1,653.8 438.0,653.4 438.9,652.8 439.7,652.0 440.6,651.2 441.5,650.2 442.4,649.2 443.3,648.1 444.1,647.2 445.0,646.3 445.9,645.6 446.8,645.0 447.6,644.6 448.5,644.4 449.4,644.3 450.3,644.3 451.1,644.3 452.0,644.4 452.9,644.4 453.8,644.3 454.7,644.1 455.5,643.7 456.4,643.1 457.3,642.4 458.2,641.5 459.0,640.5 459.9,639.5 460.8,638.5 461.7,637.6 462.6,636.7 463.4,636.0 464.3,635.4 465.2,635.0 466.1,634.8 466.9,634.7 467.8,634.7 468.7,634.8 469.6,634.8 470.5,634.9 471.3,634.8 472.2,634.5 473.1,634.1 474.0,633.6 474.8,632.9 475.7,632.0 476.6,631.1 477.5,630.0 478.4,629.0 479.2,628.1 480.1,627.2 481.0,626.5 481.9,626.0 482.7,625.6 483.6,625.4 484.5,625.3 485.4,625.3 486.2,625.4 487.1,625.4 488.0,625.5 488.9,625.4 489.8,625.2 490.6,624.8 491.5,624.2 492.4,623.5 493.3,622.7 494.1,621.7 495.0,620.7 495.9,619.7 496.8,618.8 497.7,617.9 498.5,617.2 499.4,616.7 500.3,616.3 501.2,616.1 502.0,616.0 502.9,616.0 503.8,616.1 504.7,616.2 505.6,616.2 506.4,616.1 507.3,615.9 508.2,615.6 509.1,615.0 509.9,614.3 510.8,613.5 511.7,612.5 512.6,611.5 513.5,610.5 514.3,609.6 515.2,608.7 516.1,608.0 517.0,607.5 517.8,607.1 518.7,606.9 519.6,606.9 520.5,606.9 521.4,607.0 522.2,607.1 523.1,607.1 524.0,607.0 524.9,606.8 525.7,606.5 526.6,605.9 527.5,605.2 528.4,604.4 529.2,603.5 530.1,602.5 531.0,601.5 531.9,600.6 532.8,599.7 533.6,599.0 534.5,598.5 535.4,598.2 536.3,598.0 537.1,597.9 538.0,597.9 538.9,598.0 539.8,598.1 540.7,598.2 541.5,598.1 542.4,597.9 543.3,597.5 544.2,597.0 545.0,596.3 545.9,595.5 546.8,594.6 547.7,593.6 548.6,592.6 549.4,591.7 550.3,590.9 551.2,590.2 552.1,589.7 552.9,589.3 553.8,589.1 554.7,589.1 555.6,589.1 556.5,589.2 557.3,589.3 558.2,589.4 559.1,589.3 560.0,589.1 560.8,588.8 561.7,588.2 562.6,587.6 563.5,586.7 564.3,585.8 565.2,584.8 566.1,583.9 567.0,583.0 567.9,582.1 568.7,581.5 569.6,580.9 570.5,580.6 571.4,580.4 572.2,580.4 573.1,580.4 574.0,580.5 574.9,580.6 575.8,580.7 576.6,580.7 577.5,580.5 578.4,580.1 579.3,579.6 580.1,578.9 581.0,578.1 581.9,577.2 582.8,576.2 583.7,575.3 584.5,574.4 585.4,573.5 586.3,572.9 587.2,572.4 588.0,572.0 588.9,571.9 589.8,571.8 590.7,571.9 591.5,572.0 592.4,572.1 593.3,572.2 594.2,572.1 595.1,572.0 595.9,571.6 596.8,571.1 597.7,570.4 598.6,569.6 599.4,568.7 600.3,567.8 601.2,566.8 602.1,565.9 603.0,565.1 603.8,564.4 604.7,563.9 605.6,563.6 606.5,563.4 607.3,563.4 608.2,563.5 609.1,563.6 610.0,563.7 610.9,563.8 611.7,563.8 612.6,563.6 613.5,563.3 614.4,562.7 615.2,562.1 616.1,561.3 617.0,560.4 617.9,559.4 618.8,558.5 619.6,557.6 620.5,556.8 621.4,556.1 622.3,555.6 623.1,555.3 624.0,555.1 624.9,555.1 625.8,555.2 626.7,555.3 627.5,555.5 628.4,555.5 629.3,555.5 630.2,555.3 631.0,555.0 631.9,554.5 632.8,553.9 633.7,553.1 634.5,552.2 635.4,551.2 636.3,550.3 637.2,549.4 638.1,548.6 638.9,548.0 639.8,547.5 640.7,547.1 641.6,547.0 642.4,547.0 643.3,547.1 644.2,547.2 645.1,547.3 646.0,547.4 646.8,547.4 647.7,547.2 648.6,546.9 649.5,546.4 650.3,545.8 651.2,545.0 652.1,544.1 653.0,543.2 653.9,542.2 654.7,541.3 655.6,540.6 656.5,539.9 657.4,539.4 658.2,539.1 659.1,539.0 660.0,539.0 660.9,539.0 661.8,539.2 662.6,539.3 663.5,539.4 664.4,539.4 665.3,539.3 666.1,538.9 667.0,538.5 667.9,537.8 668.8,537.0 669.6,536.2 670.5,535.2 671.4,534.3 672.3,533.4 673.2,532.6 674.0,532.0 674.9,531.5 675.8,531.2 676.7,531.1 677.5,531.1 678.4,531.2 679.3,531.3 680.2,531.5 681.1,531.6 681.9,531.6 682.8,531.4 683.7,531.1 684.6,530.6 685.4,530.0 686.3,529.2 687.2,528.3 688.1,527.4 689.0,526.5 689.8,525.6 690.7,524.8 691.6,524.2 692.5,523.7 693.3,523.4 694.2,523.3 695.1,523.3 696.0,523.4 696.9,523.6 697.7,523.7 698.6,523.8 699.5,523.8 700.4,523.7 701.2,523.4 702.1,522.9 703.0,522.3 703.9,521.5 704.7,520.7 705.6,519.7 706.5,518.8 707.4,517.9 708.3,517.2 709.1,516.6 710.0,516.1 710.9,515.8 711.8,515.7 712.6,515.7 713.5,515.8 714.4,515.9 715.3,516.1 716.2,516.2 717.0,516.2 717.9,516.1 718.8,515.8 719.7,515.3 720.5,514.7 721.4,513.9 722.3,513.1 723.2,512.2 724.1,511.3 724.9,510.4 725.8,509.6 726.7,509.0 727.6,508.6 728.4,508.3 729.3,508.1 730.2,508.2 731.1,508.3 732.0,508.4 732.8,508.6 733.7,508.7 734.6,508.7 735.5,508.6 736.3,508.3 737.2,507.9 738.1,507.2 739.0,506.5 739.8,505.6 740.7,504.7 741.6,503.8 742.5,503.0 743.4,502.2 744.2,501.6 745.1,501.1 746.0,500.9 746.9,500.8 747.7,500.8 748.6,500.9 749.5,501.1 750.4,501.2 751.3,501.4 752.1,501.4 753.0,501.3 753.9,501.0 754.8,500.5 755.6,499.9 756.5,499.2 757.4,498.3 758.3,497.4 759.2,496.5 760.0,495.7 760.9,494.9 761.8,494.3 762.7,493.9 763.5,493.6 764.4,493.5 765.3,493.5 766.2,493.6 767.1,493.8 767.9,494.0 768.8,494.1 769.7,494.1 770.6,494.0 771.4,493.7 772.3,493.3 773.2,492.7 774.1,491.9 774.9,491.1 775.8,490.2 776.7,489.3 777.6,488.5 778.5,487.7 779.3,487.1 780.2,486.7 781.1,486.4 782.0,486.3 782.8,486.3 783.7,486.5 784.6,486.7 785.5,486.8 786.4,487.0 787.2,487.0 788.1,486.9 789.0,486.6 789.9,486.2 790.7,485.6 791.6,484.8 792.5,484.0 793.4,483.1 794.3,482.2 795.1,481.4 796.0,480.7 796.9,480.1 797.8,479.6 798.6,479.4 799.5,479.3 800.4,479.3 801.3,479.4 802.1,479.6 803.0,479.8 803.9,480.0 804.8,480.0 805.7,479.9 806.5,479.6 807.4,479.2 808.3,478.6 809.2,477.9 810.0,477.0 810.9,476.1 811.8,475.3 812.7,474.4 813.6,473.7 814.4,473.1 815.3,472.7 816.2,472.4 817.1,472.3 817.9,472.4 818.8,472.5 819.7,472.7 820.6,472.9 821.5,473.0 822.3,473.1 823.2,473.0 824.1,472.7 825.0,472.3 825.8,471.7 826.7,471.0 827.6,470.2 828.5,469.3 829.4,468.4 830.2,467.6 831.1,466.9 832.0,466.3 832.9,465.8 833.7,465.6 834.6,465.5 835.5,465.6 836.4,465.7 837.2,465.9 838.1,466.1 839.0,466.3 839.9,466.3 840.8,466.2 841.6,466.0 842.5,465.5 843.4,465.0 844.3,464.2 845.1,463.4 846.0,462.5 846.9,461.7 847.8,460.8 848.7,460.1 849.5,459.5 850.4,459.1 851.3,458.9 852.2,458.8 853.0,458.8 853.9,459.0 854.8,459.2 855.7,459.4 856.6,459.6 857.4,459.6 858.3,459.5 859.2,459.3 860.1,458.9 860.9,458.3 861.8,457.6 862.7,456.8 863.6,455.9 864.5,455.0 865.3,454.2 866.2,453.5 867.1,452.9 868.0,452.5 868.8,452.3 869.7,452.2 870.6,452.2 871.5,452.4 872.4,452.6 873.2,452.8 874.1,453.0 875.0,453.1 875.9,453.0 876.7,452.7 877.6,452.3 878.5,451.7 879.4,451.0 880.2,450.2 881.1,449.4 882.0,448.5 882.9,447.7 883.8,447.0 884.6,446.4 885.5,446.0 886.4,445.8 887.3,445.7 888.1,445.8 889.0,445.9 889.9,446.1 890.8,446.4 891.7,446.5 892.5,446.6 893.4,446.5 894.3,446.3 895.2,445.9 896.0,445.3 896.9,444.6 897.8,443.8 898.7,442.9 899.6,442.1 900.4,441.3 901.3,440.6 902.2,440.0 903.1,439.6 903.9,439.4 904.8,439.3 905.7,439.4 906.6,439.5 907.5,439.8 908.3,440.0 909.2,440.2 910.1,440.2 911.0,440.2 911.8,439.9 912.7,439.5 913.6,439.0 914.5,438.3 915.3,437.5 916.2,436.6 917.1,435.7 918.0,435.0 918.9,434.3 919.7,433.7 920.6,433.3 921.5,433.1 922.4,433.0 923.2,433.1 924.1,433.3 925.0,433.5 925.9,433.7 926.8,433.9 927.6,434.0 928.5,433.9 929.4,433.7 930.3,433.3 931.1,432.7 932.0,432.0 932.9,431.2 933.8,430.4 934.7,429.5 935.5,428.7 936.4,428.0 937.3,427.5 938.2,427.1 939.0,426.9 939.9,426.8 940.8,426.9 941.7,427.1 942.6,427.3 943.4,427.5 944.3,427.7 945.2,427.8 946.1,427.7 946.9,427.5 947.8,427.1 948.7,426.6 949.6,425.9 950.4,425.1 951.3,424.3 952.2,423.4 953.1,422.6 954.0,421.9 954.8,421.4 955.7,421.0 956.6,420.8 957.5,420.7 958.3,420.8 959.2,421.0 960.1,421.2 961.0,421.5 961.9,421.7 962.7,421.7 963.6,421.7 964.5,421.5 965.4,421.1 966.2,420.5 967.1,419.8 968.0,419.1 968.9,418.2 969.8,417.4 970.6,416.6 971.5,415.9 972.4,415.4 973.3,415.0 974.1,414.8 975.0,414.7 975.9,414.8 976.8,415.0 977.6,415.3 978.5,415.5 979.4,415.7 980.3,415.8 981.2,415.7 982.0,415.5 982.9,415.1 983.8,414.6 984.7,413.9 985.5,413.1 986.4,412.3 987.3,411.5 988.2,410.7 989.1,410.0 989.9,409.5 990.8,409.1 991.7,408.9 992.6,408.8 993.4,408.9 994.3,409.1 995.2,409.4 996.1,409.6 997.0,409.8 997.8,409.9 998.7,409.9 999.6,409.7 1000.5,409.3 1001.3,408.7 1002.2,408.1 1003.1,407.3 1004.0,406.5 1004.9,405.6 1005.7,404.9 1006.6,404.2 1007.5,403.7 1008.4,403.3 1009.2,403.1 1010.1,403.0 1011.0,403.1 1011.9,403.3 1012.8,403.6 1013.6,403.8 1014.5,404.0 1015.4,404.1 1016.3,404.1 1017.1,403.9 1018.0,403.5 1018.9,403.0 1019.8,402.3 1020.6,401.5 1021.5,400.7 1022.4,399.9 1023.3,399.1 1024.2,398.5 1025.0,397.9 1025.9,397.6 1026.8,397.4 1027.7,397.3 1028.5,397.4 1029.4,397.6 1030.3,397.9 1031.2,398.1 1032.1,398.4 1032.9,398.5 1033.8,398.4 1034.7,398.2 1035.6,397.9 1036.4,397.3 1037.3,396.7 1038.2,395.9 1039.1,395.1 1040.0,394.3 1040.8,393.5 1041.7,392.8 1042.6,392.3 1043.5,391.9 1044.3,391.7 1045.2,391.7 1046.1,391.8 1047.0,392.0 1047.8,392.3 1048.7,392.6 1049.6,392.8 1050.5,392.9 1051.4,392.8 1052.2,392.6 1053.1,392.3 1054.0,391.8 1054.9,391.1 1055.7,390.3 1056.6,389.5 1057.5,388.7 1058.4,387.9 1059.3,387.3 1060.1,386.8 1061.0,386.4 1061.9,386.2 1062.8,386.2 1063.6,386.3 1064.5,386.5 1065.4,386.8 1066.3,387.0 1067.2,387.3 1068.0,387.4 1068.9,387.3 1069.8,387.2 1070.7,386.8 1071.5,386.3 1072.4,385.6 1073.3,384.9 1074.2,384.0 1075.1,383.2 1075.9,382.5 1076.8,381.8 1077.7,381.3 1078.6,381.0 1079.4,380.8 1080.3,380.8 1081.2,380.9 1082.1,381.1 1083.0,381.4 1083.8,381.6 1084.7,381.8 1085.6,382.0 1086.5,381.9 1087.3,381.8 1088.2,381.4 1089.1,380.9 1090.0,380.2 1090.8,379.5 1091.7,378.7 1092.6,377.9 1093.5,377.1 1094.4,376.5 1095.2,375.9 1096.1,375.6 1097.0,375.4 1097.9,375.4 1098.7,375.5 1099.6,375.7 1100.5,376.0 1101.4,376.3 1102.3,376.5 1103.1,376.6 1104.0,376.6 1104.9,376.4 1105.8,376.1 1106.6,375.6 1107.5,374.9 1108.4,374.2 1109.3,373.4 1110.2,372.6 1111.0,371.8 1111.9,371.2 1112.8,370.7 1113.7,370.3 1114.5,370.1 1115.4,370.1 1116.3,370.3 1117.2,370.5 1118.1,370.8 1118.9,371.0 1119.8,371.3 1120.7,371.4 1121.6,371.4 1122.4,371.2 1123.3,370.9 1124.2,370.4 1125.1,369.7 1125.9,369.0 1126.8,368.2 1127.7,367.4 1128.6,366.6 1129.5,366.0 1130.3,365.5 1131.2,365.1 1132.1,365.0 1133.0,365.0 1133.8,365.1 1134.7,365.3 1135.6,365.6 1136.5,365.9 1137.4,366.1 1138.2,366.2 1139.1,366.2 1140.0,366.1 1140.9,365.7 1141.7,365.2 1142.6,364.6 1143.5,363.8 1144.4,363.0 1145.3,362.2 1146.1,361.5 1147.0,360.9 1147.9,360.4 1148.8,360.0 1149.6,359.9 1150.5,359.9 1151.4,360.0 1152.3,360.2 1153.2,360.5 1154.0,360.8 1154.9,361.0 1155.8,361.2 1156.7,361.2 1157.5,361.0 1158.4,360.7 1159.3,360.2 1160.2,359.5 1161.0,358.8 1161.9,358.0 1162.8,357.2 1163.7,356.5 1164.6,355.8 1165.4,355.3 1166.3,355.0 1167.2,354.8 1168.1,354.8 1168.9,355.0 1169.8,355.2 1170.7,355.5 1171.6,355.8 1172.5,356.0 1173.3,356.2 1174.2,356.2 1175.1,356.0 1176.0,355.7 1176.8,355.2 1177.7,354.6 1178.6,353.8 1179.5,353.0 1180.4,352.3 1181.2,351.5 1182.1,350.9 1183.0,350.4 1183.9,350.1 1184.7,349.9 1185.6,349.9 1186.5,350.1 1187.4,350.3 1188.2,350.6 1189.1,350.9 1190.0,351.1 1190.9,351.3 1191.8,351.3 1192.6,351.1 1193.5,350.8 1194.4,350.3 1195.3,349.7 1196.1,348.9 1197.0,348.2 1197.9,347.4 1198.8,346.6 1199.7,346.0 1200.5,345.5 1201.4,345.2 1202.3,345.1 1203.2,345.1 1204.0,345.2 1204.9,345.5 1205.8,345.8 1206.7,346.1 1207.6,346.3 1208.4,346.4 1209.3,346.4 1210.2,346.3 1211.1,346.0 1211.9,345.5 1212.8,344.9 1213.7,344.1 1214.6,343.4 1215.5,342.6 1216.3,341.9 1217.2,341.2 1218.1,340.7 1219.0,340.4 1219.8,340.3 1220.7,340.3 1221.6,340.4 1222.5,340.7 1223.3,341.0 1224.2,341.3 1225.1,341.5 1226.0,341.7 1226.9,341.7 1227.7,341.5 1228.6,341.2 1229.5,340.7 1230.4,340.1 1231.2,339.4 1232.1,338.6 1233.0,337.9 1233.9,337.1 1234.8,336.5 1235.6,336.0 1236.5,335.7 1237.4,335.6 1238.3,335.6 1239.1,335.7 1240.0,336.0 1240.9,336.3 1241.8,336.6 1242.7,336.9 1243.5,337.0 1244.4,337.0 1245.3,336.9 1246.2,336.6 1247.0,336.1 1247.9,335.5 1248.8,334.7 1249.7,334.0 1250.6,333.2 1251.4,332.5 1252.3,331.9 1253.2,331.4 1254.1,331.1 1254.9,330.9 1255.8,331.0 1256.7,331.1 1257.6,331.4 1258.5,331.7 1259.3,332.0 1260.2,332.3 1261.1,332.4 1262.0,332.4 1262.8,332.3 1263.7,332.0 1264.6,331.5 1265.5,330.9 1266.3,330.2 1267.2,329.4 1268.1,328.6 1269.0,327.9 1269.9,327.3 1270.7,326.8 1271.6,326.5 1272.5,326.4 1273.4,326.4 1274.2,326.6 1275.1,326.8 1276.0,327.1" fill="none" stroke="#00ff00" stroke-width="6" stroke-linejoin="round" stroke-linecap="square" shape-rendering="crispEdges"/>
<path d="M223.0,783.9 223.9,783.8 224.8,783.7 225.6,783.5 226.5,783.2 227.4,782.6 228.3,782.0 229.1,781.1 230.0,780.1 230.9,779.1 231.8,777.9 232.7,776.8 233.5,775.7 234.4,774.8 235.3,773.9 236.2,773.2 237.0,772.7 237.9,772.4 238.8,772.2 239.7,772.1 240.6,772.0 241.4,772.0 242.3,771.9 243.2,771.7 244.1,771.3 244.9,770.8 245.8,770.1 246.7,769.3 247.6,768.3 248.4,767.3 249.3,766.1 250.2,765.0 251.1,763.9 252.0,763.0 252.8,762.1 253.7,761.4 254.6,760.9 255.5,760.6 256.3,760.4 257.2,760.3 258.1,760.2 259.0,760.2 259.9,760.1 260.7,759.9 261.6,759.5 262.5,759.0 263.4,758.4 264.2,757.5 265.1,756.6 266.0,755.5 266.9,754.4 267.8,753.2 268.6,752.2 269.5,751.2 270.4,750.4 271.3,749.7 272.1,749.2 273.0,748.9 273.9,748.7 274.8,748.6 275.6,748.5 276.5,748.5 277.4,748.4 278.3,748.2 279.2,747.8 280.0,747.3 280.9,746.7 281.8,745.8 282.7,744.9 283.5,743.8 284.4,742.7 285.3,741.6 286.2,740.5 287.1,739.5 287.9,738.7 288.8,738.0 289.7,737.5 290.6,737.2 291.4,737.0 292.3,736.9 293.2,736.8 294.1,736.8 295.0,736.7 295.8,736.5 296.7,736.2 297.6,735.7 298.5,735.0 299.3,734.2 300.2,733.2 301.1,732.2 302.0,731.0 302.9,729.9 303.7,728.9 304.6,727.9 305.5,727.1 306.4,726.4 307.2,725.9 308.1,725.6 309.0,725.4 309.9,725.3 310.8,725.2 311.6,725.2 312.5,725.1 313.4,724.9 314.3,724.6 315.1,724.1 316.0,723.4 316.9,722.6 317.8,721.6 318.6,720.6 319.5,719.5 320.4,718.3 321.3,717.3 322.2,716.3 323.0,715.5 323.9,714.8 324.8,714.3 325.7,714.0 326.5,713.8 327.4,713.7 328.3,713.7 329.2,713.6 330.1,713.6 330.9,713.4 331.8,713.0 332.7,712.5 333.6,711.9 334.4,711.1 335.3,710.1 336.2,709.0 337.1,707.9 338.0,706.8 338.8,705.8 339.7,704.8 340.6,704.0 341.5,703.3 342.3,702.8 343.2,702.5 344.1,702.3 345.0,702.2 345.9,702.2 346.7,702.2 347.6,702.1 348.5,701.9 349.4,701.6 350.2,701.1 351.1,700.4 352.0,699.6 352.9,698.6 353.7,697.6 354.6,696.5 355.5,695.4 356.4,694.3 357.3,693.3 358.1,692.5 359.0,691.9 359.9,691.4 360.8,691.1 361.6,690.9 362.5,690.8 363.4,690.8 364.3,690.7 365.2,690.6 366.0,690.4 366.9,690.1 367.8,689.6 368.7,689.0 369.5,688.2 370.4,687.2 371.3,686.2 372.2,685.1 373.1,683.9 373.9,682.9 374.8,681.9 375.7,681.1 376.6,680.5 377.4,680.0 378.3,679.7 379.2,679.5 380.1,679.4 381.0,679.4 381.8,679.3 382.7,679.3 383.6,679.1 384.5,678.8 385.3,678.3 386.2,677.6 387.1,676.8 388.0,675.9 388.8,674.8 389.7,673.7 390.6,672.6 391.5,671.5 392.4,670.6 393.2,669.8 394.1,669.1 395.0,668.7 395.9,668.3 396.7,668.2 397.6,668.1 398.5,668.0 399.4,668.0 400.3,667.9 401.1,667.8 402.0,667.4 402.9,667.0 403.8,666.3 404.6,665.5 405.5,664.6 406.4,663.5 407.3,662.4 408.2,661.3 409.0,660.3 409.9,659.3 410.8,658.5 411.7,657.9 412.5,657.4 413.4,657.1 414.3,656.9 415.2,656.8 416.1,656.8 416.9,656.8 417.8,656.7 418.7,656.5 419.6,656.2 420.4,655.7 421.3,655.1 422.2,654.3 423.1,653.3 423.9,652.3 424.8,651.2 425.7,650.1 426.6,649.0 427.5,648.1 428.3,647.3 429.2,646.6 430.1,646.2 431.0,645.8 431.8,645.7 432.7,645.6 433.6,645.6 434.5,645.5 435.4,645.5 436.2,645.3 437.1,645.0 438.0,644.5 438.9,643.9 439.7,643.1 440.6,642.1 441.5,641.1 442.4,640.0 443.3,638.9 444.1,637.8 445.0,636.9 445.9,636.1 446.8,635.5 447.6,635.0 448.5,634.7 449.4,634.5 450.3,634.4 451.1,634.4 452.0,634.4 452.9,634.3 453.8,634.2 454.7,633.8 455.5,633.4 456.4,632.7 457.3,631.9 458.2,631.0 459.0,629.9 459.9,628.9 460.8,627.8 461.7,626.7 462.6,625.8 463.4,625.0 464.3,624.3 465.2,623.9 466.1,623.6 466.9,623.4 467.8,623.3 468.7,623.3 469.6,623.3 470.5,623.2 471.3,623.1 472.2,622.8 473.1,622.3 474.0,621.6 474.8,620.8 475.7,619.9 476.6,618.9 477.5,617.8 478.4,616.7 479.2,615.7 480.1,614.7 481.0,613.9 481.9,613.3 482.7,612.8 483.6,612.5 484.5,612.4 485.4,612.3 486.2,612.3 487.1,612.3 488.0,612.2 488.9,612.0 489.8,611.7 490.6,611.3 491.5,610.6 492.4,609.8 493.3,608.9 494.1,607.9 495.0,606.8 495.9,605.7 496.8,604.6 497.7,603.7 498.5,602.9 499.4,602.3 500.3,601.8 501.2,601.5 502.0,601.4 502.9,601.3 503.8,601.3 504.7,601.3 505.6,601.2 506.4,601.0 507.3,600.7 508.2,600.3 509.1,599.7 509.9,598.9 510.8,597.9 511.7,596.9 512.6,595.8 513.5,594.7 514.3,593.7 515.2,592.8 516.1,592.0 517.0,591.3 517.8,590.9 518.7,590.6 519.6,590.4 520.5,590.4 521.4,590.4 522.2,590.3 523.1,590.3 524.0,590.1 524.9,589.8 525.7,589.4 526.6,588.7 527.5,587.9 528.4,587.0 529.2,586.0 530.1,584.9 531.0,583.8 531.9,582.8 532.8,581.9 533.6,581.1 534.5,580.4 535.4,580.0 536.3,579.7 537.1,579.5 538.0,579.5 538.9,579.5 539.8,579.5 540.7,579.4 541.5,579.2 542.4,579.0 543.3,578.5 544.2,577.9 545.0,577.1 545.9,576.2 546.8,575.1 547.7,574.0 548.6,573.0 549.4,571.9 550.3,571.0 551.2,570.2 552.1,569.6 552.9,569.2 553.8,568.9 554.7,568.7 555.6,568.6 556.5,568.6 557.3,568.6 558.2,568.6 559.1,568.4 560.0,568.1 560.8,567.7 561.7,567.1 562.6,566.3 563.5,565.4 564.3,564.3 565.2,563.3 566.1,562.2 567.0,561.2 567.9,560.2 568.7,559.4 569.6,558.8 570.5,558.4 571.4,558.1 572.2,557.9 573.1,557.9 574.0,557.9 574.9,557.9 575.8,557.8 576.6,557.7 577.5,557.4 578.4,556.9 579.3,556.3 580.1,555.5 581.0,554.6 581.9,553.6 582.8,552.5 583.7,551.4 584.5,550.4 585.4,549.5 586.3,548.7 587.2,548.1 588.0,547.6 588.9,547.4 589.8,547.2 590.7,547.2 591.5,547.2 592.4,547.2 593.3,547.1 594.2,547.0 595.1,546.7 595.9,546.2 596.8,545.6 597.7,544.8 598.6,543.9 599.4,542.9 600.3,541.8 601.2,540.7 602.1,539.7 603.0,538.8 603.8,538.0 604.7,537.4 605.6,537.0 606.5,536.7 607.3,536.5 608.2,536.5 609.1,536.5 610.0,536.5 610.9,536.5 611.7,536.3 612.6,536.0 613.5,535.6 614.4,535.0 615.2,534.2 616.1,533.3 617.0,532.2 617.9,531.2 618.8,530.1 619.6,529.1 620.5,528.2 621.4,527.4 622.3,526.8 623.1,526.3 624.0,526.1 624.9,525.9 625.8,525.9 626.7,525.9 627.5,525.9 628.4,525.8 629.3,525.7 630.2,525.4 631.0,525.0 631.9,524.4 632.8,523.6 633.7,522.7 634.5,521.7 635.4,520.6 636.3,519.5 637.2,518.5 638.1,517.6 638.9,516.8 639.8,516.2 640.7,515.8 641.6,515.5 642.4,515.4 643.3,515.3 644.2,515.3 645.1,515.3 646.0,515.3 646.8,515.2 647.7,514.9 648.6,514.4 649.5,513.8 650.3,513.0 651.2,512.1 652.1,511.1 653.0,510.1 653.9,509.0 654.7,508.0 655.6,507.1 656.5,506.3 657.4,505.7 658.2,505.3 659.1,505.0 660.0,504.8 660.9,504.8 661.8,504.8 662.6,504.8 663.5,504.8 664.4,504.7 665.3,504.4 666.1,503.9 667.0,503.3 667.9,502.6 668.8,501.7 669.6,500.6 670.5,499.6 671.4,498.5 672.3,497.5 673.2,496.6 674.0,495.8 674.9,495.2 675.8,494.8 676.7,494.5 677.5,494.4 678.4,494.4 679.3,494.4 680.2,494.4 681.1,494.3 681.9,494.2 682.8,493.9 683.7,493.5 684.6,492.9 685.4,492.1 686.3,491.2 687.2,490.2 688.1,489.2 689.0,488.1 689.8,487.1 690.7,486.2 691.6,485.4 692.5,484.8 693.3,484.4 694.2,484.1 695.1,484.0 696.0,483.9 696.9,484.0 697.7,484.0 698.6,484.0 699.5,483.8 700.4,483.5 701.2,483.1 702.1,482.5 703.0,481.7 703.9,480.8 704.7,479.8 705.6,478.8 706.5,477.7 707.4,476.7 708.3,475.8 709.1,475.1 710.0,474.5 710.9,474.0 711.8,473.8 712.6,473.6 713.5,473.6 714.4,473.6 715.3,473.6 716.2,473.6 717.0,473.5 717.9,473.2 718.8,472.8 719.7,472.2 720.5,471.4 721.4,470.5 722.3,469.5 723.2,468.5 724.1,467.4 724.9,466.4 725.8,465.5 726.7,464.7 727.6,464.2 728.4,463.7 729.3,463.5 730.2,463.3 731.1,463.3 732.0,463.3 732.8,463.3 733.7,463.3 734.6,463.2 735.5,462.9 736.3,462.5 737.2,461.9 738.1,461.1 739.0,460.2 739.8,459.2 740.7,458.2 741.6,457.1 742.5,456.1 743.4,455.2 744.2,454.5 745.1,453.9 746.0,453.5 746.9,453.2 747.7,453.1 748.6,453.0 749.5,453.1 750.4,453.1 751.3,453.1 752.1,452.9 753.0,452.7 753.9,452.3 754.8,451.7 755.6,450.9 756.5,450.0 757.4,449.0 758.3,448.0 759.2,446.9 760.0,445.9 760.9,445.0 761.8,444.3 762.7,443.7 763.5,443.3 764.4,443.0 765.3,442.9 766.2,442.9 767.1,442.9 767.9,442.9 768.8,442.9 769.7,442.8 770.6,442.5 771.4,442.1 772.3,441.5 773.2,440.7 774.1,439.8 774.9,438.8 775.8,437.8 776.7,436.8 777.6,435.8 778.5,434.9 779.3,434.1 780.2,433.5 781.1,433.1 782.0,432.8 782.8,432.7 783.7,432.7 784.6,432.7 785.5,432.8 786.4,432.7 787.2,432.6 788.1,432.4 789.0,431.9 789.9,431.4 790.7,430.6 791.6,429.7 792.5,428.7 793.4,427.7 794.3,426.6 795.1,425.7 796.0,424.8 796.9,424.0 797.8,423.4 798.6,423.0 799.5,422.7 800.4,422.6 801.3,422.6 802.1,422.6 803.0,422.7 803.9,422.7 804.8,422.5 805.7,422.3 806.5,421.9 807.4,421.3 808.3,420.5 809.2,419.6 810.0,418.7 810.9,417.6 811.8,416.6 812.7,415.6 813.6,414.7 814.4,414.0 815.3,413.4 816.2,413.0 817.1,412.7 817.9,412.6 818.8,412.6 819.7,412.6 820.6,412.6 821.5,412.6 822.3,412.5 823.2,412.3 824.1,411.8 825.0,411.3 825.8,410.5 826.7,409.6 827.6,408.6 828.5,407.6 829.4,406.6 830.2,405.6 831.1,404.7 832.0,403.9 832.9,403.4 833.7,403.0 834.6,402.7 835.5,402.6 836.4,402.6 837.2,402.6 838.1,402.6 839.0,402.6 839.9,402.5 840.8,402.3 841.6,401.9 842.5,401.3 843.4,400.5 844.3,399.6 845.1,398.7 846.0,397.6 846.9,396.6 847.8,395.6 848.7,394.7 849.5,394.0 850.4,393.4 851.3,393.0 852.2,392.7 853.0,392.6 853.9,392.6 854.8,392.7 855.7,392.7 856.6,392.7 857.4,392.6 858.3,392.3 859.2,391.9 860.1,391.3 860.9,390.6 861.8,389.7 862.7,388.7 863.6,387.7 864.5,386.7 865.3,385.7 866.2,384.8 867.1,384.1 868.0,383.5 868.8,383.1 869.7,382.8 870.6,382.7 871.5,382.7 872.4,382.8 873.2,382.8 874.1,382.8 875.0,382.7 875.9,382.5 876.7,382.0 877.6,381.5 878.5,380.7 879.4,379.9 880.2,378.9 881.1,377.8 882.0,376.8 882.9,375.8 883.8,375.0 884.6,374.2 885.5,373.6 886.4,373.2 887.3,373.0 888.1,372.9 889.0,372.9 889.9,372.9 890.8,373.0 891.7,373.0 892.5,372.9 893.4,372.6 894.3,372.2 895.2,371.6 896.0,370.9 896.9,370.0 897.8,369.1 898.7,368.0 899.6,367.0 900.4,366.0 901.3,365.2 902.2,364.4 903.1,363.8 903.9,363.4 904.8,363.2 905.7,363.1 906.6,363.1 907.5,363.1 908.3,363.2 909.2,363.2 910.1,363.1 911.0,362.8 911.8,362.4 912.7,361.9 913.6,361.1 914.5,360.3 915.3,359.3 916.2,358.3 917.1,357.2 918.0,356.3 918.9,355.4 919.7,354.7 920.6,354.1 921.5,353.7 922.4,353.4 923.2,353.3 924.1,353.3 925.0,353.4 925.9,353.4 926.8,353.4 927.6,353.3 928.5,353.1 929.4,352.7 930.3,352.1 931.1,351.4 932.0,350.5 932.9,349.6 933.8,348.5 934.7,347.5 935.5,346.5 936.4,345.7 937.3,344.9 938.2,344.4 939.0,344.0 939.9,343.7 940.8,343.6 941.7,343.6 942.6,343.7 943.4,343.7 944.3,343.7 945.2,343.6 946.1,343.4 946.9,343.0 947.8,342.4 948.7,341.7 949.6,340.8 950.4,339.9 951.3,338.9 952.2,337.8 953.1,336.9 954.0,336.0 954.8,335.3 955.7,334.7 956.6,334.3 957.5,334.1 958.3,334.0 959.2,334.0 960.1,334.0 961.0,334.1 961.9,334.1 962.7,334.0 963.6,333.8 964.5,333.4 965.4,332.8 966.2,332.1 967.1,331.2 968.0,330.3 968.9,329.2 969.8,328.2 970.6,327.3 971.5,326.4 972.4,325.7 973.3,325.1 974.1,324.7 975.0,324.5 975.9,324.4 976.8,324.4 977.6,324.4 978.5,324.5 979.4,324.5 980.3,324.4 981.2,324.2 982.0,323.8 982.9,323.2 983.8,322.5 984.7,321.6 985.5,320.7 986.4,319.7 987.3,318.6 988.2,317.7 989.1,316.8 989.9,316.1 990.8,315.5 991.7,315.1 992.6,314.9 993.4,314.8 994.3,314.8 995.2,314.9 996.1,315.0 997.0,315.0 997.8,314.9 998.7,314.6 999.6,314.2 1000.5,313.7 1001.3,313.0 1002.2,312.1 1003.1,311.1 1004.0,310.1 1004.9,309.1 1005.7,308.2 1006.6,307.3 1007.5,306.6 1008.4,306.0 1009.2,305.6 1010.1,305.4 1011.0,305.3 1011.9,305.3 1012.8,305.4 1013.6,305.5 1014.5,305.5 1015.4,305.4 1016.3,305.1 1017.1,304.8 1018.0,304.2 1018.9,303.5 1019.8,302.6 1020.6,301.7 1021.5,300.7 1022.4,299.6 1023.3,298.7 1024.2,297.8 1025.0,297.1 1025.9,296.6 1026.8,296.2 1027.7,295.9 1028.5,295.9 1029.4,295.9 1030.3,295.9 1031.2,296.0 1032.1,296.0 1032.9,295.9 1033.8,295.7 1034.7,295.3 1035.6,294.8 1036.4,294.0 1037.3,293.2 1038.2,292.2 1039.1,291.2 1040.0,290.2 1040.8,289.3 1041.7,288.4 1042.6,287.7 1043.5,287.1 1044.3,286.7 1045.2,286.5 1046.1,286.4 1047.0,286.5 1047.8,286.5 1048.7,286.6 1049.6,286.6 1050.5,286.5 1051.4,286.3 1052.2,285.9 1053.1,285.4 1054.0,284.6 1054.9,283.8 1055.7,282.8 1056.6,281.8 1057.5,280.8 1058.4,279.9 1059.3,279.0 1060.1,278.3 1061.0,277.8 1061.9,277.4 1062.8,277.2 1063.6,277.1 1064.5,277.1 1065.4,277.2 1066.3,277.2 1067.2,277.2 1068.0,277.2 1068.9,276.9 1069.8,276.6 1070.7,276.0 1071.5,275.3 1072.4,274.4 1073.3,273.5 1074.2,272.5 1075.1,271.5 1075.9,270.5 1076.8,269.7 1077.7,269.0 1078.6,268.4 1079.4,268.0 1080.3,267.8 1081.2,267.7 1082.1,267.8 1083.0,267.8 1083.8,267.9 1084.7,267.9 1085.6,267.9 1086.5,267.6 1087.3,267.3 1088.2,266.7 1089.1,266.0 1090.0,265.1 1090.8,264.2 1091.7,263.2 1092.6,262.2 1093.5,261.2 1094.4,260.4 1095.2,259.7 1096.1,259.1 1097.0,258.8 1097.9,258.6 1098.7,258.5 1099.6,258.5 1100.5,258.6 1101.4,258.6 1102.3,258.7 1103.1,258.6 1104.0,258.4 1104.9,258.0 1105.8,257.5 1106.6,256.7 1107.5,255.9 1108.4,254.9 1109.3,253.9 1110.2,253.0 1111.0,252.0 1111.9,251.2 1112.8,250.5 1113.7,249.9 1114.5,249.5 1115.4,249.3 1116.3,249.2 1117.2,249.3 1118.1,249.3 1118.9,249.4 1119.8,249.4 1120.7,249.4 1121.6,249.2 1122.4,248.8 1123.3,248.2 1124.2,247.5 1125.1,246.7 1125.9,245.7 1126.8,244.7 1127.7,243.8 1128.6,242.8 1129.5,242.0 1130.3,241.3 1131.2,240.7 1132.1,240.3 1133.0,240.1 1133.8,240.1 1134.7,240.1 1135.6,240.2 1136.5,240.2 1137.4,240.3 1138.2,240.2 1139.1,240.0 1140.0,239.6 1140.9,239.1 1141.7,238.4 1142.6,237.5 1143.5,236.6 1144.4,235.6 1145.3,234.6 1146.1,233.7 1147.0,232.8 1147.9,232.1 1148.8,231.6 1149.6,231.2 1150.5,231.0 1151.4,230.9 1152.3,231.0 1153.2,231.0 1154.0,231.1 1154.9,231.1 1155.8,231.1 1156.7,230.9 1157.5,230.5 1158.4,230.0 1159.3,229.3 1160.2,228.4 1161.0,227.5 1161.9,226.5 1162.8,225.5 1163.7,224.6 1164.6,223.7 1165.4,223.0 1166.3,222.5 1167.2,222.1 1168.1,221.9 1168.9,221.8 1169.8,221.9 1170.7,222.0 1171.6,222.0 1172.5,222.1 1173.3,222.0 1174.2,221.8 1175.1,221.4 1176.0,220.9 1176.8,220.2 1177.7,219.3 1178.6,218.4 1179.5,217.4 1180.4,216.4 1181.2,215.5 1182.1,214.7 1183.0,214.0 1183.9,213.4 1184.7,213.1 1185.6,212.9 1186.5,212.8 1187.4,212.8 1188.2,212.9 1189.1,213.0 1190.0,213.0 1190.9,213.0 1191.8,212.8 1192.6,212.4 1193.5,211.9 1194.4,211.2 1195.3,210.3 1196.1,209.4 1197.0,208.4 1197.9,207.4 1198.8,206.5 1199.7,205.6 1200.5,205.0 1201.4,204.4 1202.3,204.1 1203.2,203.9 1204.0,203.8 1204.9,203.8 1205.8,203.9 1206.7,204.0 1207.6,204.0 1208.4,204.0 1209.3,203.8 1210.2,203.4 1211.1,202.9 1211.9,202.2 1212.8,201.3 1213.7,200.4 1214.6,199.4 1215.5,198.4 1216.3,197.5 1217.2,196.7 1218.1,196.0 1219.0,195.5 1219.8,195.1 1220.7,194.9 1221.6,194.8 1222.5,194.9 1223.3,195.0 1224.2,195.1 1225.1,195.1 1226.0,195.0 1226.9,194.8 1227.7,194.5 1228.6,193.9 1229.5,193.2 1230.4,192.4 1231.2,191.5 1232.1,190.5 1233.0,189.5 1233.9,188.6 1234.8,187.8 1235.6,187.1 1236.5,186.5 1237.4,186.2 1238.3,186.0 1239.1,185.9 1240.0,186.0 1240.9,186.1 1241.8,186.1 1242.7,186.2 1243.5,186.1 1244.4,185.9 1245.3,185.6 1246.2,185.0 1247.0,184.4 1247.9,183.5 1248.8,182.6 1249.7,181.6 1250.6,180.6 1251.4,179.7 1252.3,178.9 1253.2,178.2 1254.1,177.7 1254.9,177.3 1255.8,177.1 1256.7,177.1 1257.6,177.1 1258.5,177.2 1259.3,177.3 1260.2,177.3 1261.1,177.3 1262.0,177.1 1262.8,176.7 1263.7,176.2 1264.6,175.5 1265.5,174.7 1266.3,173.8 1267.2,172.8 1268.1,171.8 1269.0,170.9 1269.9,170.0 1270.7,169.4 1271.6,168.8 1272.5,168.5 1273.4,168.3 1274.2,168.2 1275.1,168.3 1276.0,168.4" fill="none" stroke="#0000ff" stroke-width="4.4" stroke-linejoin="round"/>
<path d="M223.0,783.9 223.9,783.8 224.8,783.7 225.6,783.5 226.5,783.2 227.4,782.6 228.3,782.0 229.1,781.1 230.0,780.1 230.9,779.1 231.8,777.9 232.7,776.8 233.5,775.7 234.4,774.8 235.3,773.9 236.2,773.2 237.0,772.7 237.9,772.4 238.8,772.2 239.7,772.1 240.6,772.0 241.4,772.0 242.3,771.9 243.2,771.7 244.1,771.3 244.9,770.8 245.8,770.1 246.7,769.3 247.6,768.3 248.4,767.3 249.3,766.1 250.2,765.0 251.1,763.9 252.0,763.0 252.8,762.1 253.7,761.4 254.6,760.9 255.5,760.6 256.3,760.4 257.2,760.3 258.1,760.2 259.0,760.2 259.9,760.1 260.7,759.9 261.6,759.5 262.5,759.0 263.4,758.4 264.2,757.5 265.1,756.6 266.0,755.5 266.9,754.4 267.8,753.2 268.6,752.2 269.5,751.2 270.4,750.4 271.3,749.7 272.1,749.2 273.0,748.9 273.9,748.7 274.8,748.6 275.6,748.5 276.5,748.5 277.4,748.4 278.3,748.2 279.2,747.8 280.0,747.3 280.9,746.7 281.8,745.8 282.7,744.9 283.5,743.8 284.4,742.7 285.3,741.6 286.2,740.5 287.1,739.5 287.9,738.7 288.8,738.0 289.7,737.5 290.6,737.2 291.4,737.0 292.3,736.9 293.2,736.8 294.1,736.8 295.0,736.7 295.8,736.5 296.7,736.2 297.6,735.7 298.5,735.0 299.3,734.2 300.2,733.2 301.1,732.2 302.0,731.0 302.9,729.9 303.7,728.9 304.6,727.9 305.5,727.1 306.4,726.4 307.2,725.9 308.1,725.6 309.0,725.4 309.9,725.3 310.8,725.2 311.6,725.2 312.5,725.1 313.4,724.9 314.3,724.6 315.1,724.1 316.0,723.4 316.9,722.6 317.8,721.6 318.6,720.6 319.5,719.5 320.4,718.3 321.3,717.3 322.2,716.3 323.0,715.5 323.9,714.8 324.8,714.3 325.7,714.0 326.5,713.8 327.4,713.7 328.3,713.7 329.2,713.6 330.1,713.6 330.9,713.4 331.8,713.0 332.7,712.5 333.6,711.9 334.4,711.1 335.3,710.1 336.2,709.0 337.1,707.9 338.0,706.8 338.8,705.8 339.7,704.8 340.6,704.0 341.5,703.3 342.3,702.8 343.2,702.5 344.1,702.3 345.0,702.2 345.9,702.2 346.7,702.2 347.6,702.1 348.5,701.9 349.4,701.6 350.2,701.1 351.1,700.4 352.0,699.6 352.9,698.6 353.7,697.6 354.6,696.5 355.5,695.4 356.4,694.3 357.3,693.3 358.1,692.5 359.0,691.9 359.9,691.4 360.8,691.1 361.6,690.9 362.5,690.8 363.4,690.8 364.3,690.7 365.2,690.6 366.0,690.4 366.9,690.1 367.8,689.6 368.7,689.0 369.5,688.2 370.4,687.2 371.3,686.2 372.2,685.1 373.1,683.9 373.9,682.9 374.8,681.9 375.7,681.1 376.6,680.5 377.4,680.0 378.3,679.7 379.2,679.5 380.1,679.4 381.0,679.4 381.8,679.3 382.7,679.3 383.6,679.1 384.5,678.8 385.3,678.3 386.2,677.6 387.1,676.8 388.0,675.9 388.8,674.8 389.7,673.7 390.6,672.6 391.5,671.5 392.4,670.6 393.2,669.8 394.1,669.1 395.0,668.7 395.9,668.3 396.7,668.2 397.6,668.1 398.5,668.0 399.4,668.0 400.3,667.9 401.1,667.8 402.0,667.4 402.9,667.0 403.8,666.3 404.6,665.5 405.5,664.6 406.4,663.5 407.3,662.4 408.2,661.3 409.0,660.3 409.9,659.3 410.8,658.5 411.7,657.9 412.5,657.4 413.4,657.1 414.3,656.9 415.2,656.8 416.1,656.8 416.9,656.8 417.8,656.7 418.7,656.5 419.6,656.2 420.4,655.7 421.3,655.1 422.2,654.3 423.1,653.3 423.9,652.3 424.8,651.2 425.7,650.1 426.6,649.0 427.5,648.1 428.3,647.3 429.2,646.6 430.1,646.2 431.0,645.8 431.8,645.7 432.7,645.6 433.6,645.6 434.5,645.5 435.4,645.5 436.2,645.3 437.1,645.0 438.0,644.5 438.9,643.9 439.7,643.1 440.6,642.1 441.5,641.1 442.4,640.0 443.3,638.9 444.1,637.8 445.0,636.9 445.9,636.1 446.8,635.5 447.6,635.0 448.5,634.7 449.4,634.5 450.3,634.4 451.1,634.4 452.0,634.4 452.9,634.3 453.8,634.2 454.7,633.8 455.5,633.4 456.4,632.7 457.3,631.9 458.2,631.0 459.0,629.9 459.9,628.9 460.8,627.8 461.7,626.7 462.6,625.8 463.4,625.0 464.3,624.3 465.2,623.9 466.1,623.6 466.9,623.4 467.8,623.3 468.7,623.3 469.6,623.3 470.5,623.2 471.3,623.1 472.2,622.8 473.1,622.3 474.0,621.6 474.8,620.8 475.7,619.9 476.6,618.9 477.5,617.8 478.4,616.7 479.2,615.7 480.1,614.7 481.0,613.9 481.9,613.3 482.7,612.8 483.6,612.5 484.5,612.4 485.4,612.3 486.2,612.3 487.1,612.3 488.0,612.2 488.9,612.0 489.8,611.7 490.6,611.3 491.5,610.6 492.4,609.8 493.3,608.9 494.1,607.9 495.0,606.8 495.9,605.7 496.8,604.6 497.7,603.7 498.5,602.9 499.4,602.3 500.3,601.8 501.2,601.5 502.0,601.4 502.9,601.3 503.8,601.3 504.7,601.3 505.6,601.2 506.4,601.0 507.3,600.7 508.2,600.3 509.1,599.7 509.9,598.9 510.8,597.9 511.7,596.9 512.6,595.8 513.5,594.7 514.3,593.7 515.2,592.8 516.1,592.0 517.0,591.3 517.8,590.9 518.7,590.6 519.6,590.4 520.5,590.4 521.4,590.4 522.2,590.3 523.1,590.3 524.0,590.1 524.9,589.8 525.7,589.4 526.6,588.7 527.5,587.9 528.4,587.0 529.2,586.0 530.1,584.9 531.0,583.8 531.9,582.8 532.8,581.9 533.6,581.1 534.5,580.4 535.4,580.0 536.3,579.7 537.1,579.5 538.0,579.5 538.9,579.5 539.8,579.5 540.7,579.4 541.5,579.2 542.4,579.0 543.3,578.5 544.2,577.9 545.0,577.1 545.9,576.2 546.8,575.1 547.7,574.0 548.6,573.0 549.4,571.9 550.3,571.0 551.2,570.2 552.1,569.6 552.9,569.2 553.8,568.9 554.7,568.7 555.6,568.6 556.5,568.6 557.3,568.6 558.2,568.6 559.1,568.4 560.0,568.1 560.8,567.7 561.7,567.1 562.6,566.3 563.5,565.4 564.3,564.3 565.2,563.3 566.1,562.2 567.0,561.2 567.9,560.2 568.7,559.4 569.6,558.8 570.5,558.4 571.4,558.1 572.2,557.9 573.1,557.9 574.0,557.9 574.9,557.9 575.8,557.8 576.6,557.7 577.5,557.4 578.4,556.9 579.3,556.3 580.1,555.5 581.0,554.6 581.9,553.6 582.8,552.5 583.7,551.4 584.5,550.4 585.4,549.5 586.3,548.7 587.2,548.1 588.0,547.6 588.9,547.4 589.8,547.2 590.7,547.2 591.5,547.2 592.4,547.2 593.3,547.1 594.2,547.0 595.1,546.7 595.9,546.2 596.8,545.6 597.7,544.8 598.6,543.9 599.4,542.9 600.3,541.8 601.2,540.7 602.1,539.7 603.0,538.8 603.8,538.0 604.7,537.4 605.6,537.0 606.5,536.7 607.3,536.5 608.2,536.5 609.1,536.5 610.0,536.5 610.9,536.5 611.7,536.3 612.6,536.0 613.5,535.6 614.4,535.0 615.2,534.2 616.1,533.3 617.0,532.2 617.9,531.2 618.8,530.1 619.6,529.1 620.5,528.2 621.4,527.4 622.3,526.8 623.1,526.3 624.0,526.1 624.9,525.9 625.8,525.9 626.7,525.9 627.5,525.9 628.4,525.8 629.3,525.7 630.2,525.4 631.0,525.0 631.9,524.4 632.8,523.6 633.7,522.7 634.5,521.7 635.4,520.6 636.3,519.5 637.2,518.5 638.1,517.6 638.9,516.8 639.8,516.2 640.7,515.8 641.6,515.5 642.4,515.4 643.3,515.3 644.2,515.3 645.1,515.3 646.0,515.3 646.8,515.2 647.7,514.9 648.6,514.4 649.5,513.8 650.3,513.0 651.2,512.1 652.1,511.1 653.0,510.1 653.9,509.0 654.7,508.0 655.6,507.1 656.5,506.3 657.4,505.7 658.2,505.3 659.1,505.0 660.0,504.8 660.9,504.8 661.8,504.8 662.6,504.8 663.5,504.8 664.4,504.7 665.3,504.4 666.1,503.9 667.0,503.3 667.9,502.6 668.8,501.7 669.6,500.6 670.5,499.6 671.4,498.5 672.3,497.5 673.2,496.6 674.0,495.8 674.9,495.2 675.8,494.8 676.7,494.5 677.5,494.4 678.4,494.4 679.3,494.4 680.2,494.4 681.1,494.3 681.9,494.2 682.8,493.9 683.7,493.5 684.6,492.9 685.4,492.1 686.3,491.2 687.2,490.2 688.1,489.2 689.0,488.1 689.8,487.1 690.7,486.2 691.6,485.4 692.5,484.8 693.3,484.4 694.2,484.1 695.1,484.0 696.0,483.9 696.9,484.0 697.7,484.0 698.6,484.0 699.5,483.8 700.4,483.5 701.2,483.1 702.1,482.5 703.0,481.7 703.9,480.8 704.7,479.8 705.6,478.8 706.5,477.7 707.4,476.7 708.3,475.8 709.1,475.1 710.0,474.5 710.9,474.0 711.8,473.8 712.6,473.6 713.5,473.6 714.4,473.6 715.3,473.6 716.2,473.6 717.0,473.5 717.9,473.2 718.8,472.8 719.7,472.2 720.5,471.4 721.4,470.5 722.3,469.5 723.2,468.5 724.1,467.4 724.9,466.4 725.8,465.5 726.7,464.7 727.6,464.2 728.4,463.7 729.3,463.5 730.2,463.3 731.1,463.3 732.0,463.3 732.8,463.3 733.7,463.3 734.6,463.2 735.5,462.9 736.3,462.5 737.2,461.9 738.1,461.1 739.0,460.2 739.8,459.2 740.7,458.2 741.6,457.1 742.5,456.1 743.4,455.2 744.2,454.5 745.1,453.9 746.0,453.5 746.9,453.2 747.7,453.1 748.6,453.0 749.5,453.1 750.4,453.1 751.3,453.1 752.1,452.9 753.0,452.7 753.9,452.3 754.8,451.7 755.6,450.9 756.5,450.0 757.4,449.0 758.3,448.0 759.2,446.9 760.0,445.9 760.9,445.0 761.8,444.3 762.7,443.7 763.5,443.3 764.4,443.0 765.3,442.9 766.2,442.9 767.1,442.9 767.9,442.9 768.8,442.9 769.7,442.8 770.6,442.5 771.4,442.1 772.3,441.5 773.2,440.7 774.1,439.8 774.9,438.8 775.8,437.8 776.7,436.8 777.6,435.8 778.5,434.9 779.3,434.1 780.2,433.5 781.1,433.1 782.0,432.8 782.8,432.7 783.7,432.7 784.6,432.7 785.5,432.8 786.4,432.7 787.2,432.6 788.1,432.4 789.0,431.9 789.9,431.4 790.7,430.6 791.6,429.7 792.5,428.7 793.4,427.7 794.3,426.6 795.1,425.7 796.0,424.8 796.9,424.0 797.8,423.4 798.6,423.0 799.5,422.7 800.4,422.6 801.3,422.6 802.1,422.6 803.0,422.7 803.9,422.7 804.8,422.5 805.7,422.3 806.5,421.9 807.4,421.3 808.3,420.5 809.2,419.6 810.0,418.7 810.9,417.6 811.8,416.6 812.7,415.6 813.6,414.7 814.4,414.0 815.3,413.4 816.2,413.0 817.1,412.7 817.9,412.6 818.8,412.6 819.7,412.6 820.6,412.6 821.5,412.6 822.3,412.5 823.2,412.3 824.1,411.8 825.0,411.3 825.8,410.5 826.7,409.6 827.6,408.6 828.5,407.6 829.4,406.6 830.2,405.6 831.1,404.7 832.0,403.9 832.9,403.4 833.7,403.0 834.6,402.7 835.5,402.6 836.4,402.6 837.2,402.6 838.1,402.6 839.0,402.6 839.9,402.5 840.8,402.3 841.6,401.9 842.5,401.3 843.4,400.5 844.3,399.6 845.1,398.7 846.0,397.6 846.9,396.6 847.8,395.6 848.7,394.7 849.5,394.0 850.4,393.4 851.3,393.0 852.2,392.7 853.0,392.6 853.9,392.6 854.8,392.7 855.7,392.7 856.6,392.7 857.4,392.6 858.3,392.3 859.2,391.9 860.1,391.3 860.9,390.6 861.8,389.7 862.7,388.7 863.6,387.7 864.5,386.7 865.3,385.7 866.2,384.8 867.1,384.1 868.0,383.5 868.8,383.1 869.7,382.8 870.6,382.7 871.5,382.7 872.4,382.8 873.2,382.8 874.1,382.8 875.0,382.7 875.9,382.5 876.7,382.0 877.6,381.5 878.5,380.7 879.4,379.9 880.2,378.9 881.1,377.8 882.0,376.8 882.9,375.8 883.8,375.0 884.6,374.2 885.5,373.6 886.4,373.2 887.3,373.0 888.1,372.9 889.0,372.9 889.9,372.9 890.8,373.0 891.7,373.0 892.5,372.9 893.4,372.6 894.3,372.2 895.2,371.6 896.0,370.9 896.9,370.0 897.8,369.1 898.7,368.0 899.6,367.0 900.4,366.0 901.3,365.2 902.2,364.4 903.1,363.8 903.9,363.4 904.8,363.2 905.7,363.1 906.6,363.1 907.5,363.1 908.3,363.2 909.2,363.2 910.1,363.1 911.0,362.8 911.8,362.4 912.7,361.9 913.6,361.1 914.5,360.3 915.3,359.3 916.2,358.3 917.1,357.2 918.0,356.3 918.9,355.4 919.7,354.7 920.6,354.1 921.5,353.7 922.4,353.4 923.2,353.3 924.1,353.3 925.0,353.4 925.9,353.4 926.8,353.4 927.6,353.3 928.5,353.1 929.4,352.7 930.3,352.1 931.1,351.4 932.0,350.5 932.9,349.6 933.8,348.5 934.7,347.5 935.5,346.5 936.4,345.7 937.3,344.9 938.2,344.4 939.0,344.0 939.9,343.7 940.8,343.6 941.7,343.6 942.6,343.7 943.4,343.7 944.3,343.7 945.2,343.6 946.1,343.4 946.9,343.0 947.8,342.4 948.7,341.7 949.6,340.8 950.4,339.9 951.3,338.9 952.2,337.8 953.1,336.9 954.0,336.0 954.8,335.3 955.7,334.7 956.6,334.3 957.5,334.1 958.3,334.0 959.2,334.0 960.1,334.0 961.0,334.1 961.9,334.1 962.7,334.0 963.6,333.8 964.5,333.4 965.4,332.8 966.2,332.1 967.1,331.2 968.0,330.3 968.9,329.2 969.8,328.2 970.6,327.3 971.5,326.4 972.4,325.7 973.3,325.1 974.1,324.7 975.0,324.5 975.9,324.4 976.8,324.4 977.6,324.4 978.5,324.5 979.4,324.5 980.3,324.4 981.2,324.2 982.0,323.8 982.9,323.2 983.8,322.5 984.7,321.6 985.5,320.7 986.4,319.7 987.3,318.6 988.2,317.7 989.1,316.8 989.9,316.1 990.8,315.5 991.7,315.1 992.6,314.9 993.4,314.8 994.3,314.8 995.2,314.9 996.1,315.0 997.0,315.0 997.8,314.9 998.7,314.6 999.6,314.2 1000.5,313.7 1001.3,313.0 1002.2,312.1 1003.1,311.1 1004.0,310.1 1004.9,309.1 1005.7,308.2 1006.6,307.3 1007.5,306.6 1008.4,306.0 1009.2,305.6 1010.1,305.4 1011.0,305.3 1011.9,305.3 1012.8,305.4 1013.6,305.5 1014.5,305.5 1015.4,305.4 1016.3,305.1 1017.1,304.8 1018.0,304.2 1018.9,303.5 1019.8,302.6 1020.6,301.7 1021.5,300.7 1022.4,299.6 1023.3,298.7 1024.2,297.8 1025.0,297.1 1025.9,296.6 1026.8,296.2 1027.7,295.9 1028.5,295.9 1029.4,295.9 1030.3,295.9 1031.2,296.0 1032.1,296.0 1032.9,295.9 1033.8,295.7 1034.7,295.3 1035.6,294.8 1036.4,294.0 1037.3,293.2 1038.2,292.2 1039.1,291.2 1040.0,290.2 1040.8,289.3 1041.7,288.4 1042.6,287.7 1043.5,287.1 1044.3,286.7 1045.2,286.5 1046.1,286.4 1047.0,286.5 1047.8,286.5 1048.7,286.6 1049.6,286.6 1050.5,286.5 1051.4,286.3 1052.2,285.9 1053.1,285.4 1054.0,284.6 1054.9,283.8 1055.7,282.8 1056.6,281.8 1057.5,280.8 1058.4,279.9 1059.3,279.0 1060.1,278.3 1061.0,277.8 1061.9,277.4 1062.8,277.2 1063.6,277.1 1064.5,277.1 1065.4,277.2 1066.3,277.2 1067.2,277.2 1068.0,277.2 1068.9,276.9 1069.8,276.6 1070.7,276.0 1071.5,275.3 1072.4,274.4 1073.3,273.5 1074.2,272.5 1075.1,271.5 1075.9,270.5 1076.8,269.7 1077.7,269.0 1078.6,268.4 1079.4,268.0 1080.3,267.8 1081.2,267.7 1082.1,267.8 1083.0,267.8 1083.8,267.9 1084.7,267.9 1085.6,267.9 1086.5,267.6 1087.3,267.3 1088.2,266.7 1089.1,266.0 1090.0,265.1 1090.8,264.2 1091.7,263.2 1092.6,262.2 1093.5,261.2 1094.4,260.4 1095.2,259.7 1096.1,259.1 1097.0,258.8 1097.9,258.6 1098.7,258.5 1099.6,258.5 1100.5,258.6 1101.4,258.6 1102.3,258.7 1103.1,258.6 1104.0,258.4 1104.9,258.0 1105.8,257.5 1106.6,256.7 1107.5,255.9 1108.4,254.9 1109.3,253.9 1110.2,253.0 1111.0,252.0 1111.9,251.2 1112.8,250.5 1113.7,249.9 1114.5,249.5 1115.4,249.3 1116.3,249.2 1117.2,249.3 1118.1,249.3 1118.9,249.4 1119.8,249.4 1120.7,249.4 1121.6,249.2 1122.4,248.8 1123.3,248.2 1124.2,247.5 1125.1,246.7 1125.9,245.7 1126.8,244.7 1127.7,243.8 1128.6,242.8 1129.5,242.0 1130.3,241.3 1131.2,240.7 1132.1,240.3 1133.0,240.1 1133.8,240.1 1134.7,240.1 1135.6,240.2 1136.5,240.2 1137.4,240.3 1138.2,240.2 1139.1,240.0 1140.0,239.6 1140.9,239.1 1141.7,238.4 1142.6,237.5 1143.5,236.6 1144.4,235.6 1145.3,234.6 1146.1,233.7 1147.0,232.8 1147.9,232.1 1148.8,231.6 1149.6,231.2 1150.5,231.0 1151.4,230.9 1152.3,231.0 1153.2,231.0 1154.0,231.1 1154.9,231.1 1155.8,231.1 1156.7,230.9 1157.5,230.5 1158.4,230.0 1159.3,229.3 1160.2,228.4 1161.0,227.5 1161.9,226.5 1162.8,225.5 1163.7,224.6 1164.6,223.7 1165.4,223.0 1166.3,222.5 1167.2,222.1 1168.1,221.9 1168.9,221.8 1169.8,221.9 1170.7,222.0 1171.6,222.0 1172.5,222.1 1173.3,222.0 1174.2,221.8 1175.1,221.4 1176.0,220.9 1176.8,220.2 1177.7,219.3 1178.6,218.4 1179.5,217.4 1180.4,216.4 1181.2,215.5 1182.1,214.7 1183.0,214.0 1183.9,213.4 1184.7,213.1 1185.6,212.9 1186.5,212.8 1187.4,212.8 1188.2,212.9 1189.1,213.0 1190.0,213.0 1190.9,213.0 1191.8,212.8 1192.6,212.4 1193.5,211.9 1194.4,211.2 1195.3,210.3 1196.1,209.4 1197.0,208.4 1197.9,207.4 1198.8,206.5 1199.7,205.6 1200.5,205.0 1201.4,204.4 1202.3,204.1 1203.2,203.9 1204.0,203.8 1204.9,203.8 1205.8,203.9 1206.7,204.0 1207.6,204.0 1208.4,204.0 1209.3,203.8 1210.2,203.4 1211.1,202.9 1211.9,202.2 1212.8,201.3 1213.7,200.4 1214.6,199.4 1215.5,198.4 1216.3,197.5 1217.2,196.7 1218.1,196.0 1219.0,195.5 1219.8,195.1 1220.7,194.9 1221.6,194.8 1222.5,194.9 1223.3,195.0 1224.2,195.1 1225.1,195.1 1226.0,195.0 1226.9,194.8 1227.7,194.5 1228.6,193.9 1229.5,193.2 1230.4,192.4 1231.2,191.5 1232.1,190.5 1233.0,189.5 1233.9,188.6 1234.8,187.8 1235.6,187.1 1236.5,186.5 1237.4,186.2 1238.3,186.0 1239.1,185.9 1240.0,186.0 1240.9,186.1 1241.8,186.1 1242.7,186.2 1243.5,186.1 1244.4,185.9 1245.3,185.6 1246.2,185.0 1247.0,184.4 1247.9,183.5 1248.8,182.6 1249.7,181.6 1250.6,180.6 1251.4,179.7 1252.3,178.9 1253.2,178.2 1254.1,177.7 1254.9,177.3 1255.8,177.1 1256.7,177.1 1257.6,177.1 1258.5,177.2 1259.3,177.3 1260.2,177.3 1261.1,177.3 1262.0,177.1 1262.8,176.7 1263.7,176.2 1264.6,175.5 1265.5,174.7 1266.3,173.8 1267.2,172.8 1268.1,171.8 1269.0,170.9 1269.9,170.0 1270.7,169.4 1271.6,168.8 1272.5,168.5 1273.4,168.3 1274.2,168.2 1275.1,168.3 1276.0,168.4" fill="none" stroke="#0000ff" stroke-width="6" stroke-linejoin="round" stroke-linecap="square" shape-rendering="crispEdges"/>
<path d="M223.00,818.0v-11M223.00,134.0v11M258.10,818.0v-7M258.10,134.0v7M293.20,818.0v-7M293.20,134.0v7M328.30,818.0v-7M328.30,134.0v7M363.40,818.0v-7M363.40,134.0v7M398.50,818.0v-11M398.50,134.0v11M433.60,818.0v-7M433.60,134.0v7M468.70,818.0v-7M468.70,134.0v7M503.80,818.0v-7M503.80,134.0v7M538.90,818.0v-7M538.90,134.0v7M574.00,818.0v-11M574.00,134.0v11M609.10,818.0v-7M609.10,134.0v7M644.20,818.0v-7M644.20,134.0v7M679.30,818.0v-7M679.30,134.0v7M714.40,818.0v-7M714.40,134.0v7M749.50,818.0v-11M749.50,134.0v11M784.60,818.0v-7M784.60,134.0v7M819.70,818.0v-7M819.70,134.0v7M854.80,818.0v-7M854.80,134.0v7M889.90,818.0v-7M889.90,134.0v7M925.00,818.0v-11M925.00,134.0v11M960.10,818.0v-7M960.10,134.0v7M995.20,818.0v-7M995.20,134.0v7M1030.30,818.0v-7M1030.30,134.0v7M1065.40,818.0v-7M1065.40,134.0v7M1100.50,818.0v-11M1100.50,134.0v11M1135.60,818.0v-7M1135.60,134.0v7M1170.70,818.0v-7M1170.70,134.0v7M1205.80,818.0v-7M1205.80,134.0v7M1240.90,818.0v-7M1240.90,134.0v7M1276.00,818.0v-11M1276.00,134.0v11M201.0,799.00h11M1298.0,799.00h-11M201.0,778.83h7M1298.0,778.83h-7M201.0,758.67h7M1298.0,758.67h-7M201.0,738.50h7M1298.0,738.50h-7M201.0,718.34h7M1298.0,718.34h-7M201.0,698.17h11M1298.0,698.17h-11M201.0,678.00h7M1298.0,678.00h-7M201.0,657.84h7M1298.0,657.84h-7M201.0,637.67h7M1298.0,637.67h-7M201.0,617.51h7M1298.0,617.51h-7M201.0,597.34h11M1298.0,597.34h-11M201.0,577.17h7M1298.0,577.17h-7M201.0,557.01h7M1298.0,557.01h-7M201.0,536.84h7M1298.0,536.84h-7M201.0,516.68h7M1298.0,516.68h-7M201.0,496.51h11M1298.0,496.51h-11M201.0,476.34h7M1298.0,476.34h-7M201.0,456.18h7M1298.0,456.18h-7M201.0,436.01h7M1298.0,436.01h-7M201.0,415.85h7M1298.0,415.85h-7M201.0,395.68h11M1298.0,395.68h-11M201.0,375.51h7M1298.0,375.51h-7M201.0,355.35h7M1298.0,355.35h-7M201.0,335.18h7M1298.0,335.18h-7M201.0,315.02h7M1298.0,315.02h-7M201.0,294.85h11M1298.0,294.85h-11M201.0,274.68h7M1298.0,274.68h-7M201.0,254.52h7M1298.0,254.52h-7M201.0,234.35h7M1298.0,234.35h-7M201.0,214.19h7M1298.0,214.19h-7M201.0,194.02h11M1298.0,194.02h-11M201.0,173.85h7M1298.0,173.85h-7M201.0,153.69h7M1298.0,153.69h-7" stroke="#666666" stroke-width="2" fill="none" shape-rendering="crispEdges"/>
<rect x="201.0" y="134.0" width="1097.0" height="684.0" fill="none" stroke="#666666" stroke-width="2" shape-rendering="crispEdges"/>
<rect x="258.1" y="220" width="62.9" height="6" fill="#ff0000"/>
<rect x="258.1" y="288" width="62.9" height="6" fill="#ff8000"/>
<rect x="258.1" y="356" width="62.9" height="6" fill="#000000"/>
<rect x="258.1" y="424" width="62.9" height="6" fill="#00ff00"/>
<rect x="258.1" y="492" width="62.9" height="6" fill="#0000ff"/>
<path d="M195.45,1758.4H1289.5" stroke="#808080" stroke-width="4.8" stroke-dasharray="12.6 3.17" stroke-dashoffset="1.15"/>
<path d="M217.30,1852.3v-6.5M217.30,1169.0v6.5M261.05,1852.3v-6.5M261.05,1169.0v6.5M304.80,1852.3v-10.5M304.80,1169.0v10.5M348.55,1852.3v-6.5M348.55,1169.0v6.5M392.30,1852.3v-6.5M392.30,1169.0v6.5M436.05,1852.3v-6.5M436.05,1169.0v6.5M479.80,1852.3v-6.5M479.80,1169.0v6.5M523.55,1852.3v-10.5M523.55,1169.0v10.5M567.30,1852.3v-6.5M567.30,1169.0v6.5M611.05,1852.3v-6.5M611.05,1169.0v6.5M654.80,1852.3v-6.5M654.80,1169.0v6.5M698.55,1852.3v-6.5M698.55,1169.0v6.5M742.30,1852.3v-10.5M742.30,1169.0v10.5M786.05,1852.3v-6.5M786.05,1169.0v6.5M829.80,1852.3v-6.5M829.80,1169.0v6.5M873.55,1852.3v-6.5M873.55,1169.0v6.5M917.30,1852.3v-6.5M917.30,1169.0v6.5M961.05,1852.3v-10.5M961.05,1169.0v10.5M1004.80,1852.3v-6.5M1004.80,1169.0v6.5M1048.55,1852.3v-6.5M1048.55,1169.0v6.5M1092.30,1852.3v-6.5M1092.30,1169.0v6.5M1136.05,1852.3v-6.5M1136.05,1169.0v6.5M1179.80,1852.3v-10.5M1179.80,1169.0v10.5M1223.55,1852.3v-6.5M1223.55,1169.0v6.5M1267.30,1852.3v-6.5M1267.30,1169.0v6.5M195.45,1821.82h6.5M1289.5,1821.82h-6.5M195.45,1790.71h6.5M1289.5,1790.71h-6.5M195.45,1759.60h10.5M1289.5,1759.60h-10.5M195.45,1728.49h6.5M1289.5,1728.49h-6.5M195.45,1697.38h6.5M1289.5,1697.38h-6.5M195.45,1666.27h6.5M1289.5,1666.27h-6.5M195.45,1635.16h6.5M1289.5,1635.16h-6.5M195.45,1604.05h10.5M1289.5,1604.05h-10.5M195.45,1572.94h6.5M1289.5,1572.94h-6.5M195.45,1541.83h6.5M1289.5,1541.83h-6.5M195.45,1510.72h6.5M1289.5,1510.72h-6.5M195.45,1479.61h6.5M1289.5,1479.61h-6.5M195.45,1448.50h10.5M1289.5,1448.50h-10.5M195.45,1417.39h6.5M1289.5,1417.39h-6.5M195.45,1386.28h6.5M1289.5,1386.28h-6.5M195.45,1355.17h6.5M1289.5,1355.17h-6.5M195.45,1324.06h6.5M1289.5,1324.06h-6.5M195.45,1292.95h10.5M1289.5,1292.95h-10.5M195.45,1261.84h6.5M1289.5,1261.84h-6.5M195.45,1230.73h6.5M1289.5,1230.73h-6.5M195.45,1199.62h6.5M1289.5,1199.62h-6.5" stroke="#666666" stroke-width="2.8" fill="none" shape-rendering="crispEdges"/>
<path d="M195.45,1852.3V1169.0M1289.5,1169.0V1852.3M194.04999999999998,1852.3H1290.9" fill="none" stroke="#666666" stroke-width="2.8" shape-rendering="crispEdges"/>
<path d="M194.04999999999998,1169.0H1290.9" fill="none" stroke="#666666" stroke-width="2" shape-rendering="crispEdges"/>
<g shape-rendering="crispEdges">
<ellipse cx="305.5" cy="1723.0" rx="9.5" ry="9.0" fill="#ff0000"/>
<ellipse cx="523.5" cy="1603.0" rx="9.5" ry="9.0" fill="#ff0000"/>
<ellipse cx="742.5" cy="1463.9" rx="9.5" ry="9.0" fill="#ff0000"/>
<ellipse cx="961.5" cy="1368.0" rx="9.5" ry="9.0" fill="#ff0000"/>
<ellipse cx="1180.5" cy="1231.0" rx="9.5" ry="9.0" fill="#ff0000"/>
<rect x="298.0" y="1713.0" width="13" height="12" fill="#ff8000"/>
<rect x="517.0" y="1593.9" width="13" height="12" fill="#ff8000"/>
<rect x="736.0" y="1455.0" width="13" height="12" fill="#ff8000"/>
<rect x="954.0" y="1359.0" width="13" height="12" fill="#ff8000"/>
<rect x="1173.0" y="1222.0" width="13" height="12" fill="#ff8000"/>
<path d="M305.0,1749.9L317.0,1760.4L305.0,1770.9L293.0,1760.4Z" fill="#000"/>
<path d="M524.0,1750.8L536.0,1761.3L524.0,1771.8L512.0,1761.3Z" fill="#000"/>
<path d="M743.0,1749.9L755.0,1760.4L743.0,1770.9L731.0,1760.4Z" fill="#000"/>
<path d="M961.1,1749.9L973.1,1760.4L961.1,1770.9L949.1,1760.4Z" fill="#000"/>
<path d="M1180.0,1748.9L1192.0,1759.4L1180.0,1769.9L1168.0,1759.4Z" fill="#000"/>
<path d="M305.0,1749.7L314.0,1769.0L296.0,1769.0Z" fill="#00ff00"/>
<path d="M523.0,1751.0L532.0,1769.8L514.0,1769.8Z" fill="#00ff00"/>
<path d="M742.1,1750.7L751.1,1769.8L733.1,1769.8Z" fill="#00ff00"/>
<path d="M961.0,1750.0L970.0,1768.9L952.0,1768.9Z" fill="#00ff00"/>
<path d="M1180.0,1749.0L1189.0,1768.0L1171.0,1768.0Z" fill="#00ff00"/>
<ellipse cx="143.5" cy="1030" rx="9.5" ry="9.05" fill="#ff0000"/>
<rect x="136" y="1085" width="13" height="12" fill="#ff8000"/>
<path d="M789.0,1020.0000000000001L801.0,1030.4L789.0,1040.8000000000002L777.0,1030.4Z" fill="#000"/>
<path d="M788.0,1089.8L797.0,1109.0L779.0,1109.0Z" fill="#00ff00"/>
</g>
<rect x="778.90" y="1647.5" width="12.4" height="5.3" fill="#808080"/>
<rect x="794.25" y="1647.5" width="12.4" height="5.3" fill="#808080"/>
<rect x="809.60" y="1647.5" width="12.4" height="5.3" fill="#808080"/>
<rect x="824.95" y="1647.5" width="12.4" height="5.3" fill="#808080"/>
<rect x="840.30" y="1647.5" width="12.4" height="5.3" fill="#808080"/>
<rect x="855.65" y="1647.5" width="12.4" height="5.3" fill="#808080"/>
<path d="M1052.9,1878.3L1067.5,1838.6M1072.8,1878.3L1087.6,1838.6" stroke="#000" stroke-width="3.6" shape-rendering="crispEdges"/>
<defs><filter id="bin" x="0" y="0" width="100%" height="100%" filterUnits="userSpaceOnUse"><feComponentTransfer><feFuncA type="discrete" tableValues="0 1"/></feComponentTransfer></filter></defs>
<g filter="url(#bin)">
<text transform="translate(21.70,91.80) scale(0.9591,1.0739)" font-weight="400" fill="#000" xml:space="preserve">A</text>
<text transform="translate(22.74,970.90) scale(0.9075,1.0594)" font-weight="400" fill="#000" xml:space="preserve">B</text>
<text transform="translate(114.02,815.30) scale(0.4400,0.4400)" font-weight="400" fill="#000" xml:space="preserve">293</text>
<text transform="translate(113.14,714.80) scale(0.4400,0.4400)" font-weight="400" fill="#000" xml:space="preserve">294</text>
<text transform="translate(113.58,615.30) scale(0.4400,0.4400)" font-weight="400" fill="#000" xml:space="preserve">295</text>
<text transform="translate(114.02,513.90) scale(0.4400,0.4400)" font-weight="400" fill="#000" xml:space="preserve">296</text>
<text transform="translate(114.02,413.40) scale(0.4400,0.4400)" font-weight="400" fill="#000" xml:space="preserve">297</text>
<text transform="translate(114.02,312.80) scale(0.4400,0.4400)" font-weight="400" fill="#000" xml:space="preserve">298</text>
<text transform="translate(114.02,211.90) scale(0.4400,0.4400)" font-weight="400" fill="#000" xml:space="preserve">299</text>
<text transform="translate(210.07,872.00) scale(0.4333,0.4400)" font-weight="400" fill="#000" xml:space="preserve">0</text>
<text transform="translate(370.36,872.00) scale(0.4545,0.4400)" font-weight="400" fill="#000" xml:space="preserve">10</text>
<text transform="translate(547.26,872.00) scale(0.4480,0.4400)" font-weight="400" fill="#000" xml:space="preserve">20</text>
<text transform="translate(723.60,872.00) scale(0.4505,0.4400)" font-weight="400" fill="#000" xml:space="preserve">30</text>
<text transform="translate(899.80,872.00) scale(0.4476,0.4400)" font-weight="400" fill="#000" xml:space="preserve">40</text>
<text transform="translate(1075.91,872.00) scale(0.4485,0.4400)" font-weight="400" fill="#000" xml:space="preserve">50</text>
<text transform="translate(1253.60,872.00) scale(0.4392,0.4400)" font-weight="400" fill="#000" xml:space="preserve">60</text>
<text transform="translate(660.96,934.10) scale(0.5179,0.5188)" font-weight="400" fill="#000" xml:space="preserve">Time</text>
<text transform="translate(789.45,934.10) scale(0.4577,0.5188)" font-weight="400" fill="#000" xml:space="preserve">(s)</text>
<text transform="translate(70.90,682.08) rotate(-90) scale(0.5879,0.5768)" font-weight="400" fill="#000" xml:space="preserve">Temperature</text>
<text transform="translate(71.00,324.24) rotate(-90) scale(0.5231,0.5928)" font-weight="400" fill="#000" xml:space="preserve">(K)</text>
<text transform="translate(344.73,237.00) scale(0.2787,0.3971)" font-weight="700" fill="#000" xml:space="preserve">1</text>
<text transform="translate(374.80,237.00) scale(0.3855,0.3971)" font-weight="700" fill="#000" xml:space="preserve">mm</text>
<text transform="translate(344.22,304.70) scale(0.3918,0.3971)" font-weight="700" fill="#000" xml:space="preserve">2</text>
<text transform="translate(374.80,304.70) scale(0.3855,0.3971)" font-weight="700" fill="#000" xml:space="preserve">mm</text>
<text transform="translate(343.92,372.90) scale(0.3900,0.3971)" font-weight="700" fill="#000" xml:space="preserve">3</text>
<text transform="translate(374.80,372.90) scale(0.3855,0.3971)" font-weight="700" fill="#000" xml:space="preserve">mm</text>
<text transform="translate(343.93,440.60) scale(0.3849,0.3971)" font-weight="700" fill="#000" xml:space="preserve">4</text>
<text transform="translate(374.80,440.60) scale(0.3855,0.3971)" font-weight="700" fill="#000" xml:space="preserve">mm</text>
<text transform="translate(343.53,508.70) scale(0.3900,0.3971)" font-weight="700" fill="#000" xml:space="preserve">8</text>
<text transform="translate(374.80,508.70) scale(0.3855,0.3971)" font-weight="700" fill="#000" xml:space="preserve">mm</text>
<text transform="translate(629.92,304.70) scale(0.3960,0.4068)" font-weight="700" fill="#000" xml:space="preserve">d</text>
<text transform="translate(180.80,1042.70) scale(0.4500,0.4333)" font-weight="400" fill="#000" xml:space="preserve">No</text>
<text transform="translate(249.84,1042.70) scale(0.4639,0.4333)" font-weight="400" fill="#000" xml:space="preserve">correction</text>
<text transform="translate(466.41,1042.70) scale(0.4412,0.4333)" font-weight="400" fill="#000" xml:space="preserve">using</text>
<text transform="translate(582.50,1042.70) scale(0.3894,0.4333)" font-weight="400" fill="#000" xml:space="preserve">A</text>
<text transform="translate(177.51,1108.20) scale(0.4491,0.4348)" font-weight="400" fill="#000" xml:space="preserve">No</text>
<text transform="translate(245.84,1108.20) scale(0.4653,0.4348)" font-weight="400" fill="#000" xml:space="preserve">correction</text>
<text transform="translate(462.53,1108.20) scale(0.4385,0.4348)" font-weight="400" fill="#000" xml:space="preserve">using</text>
<text transform="translate(577.62,1108.20) scale(0.3956,0.4348)" font-weight="400" fill="#000" xml:space="preserve">S0</text>
<text transform="translate(638.57,1108.20) scale(0.4328,0.4348)" font-weight="400" fill="#000" xml:space="preserve">&amp;</text>
<text transform="translate(680.70,1108.20) scale(0.4006,0.4348)" font-weight="400" fill="#000" xml:space="preserve">S90</text>
<text transform="translate(829.13,1043.30) scale(0.4533,0.4507)" font-weight="400" fill="#000" xml:space="preserve">Correction</text>
<text transform="translate(1049.47,1043.30) scale(0.4465,0.4507)" font-weight="400" fill="#000" xml:space="preserve">using</text>
<text transform="translate(1168.00,1043.30) scale(0.3818,0.4507)" font-weight="400" fill="#000" xml:space="preserve">A</text>
<text transform="translate(826.03,1107.50) scale(0.4533,0.4348)" font-weight="400" fill="#000" xml:space="preserve">Correction</text>
<text transform="translate(1047.25,1107.50) scale(0.4363,0.4348)" font-weight="400" fill="#000" xml:space="preserve">using</text>
<text transform="translate(1163.04,1107.50) scale(0.3912,0.4348)" font-weight="400" fill="#000" xml:space="preserve">S0</text>
<text transform="translate(1222.87,1107.50) scale(0.4328,0.4348)" font-weight="400" fill="#000" xml:space="preserve">&amp;</text>
<text transform="translate(1266.20,1107.50) scale(0.4000,0.4348)" font-weight="400" fill="#000" xml:space="preserve">S90</text>
<text transform="translate(120.10,1185.00) scale(0.4511,0.4429)" font-weight="400" fill="#000" xml:space="preserve">3.0</text>
<text transform="translate(119.54,1311.00) scale(0.4323,0.4386)" font-weight="400" fill="#000" xml:space="preserve">2.5</text>
<text transform="translate(119.51,1462.60) scale(0.4377,0.4343)" font-weight="400" fill="#000" xml:space="preserve">2.0</text>
<text transform="translate(119.03,1619.90) scale(0.4339,0.4343)" font-weight="400" fill="#000" xml:space="preserve">1.5</text>
<text transform="translate(118.63,1775.00) scale(0.4457,0.4371)" font-weight="400" fill="#000" xml:space="preserve">1.0</text>
<text transform="translate(291.31,1906.20) scale(0.4488,0.4429)" font-weight="400" fill="#000" xml:space="preserve">1</text>
<text transform="translate(511.79,1906.20) scale(0.4413,0.4429)" font-weight="400" fill="#000" xml:space="preserve">2</text>
<text transform="translate(730.38,1906.20) scale(0.4043,0.4429)" font-weight="400" fill="#000" xml:space="preserve">3</text>
<text transform="translate(947.93,1906.20) scale(0.4353,0.4429)" font-weight="400" fill="#000" xml:space="preserve">4</text>
<text transform="translate(1169.79,1906.20) scale(0.4532,0.4429)" font-weight="400" fill="#000" xml:space="preserve">8</text>
<text transform="translate(660.49,1981.10) scale(0.5022,0.5233)" font-weight="400" fill="#000" xml:space="preserve">d</text>
<text transform="translate(702.65,1981.10) scale(0.5258,0.5233)" font-weight="400" fill="#000" xml:space="preserve">(mm)</text>
<text transform="translate(75.00,1845.36) rotate(-90) scale(0.5127,0.5232)" font-weight="400" fill="#000" xml:space="preserve">Computed</text>
<text transform="translate(75.00,1594.17) rotate(-90) scale(0.5248,0.5232)" font-weight="400" fill="#000" xml:space="preserve">heating</text>
<text transform="translate(75.00,1409.50) rotate(-90) scale(0.4996,0.5232)" font-weight="400" fill="#000" xml:space="preserve">slope</text>
<text transform="translate(75.00,1269.72) rotate(-90) scale(0.4693,0.5232)" font-weight="400" fill="#000" xml:space="preserve">(K/s)</text>
<text transform="translate(887.51,1664.50) scale(0.5118,0.5110)" font-weight="400" fill="#808080" xml:space="preserve">Predicted</text>
<text transform="translate(1117.50,1664.50) scale(0.4961,0.5110)" font-weight="400" fill="#808080" xml:space="preserve">values</text>
</g>
</svg></body></html>
